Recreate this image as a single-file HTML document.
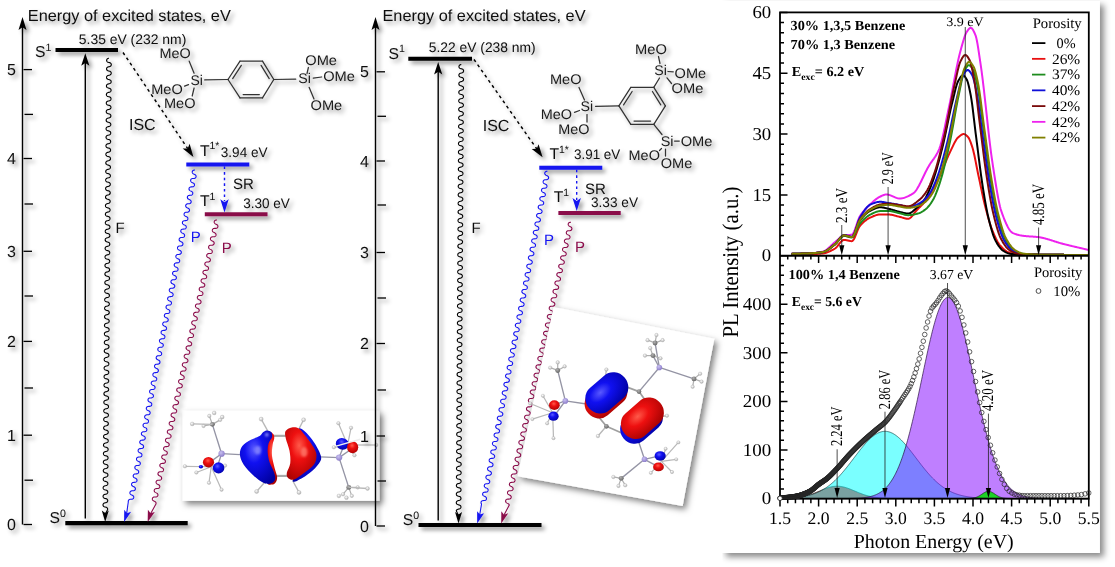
<!DOCTYPE html>
<html lang="en"><head><meta charset="utf-8"><title>Energy diagram and PL spectra</title>
<style>html,body{margin:0;padding:0;background:#fff}svg{display:block;text-rendering:geometricPrecision}</style></head><body>
<svg width="1115" height="567" viewBox="0 0 1115 567">
<defs>
<filter id="sh" x="-5%" y="-5%" width="115%" height="115%"><feDropShadow dx="3" dy="3" stdDeviation="2.2" flood-color="#000" flood-opacity="0.42"/></filter>
<filter id="shBox" x="-10%" y="-10%" width="125%" height="125%"><feDropShadow dx="3" dy="3.5" stdDeviation="3" flood-color="#000" flood-opacity="0.5"/></filter>
<filter id="shPanel" x="-5%" y="-5%" width="112%" height="112%"><feDropShadow dx="4" dy="4" stdDeviation="3.1" flood-color="#000" flood-opacity="0.46"/></filter>
<radialGradient id="gB" cx="40%" cy="35%" r="75%"><stop offset="0" stop-color="#5a5aff"/><stop offset="0.35" stop-color="#1010f0"/><stop offset="1" stop-color="#0000a0"/></radialGradient>
<radialGradient id="gR" cx="45%" cy="35%" r="75%"><stop offset="0" stop-color="#ff5a4a"/><stop offset="0.35" stop-color="#ee1010"/><stop offset="1" stop-color="#a00000"/></radialGradient>
<radialGradient id="gSi" cx="40%" cy="35%" r="70%"><stop offset="0" stop-color="#c8c0f0"/><stop offset="1" stop-color="#8878c8"/></radialGradient>
<radialGradient id="gH" cx="40%" cy="35%" r="70%"><stop offset="0" stop-color="#ffffff"/><stop offset="1" stop-color="#a8a8a8"/></radialGradient>
<radialGradient id="gC" cx="40%" cy="35%" r="70%"><stop offset="0" stop-color="#b0b0b0"/><stop offset="1" stop-color="#606060"/></radialGradient>
<filter id="blur1" x="-50%" y="-50%" width="200%" height="200%"><feGaussianBlur stdDeviation="1.3"/></filter>
</defs>
<rect width="1115" height="567" fill="#fff"/>
<g filter="url(#shPanel)"><rect x="722" y="1" width="377.9" height="552" fill="#fff"/></g>
<rect x="708" y="0" width="14.4" height="567" fill="#fff"/>
<clipPath id="cl1"><rect x="780" y="12.4" width="308.8" height="243.3"/></clipPath>
<clipPath id="cl3"><rect x="777" y="255.7" width="314.8" height="243.5"/></clipPath>
<clipPath id="cl2"><rect x="780" y="255.7" width="308.8" height="245.9"/></clipPath>
<g clip-path="url(#cl2)">
<path d="M780 498.6 L780 498.53 L780.62 498.52 L781.24 498.51 L781.86 498.5 L782.48 498.49 L783.09 498.48 L783.71 498.47 L784.33 498.45 L784.95 498.43 L785.57 498.42 L786.19 498.4 L786.81 498.38 L787.43 498.35 L788.04 498.33 L788.66 498.3 L789.28 498.27 L789.9 498.24 L790.52 498.2 L791.14 498.17 L791.76 498.13 L792.38 498.08 L793 498.04 L793.61 497.98 L794.23 497.93 L794.85 497.87 L795.47 497.81 L796.09 497.74 L796.71 497.67 L797.33 497.6 L797.95 497.51 L798.57 497.43 L799.18 497.34 L799.8 497.24 L800.42 497.14 L801.04 497.03 L801.66 496.92 L802.28 496.79 L802.9 496.67 L803.52 496.54 L804.13 496.4 L804.75 496.25 L805.37 496.1 L805.99 495.94 L806.61 495.77 L807.23 495.6 L807.85 495.42 L808.47 495.23 L809.09 495.04 L809.7 494.84 L810.32 494.64 L810.94 494.42 L811.56 494.21 L812.18 493.98 L812.8 493.75 L813.42 493.52 L814.04 493.28 L814.65 493.04 L815.27 492.79 L815.89 492.54 L816.51 492.29 L817.13 492.03 L817.75 491.77 L818.37 491.51 L818.99 491.25 L819.61 490.99 L820.22 490.73 L820.84 490.47 L821.46 490.21 L822.08 489.95 L822.7 489.7 L823.32 489.45 L823.94 489.2 L824.56 488.96 L825.18 488.72 L825.79 488.5 L826.41 488.27 L827.03 488.06 L827.65 487.86 L828.27 487.66 L828.89 487.48 L829.51 487.3 L830.13 487.14 L830.74 486.99 L831.36 486.85 L831.98 486.72 L832.6 486.61 L833.22 486.51 L833.84 486.42 L834.46 486.35 L835.08 486.29 L835.7 486.25 L836.31 486.23 L836.93 486.21 L837.55 486.22 L838.17 486.23 L838.79 486.27 L839.41 486.31 L840.03 486.38 L840.65 486.45 L841.26 486.54 L841.88 486.65 L842.5 486.77 L843.12 486.9 L843.74 487.04 L844.36 487.2 L844.98 487.37 L845.6 487.54 L846.22 487.73 L846.83 487.93 L847.45 488.14 L848.07 488.36 L848.69 488.58 L849.31 488.81 L849.93 489.05 L850.55 489.29 L851.17 489.54 L851.79 489.79 L852.4 490.04 L853.02 490.3 L853.64 490.56 L854.26 490.82 L854.88 491.08 L855.5 491.35 L856.12 491.61 L856.74 491.87 L857.35 492.13 L857.97 492.38 L858.59 492.63 L859.21 492.88 L859.83 493.13 L860.45 493.37 L861.07 493.61 L861.69 493.84 L862.31 494.07 L862.92 494.29 L863.54 494.5 L864.16 494.71 L864.78 494.92 L865.4 495.11 L866.02 495.3 L866.64 495.49 L867.26 495.66 L867.87 495.83 L868.49 496 L869.11 496.15 L869.73 496.3 L870.35 496.45 L870.97 496.59 L871.59 496.72 L872.21 496.84 L872.83 496.96 L873.44 497.07 L874.06 497.18 L874.68 497.28 L875.3 497.37 L875.92 497.46 L876.54 497.55 L877.16 497.62 L877.78 497.7 L878.4 497.77 L879.01 497.83 L879.63 497.89 L880.25 497.95 L880.87 498 L881.49 498.05 L882.11 498.1 L882.73 498.14 L883.35 498.18 L883.96 498.22 L884.58 498.25 L885.2 498.28 L885.82 498.31 L886.44 498.34 L887.06 498.36 L887.68 498.38 L888.3 498.41 L888.92 498.42 L889.53 498.44 L890.15 498.46 L890.77 498.47 L891.39 498.48 L892.01 498.5 L892.63 498.51 L893.25 498.52 L893.87 498.52 L894.48 498.53 L895.1 498.54 L895.72 498.55 L896.34 498.55 L896.96 498.56 L897.58 498.56 L898.2 498.57 L898.82 498.57 L899.44 498.57 L900.05 498.58 L900.67 498.58 L901.29 498.58 L901.91 498.58 L902.53 498.59 L903.15 498.59 L903.77 498.59 L904.39 498.59 L905.01 498.59 L905.62 498.59 L906.24 498.59 L906.86 498.59 L907.48 498.6 L908.1 498.6 L908.72 498.6 L909.34 498.6 L909.96 498.6 L910.57 498.6 L911.19 498.6 L911.81 498.6 L912.43 498.6 L913.05 498.6 L913.67 498.6 L914.29 498.6 L914.91 498.6 L915.53 498.6 L916.14 498.6 L916.76 498.6 L917.38 498.6 L918 498.6 L918.62 498.6 L919.24 498.6 L919.86 498.6 L920.48 498.6 L921.09 498.6 L921.71 498.6 L922.33 498.6 L922.95 498.6 L923.57 498.6 L924.19 498.6 L924.81 498.6 L925.43 498.6 L926.05 498.6 L926.66 498.6 L927.28 498.6 L927.9 498.6 L928.52 498.6 L929.14 498.6 L929.76 498.6 L930.38 498.6 L931 498.6 L931.62 498.6 L932.23 498.6 L932.85 498.6 L933.47 498.6 L934.09 498.6 L934.71 498.6 L935.33 498.6 L935.95 498.6 L936.57 498.6 L937.18 498.6 L937.8 498.6 L938.42 498.6 L939.04 498.6 L939.66 498.6 L940.28 498.6 L940.9 498.6 L941.52 498.6 L942.14 498.6 L942.75 498.6 L943.37 498.6 L943.99 498.6 L944.61 498.6 L945.23 498.6 L945.85 498.6 L946.47 498.6 L947.09 498.6 L947.71 498.6 L948.32 498.6 L948.94 498.6 L949.56 498.6 L950.18 498.6 L950.8 498.6 L951.42 498.6 L952.04 498.6 L952.66 498.6 L953.27 498.6 L953.89 498.6 L954.51 498.6 L955.13 498.6 L955.75 498.6 L956.37 498.6 L956.99 498.6 L957.61 498.6 L958.23 498.6 L958.84 498.6 L959.46 498.6 L960.08 498.6 L960.7 498.6 L961.32 498.6 L961.94 498.6 L962.56 498.6 L963.18 498.6 L963.79 498.6 L964.41 498.6 L965.03 498.6 L965.65 498.6 L966.27 498.6 L966.89 498.6 L967.51 498.6 L968.13 498.6 L968.75 498.6 L969.36 498.6 L969.98 498.6 L970.6 498.6 L971.22 498.6 L971.84 498.6 L972.46 498.6 L973.08 498.6 L973.7 498.6 L974.32 498.6 L974.93 498.6 L975.55 498.6 L976.17 498.6 L976.79 498.6 L977.41 498.6 L978.03 498.6 L978.65 498.6 L979.27 498.6 L979.88 498.6 L980.5 498.6 L981.12 498.6 L981.74 498.6 L982.36 498.6 L982.98 498.6 L983.6 498.6 L984.22 498.6 L984.84 498.6 L985.45 498.6 L986.07 498.6 L986.69 498.6 L987.31 498.6 L987.93 498.6 L988.55 498.6 L989.17 498.6 L989.79 498.6 L990.4 498.6 L991.02 498.6 L991.64 498.6 L992.26 498.6 L992.88 498.6 L993.5 498.6 L994.12 498.6 L994.74 498.6 L995.36 498.6 L995.97 498.6 L996.59 498.6 L997.21 498.6 L997.83 498.6 L998.45 498.6 L999.07 498.6 L999.69 498.6 L1000.31 498.6 L1000.93 498.6 L1001.54 498.6 L1002.16 498.6 L1002.78 498.6 L1003.4 498.6 L1004.02 498.6 L1004.64 498.6 L1005.26 498.6 L1005.88 498.6 L1006.49 498.6 L1007.11 498.6 L1007.73 498.6 L1008.35 498.6 L1008.97 498.6 L1009.59 498.6 L1010.21 498.6 L1010.83 498.6 L1011.45 498.6 L1012.06 498.6 L1012.68 498.6 L1013.3 498.6 L1013.92 498.6 L1014.54 498.6 L1015.16 498.6 L1015.78 498.6 L1016.4 498.6 L1017.01 498.6 L1017.63 498.6 L1018.25 498.6 L1018.87 498.6 L1019.49 498.6 L1020.11 498.6 L1020.73 498.6 L1021.35 498.6 L1021.97 498.6 L1022.58 498.6 L1023.2 498.6 L1023.82 498.6 L1024.44 498.6 L1025.06 498.6 L1025.68 498.6 L1026.3 498.6 L1026.92 498.6 L1027.54 498.6 L1028.15 498.6 L1028.77 498.6 L1029.39 498.6 L1030.01 498.6 L1030.63 498.6 L1031.25 498.6 L1031.87 498.6 L1032.49 498.6 L1033.1 498.6 L1033.72 498.6 L1034.34 498.6 L1034.96 498.6 L1035.58 498.6 L1036.2 498.6 L1036.82 498.6 L1037.44 498.6 L1038.06 498.6 L1038.67 498.6 L1039.29 498.6 L1039.91 498.6 L1040.53 498.6 L1041.15 498.6 L1041.77 498.6 L1042.39 498.6 L1043.01 498.6 L1043.62 498.6 L1044.24 498.6 L1044.86 498.6 L1045.48 498.6 L1046.1 498.6 L1046.72 498.6 L1047.34 498.6 L1047.96 498.6 L1048.58 498.6 L1049.19 498.6 L1049.81 498.6 L1050.43 498.6 L1051.05 498.6 L1051.67 498.6 L1052.29 498.6 L1052.91 498.6 L1053.53 498.6 L1054.15 498.6 L1054.76 498.6 L1055.38 498.6 L1056 498.6 L1056.62 498.6 L1057.24 498.6 L1057.86 498.6 L1058.48 498.6 L1059.1 498.6 L1059.71 498.6 L1060.33 498.6 L1060.95 498.6 L1061.57 498.6 L1062.19 498.6 L1062.81 498.6 L1063.43 498.6 L1064.05 498.6 L1064.67 498.6 L1065.28 498.6 L1065.9 498.6 L1066.52 498.6 L1067.14 498.6 L1067.76 498.6 L1068.38 498.6 L1069 498.6 L1069.62 498.6 L1070.23 498.6 L1070.85 498.6 L1071.47 498.6 L1072.09 498.6 L1072.71 498.6 L1073.33 498.6 L1073.95 498.6 L1074.57 498.6 L1075.19 498.6 L1075.8 498.6 L1076.42 498.6 L1077.04 498.6 L1077.66 498.6 L1078.28 498.6 L1078.9 498.6 L1079.52 498.6 L1080.14 498.6 L1080.76 498.6 L1081.37 498.6 L1081.99 498.6 L1082.61 498.6 L1083.23 498.6 L1083.85 498.6 L1084.47 498.6 L1085.09 498.6 L1085.71 498.6 L1086.32 498.6 L1086.94 498.6 L1087.56 498.6 L1088.18 498.6 L1088.8 498.6 L1088.8 498.6 Z" stroke="#222" fill="#ff3c3c" stroke-width="0.7" />
<path d="M780 498.6 L780 498.39 L780.62 498.38 L781.24 498.36 L781.86 498.35 L782.48 498.33 L783.09 498.31 L783.71 498.29 L784.33 498.27 L784.95 498.25 L785.57 498.22 L786.19 498.2 L786.81 498.17 L787.43 498.14 L788.04 498.11 L788.66 498.08 L789.28 498.05 L789.9 498.01 L790.52 497.98 L791.14 497.94 L791.76 497.89 L792.38 497.85 L793 497.8 L793.61 497.76 L794.23 497.7 L794.85 497.65 L795.47 497.59 L796.09 497.53 L796.71 497.47 L797.33 497.4 L797.95 497.33 L798.57 497.26 L799.18 497.18 L799.8 497.1 L800.42 497.02 L801.04 496.93 L801.66 496.84 L802.28 496.74 L802.9 496.64 L803.52 496.53 L804.13 496.42 L804.75 496.3 L805.37 496.18 L805.99 496.05 L806.61 495.92 L807.23 495.78 L807.85 495.63 L808.47 495.48 L809.09 495.32 L809.7 495.16 L810.32 494.98 L810.94 494.8 L811.56 494.62 L812.18 494.43 L812.8 494.22 L813.42 494.02 L814.04 493.8 L814.65 493.57 L815.27 493.34 L815.89 493.1 L816.51 492.85 L817.13 492.59 L817.75 492.32 L818.37 492.04 L818.99 491.75 L819.61 491.45 L820.22 491.14 L820.84 490.82 L821.46 490.49 L822.08 490.15 L822.7 489.8 L823.32 489.44 L823.94 489.07 L824.56 488.69 L825.18 488.29 L825.79 487.89 L826.41 487.47 L827.03 487.04 L827.65 486.6 L828.27 486.15 L828.89 485.68 L829.51 485.21 L830.13 484.72 L830.74 484.22 L831.36 483.71 L831.98 483.18 L832.6 482.65 L833.22 482.1 L833.84 481.54 L834.46 480.96 L835.08 480.38 L835.7 479.78 L836.31 479.18 L836.93 478.56 L837.55 477.93 L838.17 477.28 L838.79 476.63 L839.41 475.97 L840.03 475.29 L840.65 474.61 L841.26 473.91 L841.88 473.21 L842.5 472.49 L843.12 471.77 L843.74 471.03 L844.36 470.29 L844.98 469.54 L845.6 468.78 L846.22 468.02 L846.83 467.24 L847.45 466.46 L848.07 465.68 L848.69 464.88 L849.31 464.09 L849.93 463.29 L850.55 462.48 L851.17 461.67 L851.79 460.86 L852.4 460.05 L853.02 459.23 L853.64 458.41 L854.26 457.59 L854.88 456.78 L855.5 455.96 L856.12 455.14 L856.74 454.33 L857.35 453.52 L857.97 452.71 L858.59 451.91 L859.21 451.12 L859.83 450.32 L860.45 449.54 L861.07 448.76 L861.69 447.99 L862.31 447.23 L862.92 446.48 L863.54 445.74 L864.16 445.01 L864.78 444.29 L865.4 443.58 L866.02 442.89 L866.64 442.21 L867.26 441.55 L867.87 440.9 L868.49 440.27 L869.11 439.65 L869.73 439.05 L870.35 438.47 L870.97 437.91 L871.59 437.37 L872.21 436.84 L872.83 436.34 L873.44 435.86 L874.06 435.4 L874.68 434.96 L875.3 434.55 L875.92 434.16 L876.54 433.79 L877.16 433.45 L877.78 433.13 L878.4 432.83 L879.01 432.57 L879.63 432.32 L880.25 432.1 L880.87 431.91 L881.49 431.75 L882.11 431.61 L882.73 431.5 L883.35 431.41 L883.96 431.35 L884.58 431.32 L885.2 431.32 L885.82 431.34 L886.44 431.39 L887.06 431.47 L887.68 431.57 L888.3 431.7 L888.92 431.86 L889.53 432.04 L890.15 432.25 L890.77 432.49 L891.39 432.75 L892.01 433.03 L892.63 433.34 L893.25 433.68 L893.87 434.04 L894.48 434.42 L895.1 434.83 L895.72 435.26 L896.34 435.71 L896.96 436.19 L897.58 436.68 L898.2 437.2 L898.82 437.73 L899.44 438.29 L900.05 438.86 L900.67 439.46 L901.29 440.07 L901.91 440.69 L902.53 441.34 L903.15 442 L903.77 442.67 L904.39 443.36 L905.01 444.06 L905.62 444.78 L906.24 445.5 L906.86 446.24 L907.48 446.99 L908.1 447.75 L908.72 448.51 L909.34 449.29 L909.96 450.07 L910.57 450.86 L911.19 451.66 L911.81 452.46 L912.43 453.26 L913.05 454.07 L913.67 454.88 L914.29 455.7 L914.91 456.52 L915.53 457.33 L916.14 458.15 L916.76 458.97 L917.38 459.78 L918 460.6 L918.62 461.41 L919.24 462.22 L919.86 463.03 L920.48 463.83 L921.09 464.63 L921.71 465.42 L922.33 466.21 L922.95 466.99 L923.57 467.77 L924.19 468.54 L924.81 469.3 L925.43 470.05 L926.05 470.8 L926.66 471.53 L927.28 472.26 L927.9 472.98 L928.52 473.69 L929.14 474.39 L929.76 475.07 L930.38 475.75 L931 476.42 L931.62 477.08 L932.23 477.72 L932.85 478.36 L933.47 478.98 L934.09 479.59 L934.71 480.19 L935.33 480.78 L935.95 481.36 L936.57 481.92 L937.18 482.47 L937.8 483.01 L938.42 483.54 L939.04 484.06 L939.66 484.56 L940.28 485.05 L940.9 485.53 L941.52 486 L942.14 486.46 L942.75 486.9 L943.37 487.33 L943.99 487.76 L944.61 488.16 L945.23 488.56 L945.85 488.95 L946.47 489.33 L947.09 489.69 L947.71 490.04 L948.32 490.39 L948.94 490.72 L949.56 491.04 L950.18 491.35 L950.8 491.65 L951.42 491.95 L952.04 492.23 L952.66 492.5 L953.27 492.76 L953.89 493.02 L954.51 493.26 L955.13 493.5 L955.75 493.73 L956.37 493.95 L956.99 494.16 L957.61 494.36 L958.23 494.56 L958.84 494.75 L959.46 494.93 L960.08 495.1 L960.7 495.27 L961.32 495.43 L961.94 495.58 L962.56 495.73 L963.18 495.87 L963.79 496.01 L964.41 496.14 L965.03 496.26 L965.65 496.38 L966.27 496.49 L966.89 496.6 L967.51 496.71 L968.13 496.81 L968.75 496.9 L969.36 496.99 L969.98 497.08 L970.6 497.16 L971.22 497.24 L971.84 497.31 L972.46 497.38 L973.08 497.45 L973.7 497.51 L974.32 497.57 L974.93 497.63 L975.55 497.69 L976.17 497.74 L976.79 497.79 L977.41 497.84 L978.03 497.88 L978.65 497.92 L979.27 497.96 L979.88 498 L980.5 498.04 L981.12 498.07 L981.74 498.1 L982.36 498.13 L982.98 498.16 L983.6 498.19 L984.22 498.21 L984.84 498.24 L985.45 498.26 L986.07 498.28 L986.69 498.3 L987.31 498.32 L987.93 498.34 L988.55 498.36 L989.17 498.37 L989.79 498.39 L990.4 498.4 L991.02 498.41 L991.64 498.43 L992.26 498.44 L992.88 498.45 L993.5 498.46 L994.12 498.47 L994.74 498.48 L995.36 498.49 L995.97 498.49 L996.59 498.5 L997.21 498.51 L997.83 498.52 L998.45 498.52 L999.07 498.53 L999.69 498.53 L1000.31 498.54 L1000.93 498.54 L1001.54 498.55 L1002.16 498.55 L1002.78 498.55 L1003.4 498.56 L1004.02 498.56 L1004.64 498.56 L1005.26 498.57 L1005.88 498.57 L1006.49 498.57 L1007.11 498.57 L1007.73 498.58 L1008.35 498.58 L1008.97 498.58 L1009.59 498.58 L1010.21 498.58 L1010.83 498.58 L1011.45 498.58 L1012.06 498.59 L1012.68 498.59 L1013.3 498.59 L1013.92 498.59 L1014.54 498.59 L1015.16 498.59 L1015.78 498.59 L1016.4 498.59 L1017.01 498.59 L1017.63 498.59 L1018.25 498.59 L1018.87 498.59 L1019.49 498.59 L1020.11 498.6 L1020.73 498.6 L1021.35 498.6 L1021.97 498.6 L1022.58 498.6 L1023.2 498.6 L1023.82 498.6 L1024.44 498.6 L1025.06 498.6 L1025.68 498.6 L1026.3 498.6 L1026.92 498.6 L1027.54 498.6 L1028.15 498.6 L1028.77 498.6 L1029.39 498.6 L1030.01 498.6 L1030.63 498.6 L1031.25 498.6 L1031.87 498.6 L1032.49 498.6 L1033.1 498.6 L1033.72 498.6 L1034.34 498.6 L1034.96 498.6 L1035.58 498.6 L1036.2 498.6 L1036.82 498.6 L1037.44 498.6 L1038.06 498.6 L1038.67 498.6 L1039.29 498.6 L1039.91 498.6 L1040.53 498.6 L1041.15 498.6 L1041.77 498.6 L1042.39 498.6 L1043.01 498.6 L1043.62 498.6 L1044.24 498.6 L1044.86 498.6 L1045.48 498.6 L1046.1 498.6 L1046.72 498.6 L1047.34 498.6 L1047.96 498.6 L1048.58 498.6 L1049.19 498.6 L1049.81 498.6 L1050.43 498.6 L1051.05 498.6 L1051.67 498.6 L1052.29 498.6 L1052.91 498.6 L1053.53 498.6 L1054.15 498.6 L1054.76 498.6 L1055.38 498.6 L1056 498.6 L1056.62 498.6 L1057.24 498.6 L1057.86 498.6 L1058.48 498.6 L1059.1 498.6 L1059.71 498.6 L1060.33 498.6 L1060.95 498.6 L1061.57 498.6 L1062.19 498.6 L1062.81 498.6 L1063.43 498.6 L1064.05 498.6 L1064.67 498.6 L1065.28 498.6 L1065.9 498.6 L1066.52 498.6 L1067.14 498.6 L1067.76 498.6 L1068.38 498.6 L1069 498.6 L1069.62 498.6 L1070.23 498.6 L1070.85 498.6 L1071.47 498.6 L1072.09 498.6 L1072.71 498.6 L1073.33 498.6 L1073.95 498.6 L1074.57 498.6 L1075.19 498.6 L1075.8 498.6 L1076.42 498.6 L1077.04 498.6 L1077.66 498.6 L1078.28 498.6 L1078.9 498.6 L1079.52 498.6 L1080.14 498.6 L1080.76 498.6 L1081.37 498.6 L1081.99 498.6 L1082.61 498.6 L1083.23 498.6 L1083.85 498.6 L1084.47 498.6 L1085.09 498.6 L1085.71 498.6 L1086.32 498.6 L1086.94 498.6 L1087.56 498.6 L1088.18 498.6 L1088.8 498.6 L1088.8 498.6 Z" stroke="#1a4a4a" fill="#00ffff" stroke-width="0.7" fill-opacity="0.52"/>
<path d="M780 498.6 L780 498.6 L780.62 498.6 L781.24 498.6 L781.86 498.6 L782.48 498.6 L783.09 498.6 L783.71 498.6 L784.33 498.6 L784.95 498.6 L785.57 498.6 L786.19 498.6 L786.81 498.6 L787.43 498.6 L788.04 498.6 L788.66 498.6 L789.28 498.6 L789.9 498.6 L790.52 498.6 L791.14 498.6 L791.76 498.6 L792.38 498.6 L793 498.6 L793.61 498.6 L794.23 498.6 L794.85 498.6 L795.47 498.6 L796.09 498.6 L796.71 498.6 L797.33 498.6 L797.95 498.6 L798.57 498.6 L799.18 498.6 L799.8 498.6 L800.42 498.6 L801.04 498.6 L801.66 498.6 L802.28 498.6 L802.9 498.6 L803.52 498.6 L804.13 498.6 L804.75 498.6 L805.37 498.6 L805.99 498.6 L806.61 498.6 L807.23 498.6 L807.85 498.6 L808.47 498.6 L809.09 498.6 L809.7 498.6 L810.32 498.6 L810.94 498.6 L811.56 498.6 L812.18 498.6 L812.8 498.6 L813.42 498.6 L814.04 498.6 L814.65 498.6 L815.27 498.6 L815.89 498.6 L816.51 498.6 L817.13 498.6 L817.75 498.6 L818.37 498.6 L818.99 498.6 L819.61 498.6 L820.22 498.6 L820.84 498.6 L821.46 498.6 L822.08 498.6 L822.7 498.6 L823.32 498.6 L823.94 498.6 L824.56 498.6 L825.18 498.6 L825.79 498.6 L826.41 498.6 L827.03 498.6 L827.65 498.6 L828.27 498.6 L828.89 498.6 L829.51 498.6 L830.13 498.59 L830.74 498.59 L831.36 498.59 L831.98 498.59 L832.6 498.59 L833.22 498.59 L833.84 498.59 L834.46 498.59 L835.08 498.59 L835.7 498.59 L836.31 498.58 L836.93 498.58 L837.55 498.58 L838.17 498.58 L838.79 498.58 L839.41 498.57 L840.03 498.57 L840.65 498.57 L841.26 498.57 L841.88 498.56 L842.5 498.56 L843.12 498.55 L843.74 498.55 L844.36 498.54 L844.98 498.54 L845.6 498.53 L846.22 498.52 L846.83 498.52 L847.45 498.51 L848.07 498.5 L848.69 498.49 L849.31 498.48 L849.93 498.47 L850.55 498.45 L851.17 498.44 L851.79 498.42 L852.4 498.41 L853.02 498.39 L853.64 498.37 L854.26 498.35 L854.88 498.32 L855.5 498.3 L856.12 498.27 L856.74 498.24 L857.35 498.21 L857.97 498.17 L858.59 498.14 L859.21 498.1 L859.83 498.05 L860.45 498 L861.07 497.95 L861.69 497.9 L862.31 497.84 L862.92 497.78 L863.54 497.71 L864.16 497.63 L864.78 497.55 L865.4 497.47 L866.02 497.38 L866.64 497.28 L867.26 497.18 L867.87 497.07 L868.49 496.95 L869.11 496.82 L869.73 496.68 L870.35 496.53 L870.97 496.38 L871.59 496.21 L872.21 496.04 L872.83 495.85 L873.44 495.65 L874.06 495.43 L874.68 495.2 L875.3 494.96 L875.92 494.71 L876.54 494.43 L877.16 494.15 L877.78 493.84 L878.4 493.52 L879.01 493.17 L879.63 492.81 L880.25 492.43 L880.87 492.03 L881.49 491.6 L882.11 491.15 L882.73 490.68 L883.35 490.18 L883.96 489.65 L884.58 489.1 L885.2 488.52 L885.82 487.91 L886.44 487.26 L887.06 486.59 L887.68 485.89 L888.3 485.15 L888.92 484.38 L889.53 483.57 L890.15 482.72 L890.77 481.84 L891.39 480.92 L892.01 479.96 L892.63 478.95 L893.25 477.91 L893.87 476.82 L894.48 475.69 L895.1 474.52 L895.72 473.3 L896.34 472.03 L896.96 470.71 L897.58 469.35 L898.2 467.94 L898.82 466.48 L899.44 464.97 L900.05 463.41 L900.67 461.8 L901.29 460.13 L901.91 458.42 L902.53 456.65 L903.15 454.83 L903.77 452.96 L904.39 451.04 L905.01 449.06 L905.62 447.03 L906.24 444.95 L906.86 442.82 L907.48 440.64 L908.1 438.4 L908.72 436.12 L909.34 433.79 L909.96 431.41 L910.57 428.99 L911.19 426.52 L911.81 424 L912.43 421.44 L913.05 418.84 L913.67 416.21 L914.29 413.53 L914.91 410.82 L915.53 408.07 L916.14 405.29 L916.76 402.49 L917.38 399.66 L918 396.8 L918.62 393.92 L919.24 391.02 L919.86 388.11 L920.48 385.18 L921.09 382.25 L921.71 379.31 L922.33 376.36 L922.95 373.42 L923.57 370.48 L924.19 367.54 L924.81 364.62 L925.43 361.71 L926.05 358.82 L926.66 355.96 L927.28 353.11 L927.9 350.3 L928.52 347.53 L929.14 344.79 L929.76 342.09 L930.38 339.43 L931 336.83 L931.62 334.28 L932.23 331.79 L932.85 329.36 L933.47 326.99 L934.09 324.69 L934.71 322.46 L935.33 320.31 L935.95 318.24 L936.57 316.24 L937.18 314.34 L937.8 312.52 L938.42 310.8 L939.04 309.17 L939.66 307.63 L940.28 306.2 L940.9 304.87 L941.52 303.64 L942.14 302.52 L942.75 301.51 L943.37 300.61 L943.99 299.82 L944.61 299.14 L945.23 298.58 L945.85 298.13 L946.47 297.8 L947.09 297.58 L947.71 297.49 L948.32 297.51 L948.94 297.64 L949.56 297.9 L950.18 298.27 L950.8 298.75 L951.42 299.35 L952.04 300.07 L952.66 300.9 L953.27 301.84 L953.89 302.89 L954.51 304.04 L955.13 305.3 L955.75 306.67 L956.37 308.14 L956.99 309.71 L957.61 311.37 L958.23 313.13 L958.84 314.97 L959.46 316.91 L960.08 318.93 L960.7 321.03 L961.32 323.2 L961.94 325.46 L962.56 327.78 L963.18 330.17 L963.79 332.62 L964.41 335.14 L965.03 337.7 L965.65 340.32 L966.27 342.99 L966.89 345.71 L967.51 348.46 L968.13 351.25 L968.75 354.07 L969.36 356.92 L969.98 359.8 L970.6 362.69 L971.22 365.6 L971.84 368.53 L972.46 371.47 L973.08 374.41 L973.7 377.36 L974.32 380.3 L974.93 383.24 L975.55 386.17 L976.17 389.09 L976.79 392 L977.41 394.89 L978.03 397.76 L978.65 400.61 L979.27 403.44 L979.88 406.23 L980.5 409 L981.12 411.74 L981.74 414.44 L982.36 417.1 L982.98 419.73 L983.6 422.31 L984.22 424.85 L984.84 427.36 L985.45 429.81 L986.07 432.22 L986.69 434.58 L987.31 436.9 L987.93 439.16 L988.55 441.38 L989.17 443.54 L989.79 445.66 L990.4 447.72 L991.02 449.73 L991.64 451.69 L992.26 453.6 L992.88 455.45 L993.5 457.25 L994.12 459 L994.74 460.7 L995.36 462.35 L995.97 463.94 L996.59 465.48 L997.21 466.98 L997.83 468.42 L998.45 469.82 L999.07 471.16 L999.69 472.46 L1000.31 473.71 L1000.93 474.92 L1001.54 476.08 L1002.16 477.19 L1002.78 478.27 L1003.4 479.3 L1004.02 480.29 L1004.64 481.23 L1005.26 482.14 L1005.88 483.01 L1006.49 483.84 L1007.11 484.64 L1007.73 485.4 L1008.35 486.13 L1008.97 486.82 L1009.59 487.48 L1010.21 488.11 L1010.83 488.72 L1011.45 489.29 L1012.06 489.83 L1012.68 490.35 L1013.3 490.84 L1013.92 491.3 L1014.54 491.75 L1015.16 492.16 L1015.78 492.56 L1016.4 492.94 L1017.01 493.29 L1017.63 493.63 L1018.25 493.95 L1018.87 494.25 L1019.49 494.53 L1020.11 494.79 L1020.73 495.05 L1021.35 495.28 L1021.97 495.51 L1022.58 495.71 L1023.2 495.91 L1023.82 496.1 L1024.44 496.27 L1025.06 496.43 L1025.68 496.58 L1026.3 496.73 L1026.92 496.86 L1027.54 496.99 L1028.15 497.1 L1028.77 497.21 L1029.39 497.32 L1030.01 497.41 L1030.63 497.5 L1031.25 497.58 L1031.87 497.66 L1032.49 497.73 L1033.1 497.8 L1033.72 497.86 L1034.34 497.92 L1034.96 497.97 L1035.58 498.02 L1036.2 498.07 L1036.82 498.11 L1037.44 498.15 L1038.06 498.19 L1038.67 498.22 L1039.29 498.25 L1039.91 498.28 L1040.53 498.31 L1041.15 498.33 L1041.77 498.35 L1042.39 498.37 L1043.01 498.39 L1043.62 498.41 L1044.24 498.43 L1044.86 498.44 L1045.48 498.46 L1046.1 498.47 L1046.72 498.48 L1047.34 498.49 L1047.96 498.5 L1048.58 498.51 L1049.19 498.52 L1049.81 498.53 L1050.43 498.53 L1051.05 498.54 L1051.67 498.54 L1052.29 498.55 L1052.91 498.55 L1053.53 498.56 L1054.15 498.56 L1054.76 498.57 L1055.38 498.57 L1056 498.57 L1056.62 498.58 L1057.24 498.58 L1057.86 498.58 L1058.48 498.58 L1059.1 498.58 L1059.71 498.59 L1060.33 498.59 L1060.95 498.59 L1061.57 498.59 L1062.19 498.59 L1062.81 498.59 L1063.43 498.59 L1064.05 498.59 L1064.67 498.59 L1065.28 498.59 L1065.9 498.59 L1066.52 498.6 L1067.14 498.6 L1067.76 498.6 L1068.38 498.6 L1069 498.6 L1069.62 498.6 L1070.23 498.6 L1070.85 498.6 L1071.47 498.6 L1072.09 498.6 L1072.71 498.6 L1073.33 498.6 L1073.95 498.6 L1074.57 498.6 L1075.19 498.6 L1075.8 498.6 L1076.42 498.6 L1077.04 498.6 L1077.66 498.6 L1078.28 498.6 L1078.9 498.6 L1079.52 498.6 L1080.14 498.6 L1080.76 498.6 L1081.37 498.6 L1081.99 498.6 L1082.61 498.6 L1083.23 498.6 L1083.85 498.6 L1084.47 498.6 L1085.09 498.6 L1085.71 498.6 L1086.32 498.6 L1086.94 498.6 L1087.56 498.6 L1088.18 498.6 L1088.8 498.6 L1088.8 498.6 Z" stroke="#2a1040" fill="#8000ff" stroke-width="0.7" fill-opacity="0.5"/>
<path d="M780 498.6 L780 498.6 L780.62 498.6 L781.24 498.6 L781.86 498.6 L782.48 498.6 L783.09 498.6 L783.71 498.6 L784.33 498.6 L784.95 498.6 L785.57 498.6 L786.19 498.6 L786.81 498.6 L787.43 498.6 L788.04 498.6 L788.66 498.6 L789.28 498.6 L789.9 498.6 L790.52 498.6 L791.14 498.6 L791.76 498.6 L792.38 498.6 L793 498.6 L793.61 498.6 L794.23 498.6 L794.85 498.6 L795.47 498.6 L796.09 498.6 L796.71 498.6 L797.33 498.6 L797.95 498.6 L798.57 498.6 L799.18 498.6 L799.8 498.6 L800.42 498.6 L801.04 498.6 L801.66 498.6 L802.28 498.6 L802.9 498.6 L803.52 498.6 L804.13 498.6 L804.75 498.6 L805.37 498.6 L805.99 498.6 L806.61 498.6 L807.23 498.6 L807.85 498.6 L808.47 498.6 L809.09 498.6 L809.7 498.6 L810.32 498.6 L810.94 498.6 L811.56 498.6 L812.18 498.6 L812.8 498.6 L813.42 498.6 L814.04 498.6 L814.65 498.6 L815.27 498.6 L815.89 498.6 L816.51 498.6 L817.13 498.6 L817.75 498.6 L818.37 498.6 L818.99 498.6 L819.61 498.6 L820.22 498.6 L820.84 498.6 L821.46 498.6 L822.08 498.6 L822.7 498.6 L823.32 498.6 L823.94 498.6 L824.56 498.6 L825.18 498.6 L825.79 498.6 L826.41 498.6 L827.03 498.6 L827.65 498.6 L828.27 498.6 L828.89 498.6 L829.51 498.6 L830.13 498.6 L830.74 498.6 L831.36 498.6 L831.98 498.6 L832.6 498.6 L833.22 498.6 L833.84 498.6 L834.46 498.6 L835.08 498.6 L835.7 498.6 L836.31 498.6 L836.93 498.6 L837.55 498.6 L838.17 498.6 L838.79 498.6 L839.41 498.6 L840.03 498.6 L840.65 498.6 L841.26 498.6 L841.88 498.6 L842.5 498.6 L843.12 498.6 L843.74 498.6 L844.36 498.6 L844.98 498.6 L845.6 498.6 L846.22 498.6 L846.83 498.6 L847.45 498.6 L848.07 498.6 L848.69 498.6 L849.31 498.6 L849.93 498.6 L850.55 498.6 L851.17 498.6 L851.79 498.6 L852.4 498.6 L853.02 498.6 L853.64 498.6 L854.26 498.6 L854.88 498.6 L855.5 498.6 L856.12 498.6 L856.74 498.6 L857.35 498.6 L857.97 498.6 L858.59 498.6 L859.21 498.6 L859.83 498.6 L860.45 498.6 L861.07 498.6 L861.69 498.6 L862.31 498.6 L862.92 498.6 L863.54 498.6 L864.16 498.6 L864.78 498.6 L865.4 498.6 L866.02 498.6 L866.64 498.6 L867.26 498.6 L867.87 498.6 L868.49 498.6 L869.11 498.6 L869.73 498.6 L870.35 498.6 L870.97 498.6 L871.59 498.6 L872.21 498.6 L872.83 498.6 L873.44 498.6 L874.06 498.6 L874.68 498.6 L875.3 498.6 L875.92 498.6 L876.54 498.6 L877.16 498.6 L877.78 498.6 L878.4 498.6 L879.01 498.6 L879.63 498.6 L880.25 498.6 L880.87 498.6 L881.49 498.6 L882.11 498.6 L882.73 498.6 L883.35 498.6 L883.96 498.6 L884.58 498.6 L885.2 498.6 L885.82 498.6 L886.44 498.6 L887.06 498.6 L887.68 498.6 L888.3 498.6 L888.92 498.6 L889.53 498.6 L890.15 498.6 L890.77 498.6 L891.39 498.6 L892.01 498.6 L892.63 498.6 L893.25 498.6 L893.87 498.6 L894.48 498.6 L895.1 498.6 L895.72 498.6 L896.34 498.6 L896.96 498.6 L897.58 498.6 L898.2 498.6 L898.82 498.6 L899.44 498.6 L900.05 498.6 L900.67 498.6 L901.29 498.6 L901.91 498.6 L902.53 498.6 L903.15 498.6 L903.77 498.6 L904.39 498.6 L905.01 498.6 L905.62 498.6 L906.24 498.6 L906.86 498.6 L907.48 498.6 L908.1 498.6 L908.72 498.6 L909.34 498.6 L909.96 498.6 L910.57 498.6 L911.19 498.6 L911.81 498.6 L912.43 498.6 L913.05 498.6 L913.67 498.6 L914.29 498.6 L914.91 498.6 L915.53 498.6 L916.14 498.6 L916.76 498.6 L917.38 498.6 L918 498.6 L918.62 498.6 L919.24 498.6 L919.86 498.6 L920.48 498.6 L921.09 498.6 L921.71 498.6 L922.33 498.6 L922.95 498.6 L923.57 498.6 L924.19 498.6 L924.81 498.6 L925.43 498.6 L926.05 498.6 L926.66 498.6 L927.28 498.6 L927.9 498.6 L928.52 498.6 L929.14 498.6 L929.76 498.6 L930.38 498.6 L931 498.6 L931.62 498.6 L932.23 498.6 L932.85 498.6 L933.47 498.6 L934.09 498.6 L934.71 498.6 L935.33 498.6 L935.95 498.6 L936.57 498.6 L937.18 498.6 L937.8 498.6 L938.42 498.6 L939.04 498.6 L939.66 498.6 L940.28 498.6 L940.9 498.6 L941.52 498.6 L942.14 498.6 L942.75 498.6 L943.37 498.6 L943.99 498.6 L944.61 498.6 L945.23 498.6 L945.85 498.6 L946.47 498.6 L947.09 498.6 L947.71 498.6 L948.32 498.6 L948.94 498.6 L949.56 498.6 L950.18 498.6 L950.8 498.6 L951.42 498.6 L952.04 498.6 L952.66 498.6 L953.27 498.6 L953.89 498.6 L954.51 498.6 L955.13 498.6 L955.75 498.6 L956.37 498.6 L956.99 498.6 L957.61 498.6 L958.23 498.6 L958.84 498.6 L959.46 498.6 L960.08 498.6 L960.7 498.6 L961.32 498.6 L961.94 498.6 L962.56 498.6 L963.18 498.6 L963.79 498.59 L964.41 498.59 L965.03 498.59 L965.65 498.58 L966.27 498.58 L966.89 498.57 L967.51 498.56 L968.13 498.54 L968.75 498.52 L969.36 498.49 L969.98 498.46 L970.6 498.42 L971.22 498.37 L971.84 498.3 L972.46 498.22 L973.08 498.13 L973.7 498.02 L974.32 497.88 L974.93 497.72 L975.55 497.54 L976.17 497.33 L976.79 497.09 L977.41 496.83 L978.03 496.53 L978.65 496.21 L979.27 495.86 L979.88 495.49 L980.5 495.09 L981.12 494.69 L981.74 494.27 L982.36 493.86 L982.98 493.45 L983.6 493.05 L984.22 492.68 L984.84 492.33 L985.45 492.03 L986.07 491.77 L986.69 491.57 L987.31 491.42 L987.93 491.34 L988.55 491.31 L989.17 491.36 L989.79 491.46 L990.4 491.63 L991.02 491.86 L991.64 492.13 L992.26 492.45 L992.88 492.8 L993.5 493.19 L994.12 493.59 L994.74 494 L995.36 494.42 L995.97 494.83 L996.59 495.23 L997.21 495.62 L997.83 495.98 L998.45 496.32 L999.07 496.64 L999.69 496.92 L1000.31 497.18 L1000.93 497.41 L1001.54 497.61 L1002.16 497.78 L1002.78 497.93 L1003.4 498.06 L1004.02 498.16 L1004.64 498.25 L1005.26 498.33 L1005.88 498.39 L1006.49 498.43 L1007.11 498.47 L1007.73 498.5 L1008.35 498.53 L1008.97 498.55 L1009.59 498.56 L1010.21 498.57 L1010.83 498.58 L1011.45 498.58 L1012.06 498.59 L1012.68 498.59 L1013.3 498.59 L1013.92 498.6 L1014.54 498.6 L1015.16 498.6 L1015.78 498.6 L1016.4 498.6 L1017.01 498.6 L1017.63 498.6 L1018.25 498.6 L1018.87 498.6 L1019.49 498.6 L1020.11 498.6 L1020.73 498.6 L1021.35 498.6 L1021.97 498.6 L1022.58 498.6 L1023.2 498.6 L1023.82 498.6 L1024.44 498.6 L1025.06 498.6 L1025.68 498.6 L1026.3 498.6 L1026.92 498.6 L1027.54 498.6 L1028.15 498.6 L1028.77 498.6 L1029.39 498.6 L1030.01 498.6 L1030.63 498.6 L1031.25 498.6 L1031.87 498.6 L1032.49 498.6 L1033.1 498.6 L1033.72 498.6 L1034.34 498.6 L1034.96 498.6 L1035.58 498.6 L1036.2 498.6 L1036.82 498.6 L1037.44 498.6 L1038.06 498.6 L1038.67 498.6 L1039.29 498.6 L1039.91 498.6 L1040.53 498.6 L1041.15 498.6 L1041.77 498.6 L1042.39 498.6 L1043.01 498.6 L1043.62 498.6 L1044.24 498.6 L1044.86 498.6 L1045.48 498.6 L1046.1 498.6 L1046.72 498.6 L1047.34 498.6 L1047.96 498.6 L1048.58 498.6 L1049.19 498.6 L1049.81 498.6 L1050.43 498.6 L1051.05 498.6 L1051.67 498.6 L1052.29 498.6 L1052.91 498.6 L1053.53 498.6 L1054.15 498.6 L1054.76 498.6 L1055.38 498.6 L1056 498.6 L1056.62 498.6 L1057.24 498.6 L1057.86 498.6 L1058.48 498.6 L1059.1 498.6 L1059.71 498.6 L1060.33 498.6 L1060.95 498.6 L1061.57 498.6 L1062.19 498.6 L1062.81 498.6 L1063.43 498.6 L1064.05 498.6 L1064.67 498.6 L1065.28 498.6 L1065.9 498.6 L1066.52 498.6 L1067.14 498.6 L1067.76 498.6 L1068.38 498.6 L1069 498.6 L1069.62 498.6 L1070.23 498.6 L1070.85 498.6 L1071.47 498.6 L1072.09 498.6 L1072.71 498.6 L1073.33 498.6 L1073.95 498.6 L1074.57 498.6 L1075.19 498.6 L1075.8 498.6 L1076.42 498.6 L1077.04 498.6 L1077.66 498.6 L1078.28 498.6 L1078.9 498.6 L1079.52 498.6 L1080.14 498.6 L1080.76 498.6 L1081.37 498.6 L1081.99 498.6 L1082.61 498.6 L1083.23 498.6 L1083.85 498.6 L1084.47 498.6 L1085.09 498.6 L1085.71 498.6 L1086.32 498.6 L1086.94 498.6 L1087.56 498.6 L1088.18 498.6 L1088.8 498.6 L1088.8 498.6 Z" stroke="#222" fill="#00e000" stroke-width="0.7" fill-opacity="0.85"/>
</g>
<g clip-path="url(#cl1)" fill="none" stroke-width="2.0" stroke-linejoin="round">
<path d="M791.58 253.88 L792.18 253.86 L792.77 253.84 L793.37 253.82 L793.96 253.81 L794.56 253.79 L795.15 253.77 L795.75 253.76 L796.35 253.74 L796.94 253.73 L797.54 253.72 L798.13 253.7 L798.73 253.69 L799.32 253.67 L799.92 253.66 L800.51 253.64 L801.11 253.63 L801.71 253.61 L802.3 253.6 L802.9 253.58 L803.49 253.56 L804.09 253.54 L804.68 253.53 L805.28 253.51 L805.88 253.49 L806.47 253.46 L807.07 253.44 L807.66 253.42 L808.26 253.39 L808.85 253.37 L809.45 253.34 L810.04 253.31 L810.64 253.28 L811.24 253.25 L811.83 253.21 L812.43 253.17 L813.02 253.12 L813.62 253.08 L814.21 253.02 L814.81 252.96 L815.41 252.9 L816 252.83 L816.6 252.76 L817.19 252.68 L817.79 252.59 L818.38 252.5 L818.98 252.41 L819.57 252.31 L820.17 252.2 L820.77 252.09 L821.36 251.97 L821.96 251.84 L822.55 251.71 L823.15 251.57 L823.74 251.37 L824.34 251.11 L824.94 250.79 L825.53 250.43 L826.13 250.02 L826.72 249.58 L827.32 249.1 L827.91 248.6 L828.51 248.07 L829.1 247.52 L829.7 246.96 L830.3 246.39 L830.89 245.81 L831.49 245.24 L832.08 244.68 L832.68 244.13 L833.27 243.59 L833.87 243.08 L834.47 242.59 L835.06 242.13 L835.66 241.64 L836.25 241.12 L836.85 240.59 L837.44 240.04 L838.04 239.48 L838.63 238.93 L839.23 238.39 L839.83 237.87 L840.42 237.37 L841.02 236.92 L841.61 236.5 L842.21 236.14 L842.8 235.83 L843.4 235.6 L844 235.44 L844.59 235.34 L845.19 235.26 L845.78 235.2 L846.38 235.14 L846.97 235.1 L847.57 235.06 L848.16 235.02 L848.76 234.98 L849.36 234.94 L849.95 234.88 L850.55 234.81 L851.14 234.73 L851.74 234.63 L852.33 234.34 L852.93 233.69 L853.53 232.73 L854.12 231.5 L854.72 230.05 L855.31 228.44 L855.91 226.72 L856.5 224.95 L857.1 223.16 L857.7 221.42 L858.29 219.77 L858.89 218.28 L859.48 216.98 L860.08 215.93 L860.67 215.03 L861.27 214.17 L861.86 213.35 L862.46 212.56 L863.06 211.8 L863.65 211.06 L864.25 210.36 L864.84 209.67 L865.44 209.01 L866.03 208.38 L866.63 207.76 L867.23 207.15 L867.82 206.56 L868.42 205.99 L869.01 205.42 L869.61 204.86 L870.2 204.31 L870.8 203.76 L871.39 203.22 L871.99 202.67 L872.59 202.13 L873.18 201.6 L873.78 201.08 L874.37 200.56 L874.97 200.06 L875.56 199.58 L876.16 199.11 L876.76 198.66 L877.35 198.24 L877.95 197.84 L878.54 197.46 L879.14 197.11 L879.73 196.8 L880.33 196.51 L880.92 196.24 L881.52 195.97 L882.12 195.7 L882.71 195.44 L883.31 195.19 L883.9 194.97 L884.5 194.79 L885.09 194.63 L885.69 194.53 L886.29 194.47 L886.88 194.48 L887.48 194.53 L888.07 194.62 L888.67 194.76 L889.26 194.92 L889.86 195.12 L890.45 195.34 L891.05 195.58 L891.65 195.84 L892.24 196.1 L892.84 196.38 L893.43 196.65 L894.03 196.93 L894.62 197.19 L895.22 197.45 L895.82 197.68 L896.41 197.9 L897.01 198.09 L897.6 198.26 L898.2 198.38 L898.79 198.47 L899.39 198.52 L899.98 198.52 L900.58 198.49 L901.18 198.44 L901.77 198.36 L902.37 198.25 L902.96 198.13 L903.56 197.98 L904.15 197.81 L904.75 197.62 L905.35 197.41 L905.94 197.18 L906.54 196.94 L907.13 196.68 L907.73 196.41 L908.32 196.12 L908.92 195.82 L909.51 195.51 L910.11 195.19 L910.71 194.86 L911.3 194.53 L911.9 194.18 L912.49 193.83 L913.09 193.46 L913.68 193.01 L914.28 192.46 L914.88 191.83 L915.47 191.11 L916.07 190.32 L916.66 189.46 L917.26 188.53 L917.85 187.55 L918.45 186.51 L919.05 185.43 L919.64 184.3 L920.24 183.14 L920.83 181.95 L921.43 180.74 L922.02 179.5 L922.62 178.26 L923.21 177.01 L923.81 175.76 L924.41 174.51 L925 173.27 L925.6 172.05 L926.19 170.85 L926.79 169.68 L927.38 168.54 L927.98 167.45 L928.58 166.39 L929.17 165.39 L929.77 164.44 L930.36 163.54 L930.96 162.67 L931.55 161.83 L932.15 161.01 L932.74 160.19 L933.34 159.37 L933.94 158.54 L934.53 157.68 L935.13 156.79 L935.72 155.86 L936.32 154.88 L936.91 153.83 L937.51 152.71 L938.11 151.51 L938.7 150.22 L939.3 148.81 L939.89 147.18 L940.49 145.33 L941.08 143.27 L941.68 141.03 L942.27 138.63 L942.87 136.09 L943.47 133.43 L944.06 130.67 L944.66 127.85 L945.25 124.97 L945.85 122.05 L946.44 119.13 L947.04 116.23 L947.64 113.35 L948.23 110.53 L948.83 107.79 L949.42 105.01 L950.02 102.13 L950.61 99.17 L951.21 96.13 L951.8 93.03 L952.4 89.89 L953 86.72 L953.59 83.54 L954.19 80.37 L954.78 77.21 L955.38 74.09 L955.97 71.02 L956.57 68.01 L957.17 65.08 L957.76 62.25 L958.36 59.52 L958.95 56.93 L959.55 54.47 L960.14 52.17 L960.74 49.98 L961.33 47.78 L961.93 45.61 L962.53 43.48 L963.12 41.42 L963.72 39.46 L964.31 37.62 L964.91 35.94 L965.5 34.44 L966.1 33.13 L966.7 32.06 L967.29 31.16 L967.89 30.28 L968.48 29.45 L969.08 28.75 L969.67 28.2 L970.27 27.88 L970.87 27.82 L971.46 28.07 L972.06 28.6 L972.65 29.37 L973.25 30.34 L973.84 31.47 L974.44 32.72 L975.03 34.05 L975.63 35.53 L976.23 37.62 L976.82 40.3 L977.42 43.46 L978.01 47.01 L978.61 50.83 L979.2 54.83 L979.8 58.91 L980.4 62.96 L980.99 66.93 L981.59 71.13 L982.18 75.62 L982.78 80.35 L983.37 85.29 L983.97 90.4 L984.56 95.66 L985.16 101.03 L985.76 106.48 L986.35 111.97 L986.95 117.46 L987.54 122.93 L988.14 128.34 L988.73 133.65 L989.33 138.84 L989.93 143.87 L990.52 148.7 L991.12 153.3 L991.71 157.63 L992.31 161.67 L992.9 165.57 L993.5 169.48 L994.09 173.37 L994.69 177.23 L995.29 181.03 L995.88 184.75 L996.48 188.36 L997.07 191.86 L997.67 195.2 L998.26 198.38 L998.86 201.37 L999.46 204.14 L1000.05 206.67 L1000.65 208.95 L1001.24 210.95 L1001.84 212.68 L1002.43 214.33 L1003.03 215.94 L1003.62 217.51 L1004.22 219.03 L1004.82 220.5 L1005.41 221.91 L1006.01 223.26 L1006.6 224.55 L1007.2 225.76 L1007.79 226.91 L1008.39 227.97 L1008.99 228.95 L1009.58 229.84 L1010.18 230.65 L1010.77 231.35 L1011.37 231.96 L1011.96 232.46 L1012.56 232.85 L1013.15 233.14 L1013.75 233.41 L1014.35 233.65 L1014.94 233.88 L1015.54 234.1 L1016.13 234.3 L1016.73 234.49 L1017.32 234.67 L1017.92 234.83 L1018.52 234.98 L1019.11 235.12 L1019.71 235.25 L1020.3 235.37 L1020.9 235.48 L1021.49 235.58 L1022.09 235.68 L1022.68 235.76 L1023.28 235.84 L1023.88 235.92 L1024.47 235.99 L1025.07 236.05 L1025.66 236.11 L1026.26 236.16 L1026.85 236.21 L1027.45 236.25 L1028.05 236.3 L1028.64 236.34 L1029.24 236.38 L1029.83 236.42 L1030.43 236.45 L1031.02 236.49 L1031.62 236.53 L1032.22 236.56 L1032.81 236.6 L1033.41 236.64 L1034 236.68 L1034.6 236.73 L1035.19 236.78 L1035.79 236.83 L1036.38 236.89 L1036.98 236.95 L1037.58 237.01 L1038.17 237.09 L1038.77 237.17 L1039.36 237.26 L1039.96 237.36 L1040.55 237.46 L1041.15 237.57 L1041.75 237.69 L1042.34 237.82 L1042.94 237.95 L1043.53 238.09 L1044.13 238.23 L1044.72 238.38 L1045.32 238.54 L1045.91 238.7 L1046.51 238.86 L1047.11 239.03 L1047.7 239.2 L1048.3 239.37 L1048.89 239.55 L1049.49 239.73 L1050.08 239.92 L1050.68 240.1 L1051.28 240.29 L1051.87 240.48 L1052.47 240.67 L1053.06 240.86 L1053.66 241.05 L1054.25 241.24 L1054.85 241.43 L1055.44 241.62 L1056.04 241.81 L1056.64 242 L1057.23 242.19 L1057.83 242.37 L1058.42 242.55 L1059.02 242.74 L1059.61 242.91 L1060.21 243.09 L1060.81 243.26 L1061.4 243.43 L1062 243.59 L1062.59 243.75 L1063.19 243.91 L1063.78 244.06 L1064.38 244.21 L1064.97 244.36 L1065.57 244.5 L1066.17 244.65 L1066.76 244.8 L1067.36 244.95 L1067.95 245.09 L1068.55 245.24 L1069.14 245.38 L1069.74 245.53 L1070.34 245.67 L1070.93 245.81 L1071.53 245.96 L1072.12 246.1 L1072.72 246.24 L1073.31 246.38 L1073.91 246.52 L1074.5 246.66 L1075.1 246.8 L1075.7 246.94 L1076.29 247.08 L1076.89 247.22 L1077.48 247.36 L1078.08 247.5 L1078.67 247.64 L1079.27 247.78 L1079.87 247.92 L1080.46 248.06 L1081.06 248.2 L1081.65 248.34 L1082.25 248.48 L1082.84 248.62 L1083.44 248.76 L1084.03 248.9 L1084.63 249.04 L1085.23 249.18 L1085.82 249.32 L1086.42 249.46 L1087.01 249.6 L1087.61 249.74 L1088.2 249.88 L1088.8 250.02" stroke="#ee22ee"/>
<path d="M791.58 254.57 L792.18 254.56 L792.77 254.55 L793.37 254.54 L793.96 254.53 L794.56 254.51 L795.15 254.51 L795.75 254.5 L796.35 254.49 L796.94 254.48 L797.54 254.47 L798.13 254.46 L798.73 254.45 L799.32 254.44 L799.92 254.43 L800.51 254.42 L801.11 254.41 L801.71 254.4 L802.3 254.39 L802.9 254.38 L803.49 254.37 L804.09 254.36 L804.68 254.35 L805.28 254.33 L805.88 254.32 L806.47 254.31 L807.07 254.29 L807.66 254.28 L808.26 254.27 L808.85 254.25 L809.45 254.23 L810.04 254.22 L810.64 254.2 L811.24 254.18 L811.83 254.16 L812.43 254.14 L813.02 254.12 L813.62 254.09 L814.21 254.07 L814.81 254.04 L815.41 254.01 L816 253.98 L816.6 253.95 L817.19 253.91 L817.79 253.87 L818.38 253.83 L818.98 253.79 L819.57 253.74 L820.17 253.69 L820.77 253.64 L821.36 253.59 L821.96 253.53 L822.55 253.47 L823.15 253.4 L823.74 253.31 L824.34 253.2 L824.94 253.07 L825.53 252.91 L826.13 252.74 L826.72 252.55 L827.32 252.34 L827.91 252.12 L828.51 251.88 L829.1 251.62 L829.7 251.35 L830.3 251.07 L830.89 250.78 L831.49 250.48 L832.08 250.17 L832.68 249.85 L833.27 249.53 L833.87 249.19 L834.47 248.86 L835.06 248.51 L835.66 248.06 L836.25 247.5 L836.85 246.87 L837.44 246.17 L838.04 245.42 L838.63 244.66 L839.23 243.89 L839.83 243.13 L840.42 242.41 L841.02 241.74 L841.61 241.14 L842.21 240.64 L842.8 240.25 L843.4 239.99 L844 239.89 L844.59 239.9 L845.19 239.96 L845.78 240.04 L846.38 240.16 L846.97 240.29 L847.57 240.43 L848.16 240.57 L848.76 240.72 L849.36 240.85 L849.95 240.97 L850.55 241.06 L851.14 241.13 L851.74 241.15 L852.33 241 L852.93 240.51 L853.53 239.73 L854.12 238.71 L854.72 237.49 L855.31 236.13 L855.91 234.67 L856.5 233.15 L857.1 231.64 L857.7 230.17 L858.29 228.8 L858.89 227.57 L859.48 226.53 L860.08 225.73 L860.67 225.06 L861.27 224.42 L861.86 223.81 L862.46 223.21 L863.06 222.64 L863.65 222.09 L864.25 221.56 L864.84 221.06 L865.44 220.58 L866.03 220.13 L866.63 219.69 L867.23 219.29 L867.82 218.9 L868.42 218.55 L869.01 218.21 L869.61 217.9 L870.2 217.62 L870.8 217.35 L871.39 217.08 L871.99 216.81 L872.59 216.55 L873.18 216.29 L873.78 216.04 L874.37 215.8 L874.97 215.57 L875.56 215.36 L876.16 215.16 L876.76 214.98 L877.35 214.83 L877.95 214.69 L878.54 214.58 L879.14 214.5 L879.73 214.45 L880.33 214.43 L880.92 214.43 L881.52 214.43 L882.12 214.43 L882.71 214.43 L883.31 214.44 L883.9 214.44 L884.5 214.44 L885.09 214.44 L885.69 214.44 L886.29 214.45 L886.88 214.45 L887.48 214.45 L888.07 214.45 L888.67 214.47 L889.26 214.51 L889.86 214.56 L890.45 214.64 L891.05 214.73 L891.65 214.84 L892.24 214.96 L892.84 215.09 L893.43 215.23 L894.03 215.38 L894.62 215.54 L895.22 215.7 L895.82 215.86 L896.41 216.03 L897.01 216.19 L897.6 216.35 L898.2 216.5 L898.79 216.65 L899.39 216.79 L899.98 216.92 L900.58 217.07 L901.18 217.24 L901.77 217.41 L902.37 217.59 L902.96 217.77 L903.56 217.95 L904.15 218.13 L904.75 218.29 L905.35 218.44 L905.94 218.56 L906.54 218.67 L907.13 218.75 L907.73 218.79 L908.32 218.79 L908.92 218.67 L909.51 218.4 L910.11 218.02 L910.71 217.52 L911.3 216.93 L911.9 216.26 L912.49 215.54 L913.09 214.78 L913.68 214 L914.28 213.21 L914.88 212.42 L915.47 211.67 L916.07 210.96 L916.66 210.31 L917.26 209.69 L917.85 209.09 L918.45 208.49 L919.05 207.9 L919.64 207.3 L920.24 206.71 L920.83 206.1 L921.43 205.49 L922.02 204.87 L922.62 204.24 L923.21 203.58 L923.81 202.91 L924.41 202.22 L925 201.5 L925.6 200.76 L926.19 199.98 L926.79 199.17 L927.38 198.33 L927.98 197.46 L928.58 196.56 L929.17 195.63 L929.77 194.68 L930.36 193.7 L930.96 192.69 L931.55 191.67 L932.15 190.62 L932.74 189.56 L933.34 188.48 L933.94 187.38 L934.53 186.26 L935.13 185.14 L935.72 184 L936.32 182.85 L936.91 181.7 L937.51 180.53 L938.11 179.36 L938.7 178.18 L939.3 176.95 L939.89 175.67 L940.49 174.36 L941.08 173.01 L941.68 171.63 L942.27 170.22 L942.87 168.8 L943.47 167.36 L944.06 165.91 L944.66 164.46 L945.25 163.02 L945.85 161.57 L946.44 160.14 L947.04 158.73 L947.64 157.33 L948.23 155.97 L948.83 154.63 L949.42 153.34 L950.02 152.08 L950.61 150.87 L951.21 149.66 L951.8 148.41 L952.4 147.15 L953 145.89 L953.59 144.64 L954.19 143.43 L954.78 142.26 L955.38 141.17 L955.97 140.15 L956.57 139.23 L957.17 138.42 L957.76 137.75 L958.36 137.2 L958.95 136.68 L959.55 136.17 L960.14 135.69 L960.74 135.24 L961.33 134.85 L961.93 134.52 L962.53 134.27 L963.12 134.11 L963.72 134.05 L964.31 134.13 L964.91 134.35 L965.5 134.7 L966.1 135.15 L966.7 135.68 L967.29 136.27 L967.89 136.9 L968.48 137.63 L969.08 138.62 L969.67 139.86 L970.27 141.3 L970.87 142.9 L971.46 144.62 L972.06 146.42 L972.65 148.3 L973.25 150.46 L973.84 152.91 L974.44 155.58 L975.03 158.43 L975.63 161.4 L976.23 164.44 L976.82 167.49 L977.42 170.51 L978.01 173.43 L978.61 176.21 L979.2 179 L979.8 181.83 L980.4 184.68 L980.99 187.55 L981.59 190.4 L982.18 193.23 L982.78 196.01 L983.37 198.72 L983.97 201.35 L984.56 203.88 L985.16 206.29 L985.76 208.59 L986.35 210.87 L986.95 213.1 L987.54 215.3 L988.14 217.45 L988.73 219.53 L989.33 221.54 L989.93 223.48 L990.52 225.33 L991.12 227.08 L991.71 228.72 L992.31 230.25 L992.9 231.71 L993.5 233.15 L994.09 234.55 L994.69 235.91 L995.29 237.22 L995.88 238.48 L996.48 239.69 L997.07 240.83 L997.67 241.9 L998.26 242.89 L998.86 243.8 L999.46 244.63 L1000.05 245.36 L1000.65 246.03 L1001.24 246.68 L1001.84 247.3 L1002.43 247.9 L1003.03 248.47 L1003.62 249.01 L1004.22 249.52 L1004.82 250 L1005.41 250.45 L1006.01 250.87 L1006.6 251.25 L1007.2 251.59 L1007.79 251.9 L1008.39 252.17 L1008.99 252.4 L1009.58 252.63 L1010.18 252.85 L1010.77 253.07 L1011.37 253.27 L1011.96 253.47 L1012.56 253.65 L1013.15 253.82 L1013.75 253.98 L1014.35 254.11 L1014.94 254.23 L1015.54 254.33 L1016.13 254.41 L1016.73 254.46 L1017.32 254.48 L1017.92 254.49 L1018.52 254.5 L1019.11 254.51 L1019.71 254.52 L1020.3 254.53 L1020.9 254.54 L1021.49 254.55 L1022.09 254.55 L1022.68 254.56 L1023.28 254.57 L1023.88 254.57 L1024.47 254.58 L1025.07 254.58 L1025.66 254.59 L1026.26 254.59 L1026.85 254.6 L1027.45 254.6 L1028.05 254.61 L1028.64 254.61 L1029.24 254.61 L1029.83 254.62 L1030.43 254.62 L1031.02 254.62 L1031.62 254.63 L1032.22 254.63 L1032.81 254.63 L1033.41 254.63 L1034 254.64 L1034.6 254.64 L1035.19 254.64 L1035.79 254.64 L1036.38 254.65 L1036.98 254.65 L1037.58 254.65 L1038.17 254.66 L1038.77 254.66 L1039.36 254.66 L1039.96 254.67 L1040.55 254.67 L1041.15 254.68 L1041.75 254.68 L1042.34 254.69 L1042.94 254.69 L1043.53 254.7 L1044.13 254.7 L1044.72 254.71 L1045.32 254.71 L1045.91 254.72 L1046.51 254.72 L1047.11 254.73 L1047.7 254.73 L1048.3 254.74 L1048.89 254.74 L1049.49 254.75 L1050.08 254.75 L1050.68 254.76 L1051.28 254.76 L1051.87 254.77 L1052.47 254.77 L1053.06 254.78 L1053.66 254.78 L1054.25 254.79 L1054.85 254.79 L1055.44 254.8 L1056.04 254.8 L1056.64 254.81 L1057.23 254.81 L1057.83 254.82 L1058.42 254.83 L1059.02 254.83 L1059.61 254.84 L1060.21 254.84 L1060.81 254.85 L1061.4 254.85 L1062 254.86 L1062.59 254.86 L1063.19 254.87 L1063.78 254.87 L1064.38 254.88 L1064.97 254.88 L1065.57 254.89 L1066.17 254.89 L1066.76 254.9 L1067.36 254.9 L1067.95 254.91 L1068.55 254.91 L1069.14 254.92 L1069.74 254.92 L1070.34 254.93 L1070.93 254.94 L1071.53 254.94 L1072.12 254.95 L1072.72 254.95 L1073.31 254.96 L1073.91 254.96 L1074.5 254.97 L1075.1 254.97 L1075.7 254.98 L1076.29 254.98 L1076.89 254.99 L1077.48 254.99 L1078.08 255 L1078.67 255 L1079.27 255.01 L1079.87 255.01 L1080.46 255.02 L1081.06 255.02 L1081.65 255.03 L1082.25 255.03 L1082.84 255.04 L1083.44 255.04 L1084.03 255.05 L1084.63 255.06 L1085.23 255.06 L1085.82 255.07 L1086.42 255.07 L1087.01 255.08 L1087.61 255.08 L1088.2 255.09 L1088.8 255.09" stroke="#e81010"/>
<path d="M791.58 253.88 L792.18 253.86 L792.77 253.84 L793.37 253.83 L793.96 253.81 L794.56 253.79 L795.15 253.78 L795.75 253.76 L796.35 253.75 L796.94 253.73 L797.54 253.72 L798.13 253.7 L798.73 253.69 L799.32 253.67 L799.92 253.65 L800.51 253.64 L801.11 253.62 L801.71 253.61 L802.3 253.59 L802.9 253.57 L803.49 253.56 L804.09 253.54 L804.68 253.52 L805.28 253.5 L805.88 253.48 L806.47 253.46 L807.07 253.44 L807.66 253.41 L808.26 253.39 L808.85 253.37 L809.45 253.34 L810.04 253.31 L810.64 253.28 L811.24 253.25 L811.83 253.22 L812.43 253.19 L813.02 253.15 L813.62 253.11 L814.21 253.07 L814.81 253.03 L815.41 252.98 L816 252.93 L816.6 252.88 L817.19 252.82 L817.79 252.76 L818.38 252.69 L818.98 252.62 L819.57 252.55 L820.17 252.47 L820.77 252.39 L821.36 252.3 L821.96 252.21 L822.55 252.11 L823.15 252 L823.74 251.85 L824.34 251.65 L824.94 251.42 L825.53 251.15 L826.13 250.85 L826.72 250.51 L827.32 250.14 L827.91 249.75 L828.51 249.34 L829.1 248.91 L829.7 248.46 L830.3 248 L830.89 247.53 L831.49 247.05 L832.08 246.57 L832.68 246.08 L833.27 245.59 L833.87 245.11 L834.47 244.64 L835.06 244.17 L835.66 243.62 L836.25 242.99 L836.85 242.31 L837.44 241.57 L838.04 240.82 L838.63 240.05 L839.23 239.29 L839.83 238.55 L840.42 237.85 L841.02 237.21 L841.61 236.65 L842.21 236.17 L842.8 235.81 L843.4 235.57 L844 235.47 L844.59 235.49 L845.19 235.56 L845.78 235.67 L846.38 235.81 L846.97 235.98 L847.57 236.16 L848.16 236.35 L848.76 236.53 L849.36 236.7 L849.95 236.85 L850.55 236.97 L851.14 237.05 L851.74 237.08 L852.33 236.92 L852.93 236.4 L853.53 235.56 L854.12 234.45 L854.72 233.14 L855.31 231.66 L855.91 230.08 L856.5 228.44 L857.1 226.79 L857.7 225.19 L858.29 223.68 L858.89 222.33 L859.48 221.17 L860.08 220.27 L860.67 219.51 L861.27 218.77 L861.86 218.05 L862.46 217.36 L863.06 216.69 L863.65 216.05 L864.25 215.43 L864.84 214.83 L865.44 214.27 L866.03 213.73 L866.63 213.22 L867.23 212.73 L867.82 212.28 L868.42 211.86 L869.01 211.47 L869.61 211.12 L870.2 210.8 L870.8 210.5 L871.39 210.2 L871.99 209.9 L872.59 209.6 L873.18 209.32 L873.78 209.04 L874.37 208.78 L874.97 208.52 L875.56 208.29 L876.16 208.07 L876.76 207.88 L877.35 207.7 L877.95 207.56 L878.54 207.44 L879.14 207.35 L879.73 207.3 L880.33 207.28 L880.92 207.29 L881.52 207.33 L882.12 207.39 L882.71 207.48 L883.31 207.58 L883.9 207.69 L884.5 207.82 L885.09 207.96 L885.69 208.1 L886.29 208.24 L886.88 208.39 L887.48 208.53 L888.07 208.66 L888.67 208.79 L889.26 208.94 L889.86 209.09 L890.45 209.25 L891.05 209.42 L891.65 209.59 L892.24 209.77 L892.84 209.95 L893.43 210.14 L894.03 210.32 L894.62 210.5 L895.22 210.69 L895.82 210.87 L896.41 211.05 L897.01 211.22 L897.6 211.39 L898.2 211.55 L898.79 211.7 L899.39 211.84 L899.98 211.98 L900.58 212.12 L901.18 212.27 L901.77 212.43 L902.37 212.58 L902.96 212.73 L903.56 212.87 L904.15 213.01 L904.75 213.14 L905.35 213.25 L905.94 213.35 L906.54 213.43 L907.13 213.49 L907.73 213.52 L908.32 213.52 L908.92 213.45 L909.51 213.3 L910.11 213.06 L910.71 212.77 L911.3 212.41 L911.9 212 L912.49 211.55 L913.09 211.07 L913.68 210.57 L914.28 210.05 L914.88 209.52 L915.47 208.99 L916.07 208.48 L916.66 207.98 L917.26 207.49 L917.85 206.98 L918.45 206.45 L919.05 205.9 L919.64 205.32 L920.24 204.72 L920.83 204.1 L921.43 203.44 L922.02 202.75 L922.62 202.03 L923.21 201.27 L923.81 200.48 L924.41 199.64 L925 198.74 L925.6 197.75 L926.19 196.69 L926.79 195.55 L927.38 194.35 L927.98 193.09 L928.58 191.76 L929.17 190.39 L929.77 188.97 L930.36 187.51 L930.96 186.02 L931.55 184.49 L932.15 182.94 L932.74 181.33 L933.34 179.64 L933.94 177.88 L934.53 176.04 L935.13 174.15 L935.72 172.19 L936.32 170.18 L936.91 168.11 L937.51 166 L938.11 163.85 L938.7 161.65 L939.3 159.43 L939.89 157.17 L940.49 154.89 L941.08 152.58 L941.68 150.26 L942.27 147.93 L942.87 145.5 L943.47 142.96 L944.06 140.33 L944.66 137.61 L945.25 134.84 L945.85 132.01 L946.44 129.14 L947.04 126.26 L947.64 123.38 L948.23 120.5 L948.83 117.65 L949.42 114.84 L950.02 112.09 L950.61 109.41 L951.21 106.82 L951.8 104.32 L952.4 101.93 L953 99.47 L953.59 96.97 L954.19 94.45 L954.78 91.98 L955.38 89.6 L955.97 87.36 L956.57 85.31 L957.17 83.49 L957.76 81.95 L958.36 80.74 L958.95 79.7 L959.55 78.68 L960.14 77.73 L960.74 76.88 L961.33 76.17 L961.93 75.64 L962.53 75.33 L963.12 75.26 L963.72 75.49 L964.31 75.97 L964.91 76.66 L965.5 77.51 L966.1 78.48 L966.7 79.53 L967.29 80.78 L967.89 82.53 L968.48 84.71 L969.08 87.23 L969.67 90.02 L970.27 92.98 L970.87 96.06 L971.46 99.63 L972.06 103.72 L972.65 108.22 L973.25 113.02 L973.84 118.01 L974.44 123.09 L975.03 128.12 L975.63 133.01 L976.23 137.66 L976.82 142.29 L977.42 147 L978.01 151.75 L978.61 156.51 L979.2 161.23 L979.8 165.88 L980.4 170.41 L980.99 174.81 L981.59 179.01 L982.18 182.99 L982.78 186.8 L983.37 190.56 L983.97 194.25 L984.56 197.84 L985.16 201.34 L985.76 204.7 L986.35 207.93 L986.95 210.98 L987.54 213.86 L988.14 216.53 L988.73 219.01 L989.33 221.42 L989.93 223.76 L990.52 226.04 L991.12 228.23 L991.71 230.32 L992.31 232.31 L992.9 234.17 L993.5 235.9 L994.09 237.48 L994.69 238.91 L995.29 240.16 L995.88 241.29 L996.48 242.36 L997.07 243.39 L997.67 244.38 L998.26 245.31 L998.86 246.18 L999.46 247 L1000.05 247.76 L1000.65 248.46 L1001.24 249.1 L1001.84 249.67 L1002.43 250.17 L1003.03 250.6 L1003.62 250.98 L1004.22 251.34 L1004.82 251.7 L1005.41 252.04 L1006.01 252.36 L1006.6 252.66 L1007.2 252.94 L1007.79 253.18 L1008.39 253.4 L1008.99 253.58 L1009.58 253.73 L1010.18 253.83 L1010.77 253.89 L1011.37 253.93 L1011.96 253.96 L1012.56 253.99 L1013.15 254.02 L1013.75 254.05 L1014.35 254.08 L1014.94 254.11 L1015.54 254.13 L1016.13 254.16 L1016.73 254.18 L1017.32 254.2 L1017.92 254.23 L1018.52 254.25 L1019.11 254.27 L1019.71 254.29 L1020.3 254.31 L1020.9 254.33 L1021.49 254.34 L1022.09 254.36 L1022.68 254.38 L1023.28 254.39 L1023.88 254.41 L1024.47 254.42 L1025.07 254.43 L1025.66 254.45 L1026.26 254.46 L1026.85 254.47 L1027.45 254.48 L1028.05 254.49 L1028.64 254.51 L1029.24 254.52 L1029.83 254.53 L1030.43 254.53 L1031.02 254.54 L1031.62 254.55 L1032.22 254.56 L1032.81 254.57 L1033.41 254.58 L1034 254.58 L1034.6 254.59 L1035.19 254.6 L1035.79 254.61 L1036.38 254.61 L1036.98 254.62 L1037.58 254.63 L1038.17 254.63 L1038.77 254.64 L1039.36 254.65 L1039.96 254.66 L1040.55 254.66 L1041.15 254.67 L1041.75 254.68 L1042.34 254.68 L1042.94 254.69 L1043.53 254.7 L1044.13 254.71 L1044.72 254.71 L1045.32 254.72 L1045.91 254.73 L1046.51 254.73 L1047.11 254.74 L1047.7 254.74 L1048.3 254.75 L1048.89 254.76 L1049.49 254.76 L1050.08 254.77 L1050.68 254.77 L1051.28 254.78 L1051.87 254.78 L1052.47 254.79 L1053.06 254.79 L1053.66 254.8 L1054.25 254.8 L1054.85 254.8 L1055.44 254.81 L1056.04 254.81 L1056.64 254.82 L1057.23 254.82 L1057.83 254.83 L1058.42 254.83 L1059.02 254.84 L1059.61 254.84 L1060.21 254.85 L1060.81 254.85 L1061.4 254.85 L1062 254.86 L1062.59 254.86 L1063.19 254.87 L1063.78 254.87 L1064.38 254.88 L1064.97 254.88 L1065.57 254.89 L1066.17 254.89 L1066.76 254.9 L1067.36 254.9 L1067.95 254.91 L1068.55 254.91 L1069.14 254.92 L1069.74 254.92 L1070.34 254.93 L1070.93 254.94 L1071.53 254.94 L1072.12 254.95 L1072.72 254.95 L1073.31 254.96 L1073.91 254.96 L1074.5 254.97 L1075.1 254.97 L1075.7 254.98 L1076.29 254.98 L1076.89 254.99 L1077.48 254.99 L1078.08 255 L1078.67 255 L1079.27 255.01 L1079.87 255.01 L1080.46 255.02 L1081.06 255.02 L1081.65 255.03 L1082.25 255.03 L1082.84 255.04 L1083.44 255.04 L1084.03 255.05 L1084.63 255.06 L1085.23 255.06 L1085.82 255.07 L1086.42 255.07 L1087.01 255.08 L1087.61 255.08 L1088.2 255.09 L1088.8 255.09" stroke="#000"/>
<path d="M791.58 253.92 L792.18 253.9 L792.77 253.88 L793.37 253.87 L793.96 253.85 L794.56 253.83 L795.15 253.82 L795.75 253.8 L796.35 253.79 L796.94 253.77 L797.54 253.76 L798.13 253.74 L798.73 253.73 L799.32 253.72 L799.92 253.7 L800.51 253.69 L801.11 253.67 L801.71 253.65 L802.3 253.64 L802.9 253.62 L803.49 253.6 L804.09 253.59 L804.68 253.57 L805.28 253.55 L805.88 253.53 L806.47 253.51 L807.07 253.49 L807.66 253.47 L808.26 253.44 L808.85 253.42 L809.45 253.39 L810.04 253.37 L810.64 253.34 L811.24 253.31 L811.83 253.28 L812.43 253.24 L813.02 253.21 L813.62 253.17 L814.21 253.13 L814.81 253.09 L815.41 253.04 L816 252.99 L816.6 252.94 L817.19 252.88 L817.79 252.82 L818.38 252.76 L818.98 252.69 L819.57 252.62 L820.17 252.54 L820.77 252.46 L821.36 252.38 L821.96 252.28 L822.55 252.19 L823.15 252.08 L823.74 251.93 L824.34 251.74 L824.94 251.52 L825.53 251.25 L826.13 250.95 L826.72 250.62 L827.32 250.27 L827.91 249.89 L828.51 249.48 L829.1 249.06 L829.7 248.62 L830.3 248.17 L830.89 247.71 L831.49 247.24 L832.08 246.77 L832.68 246.29 L833.27 245.82 L833.87 245.35 L834.47 244.89 L835.06 244.42 L835.66 243.89 L836.25 243.27 L836.85 242.6 L837.44 241.89 L838.04 241.15 L838.63 240.4 L839.23 239.65 L839.83 238.93 L840.42 238.25 L841.02 237.62 L841.61 237.07 L842.21 236.61 L842.8 236.25 L843.4 236.01 L844 235.92 L844.59 235.94 L845.19 236 L845.78 236.11 L846.38 236.25 L846.97 236.42 L847.57 236.59 L848.16 236.78 L848.76 236.96 L849.36 237.12 L849.95 237.27 L850.55 237.39 L851.14 237.47 L851.74 237.5 L852.33 237.36 L852.93 236.93 L853.53 236.24 L854.12 235.33 L854.72 234.24 L855.31 233.02 L855.91 231.71 L856.5 230.34 L857.1 228.97 L857.7 227.63 L858.29 226.36 L858.89 225.21 L859.48 224.21 L860.08 223.41 L860.67 222.73 L861.27 222.06 L861.86 221.41 L862.46 220.78 L863.06 220.17 L863.65 219.58 L864.25 219 L864.84 218.45 L865.44 217.93 L866.03 217.42 L866.63 216.94 L867.23 216.49 L867.82 216.06 L868.42 215.65 L869.01 215.28 L869.61 214.93 L870.2 214.61 L870.8 214.32 L871.39 214.02 L871.99 213.73 L872.59 213.44 L873.18 213.15 L873.78 212.88 L874.37 212.61 L874.97 212.36 L875.56 212.13 L876.16 211.91 L876.76 211.71 L877.35 211.53 L877.95 211.38 L878.54 211.25 L879.14 211.15 L879.73 211.08 L880.33 211.05 L880.92 211.03 L881.52 211.02 L882.12 211 L882.71 210.99 L883.31 210.98 L883.9 210.97 L884.5 210.96 L885.09 210.95 L885.69 210.94 L886.29 210.94 L886.88 210.93 L887.48 210.93 L888.07 210.93 L888.67 210.94 L889.26 210.97 L889.86 211.03 L890.45 211.1 L891.05 211.19 L891.65 211.3 L892.24 211.41 L892.84 211.54 L893.43 211.68 L894.03 211.83 L894.62 211.98 L895.22 212.14 L895.82 212.3 L896.41 212.46 L897.01 212.62 L897.6 212.77 L898.2 212.92 L898.79 213.07 L899.39 213.2 L899.98 213.33 L900.58 213.48 L901.18 213.64 L901.77 213.81 L902.37 213.98 L902.96 214.16 L903.56 214.33 L904.15 214.5 L904.75 214.66 L905.35 214.8 L905.94 214.92 L906.54 215.02 L907.13 215.1 L907.73 215.14 L908.32 215.15 L908.92 215.14 L909.51 215.11 L910.11 215.06 L910.71 215.01 L911.3 214.94 L911.9 214.85 L912.49 214.76 L913.09 214.65 L913.68 214.54 L914.28 214.41 L914.88 214.28 L915.47 214.14 L916.07 214 L916.66 213.84 L917.26 213.69 L917.85 213.53 L918.45 213.36 L919.05 213.18 L919.64 212.96 L920.24 212.71 L920.83 212.42 L921.43 212.1 L922.02 211.75 L922.62 211.38 L923.21 210.99 L923.81 210.57 L924.41 210.13 L925 209.68 L925.6 209.21 L926.19 208.72 L926.79 208.18 L927.38 207.59 L927.98 206.95 L928.58 206.28 L929.17 205.55 L929.77 204.78 L930.36 203.98 L930.96 203.12 L931.55 202.23 L932.15 201.3 L932.74 200.33 L933.34 199.3 L933.94 198.17 L934.53 196.93 L935.13 195.61 L935.72 194.2 L936.32 192.72 L936.91 191.16 L937.51 189.54 L938.11 187.87 L938.7 186.14 L939.3 184.38 L939.89 182.58 L940.49 180.73 L941.08 178.78 L941.68 176.74 L942.27 174.61 L942.87 172.4 L943.47 170.12 L944.06 167.76 L944.66 165.34 L945.25 162.86 L945.85 160.33 L946.44 157.76 L947.04 155.14 L947.64 152.49 L948.23 149.81 L948.83 147.11 L949.42 144.39 L950.02 141.57 L950.61 138.62 L951.21 135.54 L951.8 132.37 L952.4 129.12 L953 125.81 L953.59 122.46 L954.19 119.09 L954.78 115.73 L955.38 112.39 L955.97 109.09 L956.57 105.86 L957.17 102.71 L957.76 99.67 L958.36 96.75 L958.95 93.95 L959.55 91.08 L960.14 88.15 L960.74 85.23 L961.33 82.37 L961.93 79.65 L962.53 77.13 L963.12 74.87 L963.72 72.94 L964.31 71.4 L964.91 70.17 L965.5 68.98 L966.1 67.86 L966.7 66.87 L967.29 66.05 L967.89 65.46 L968.48 65.15 L969.08 65.15 L969.67 65.4 L970.27 65.86 L970.87 66.49 L971.46 67.27 L972.06 68.15 L972.65 69.1 L973.25 70.11 L973.84 71.45 L974.44 73.19 L975.03 75.27 L975.63 77.63 L976.23 80.21 L976.82 82.95 L977.42 85.79 L978.01 88.87 L978.61 92.42 L979.2 96.38 L979.8 100.66 L980.4 105.17 L980.99 109.83 L981.59 114.57 L982.18 119.29 L982.78 123.93 L983.37 128.39 L983.97 132.68 L984.56 137.03 L985.16 141.45 L985.76 145.89 L986.35 150.33 L986.95 154.75 L987.54 159.12 L988.14 163.41 L988.73 167.59 L989.33 171.64 L989.93 175.52 L990.52 179.21 L991.12 182.77 L991.71 186.29 L992.31 189.75 L992.9 193.14 L993.5 196.45 L994.09 199.67 L994.69 202.77 L995.29 205.75 L995.88 208.6 L996.48 211.29 L997.07 213.81 L997.67 216.16 L998.26 218.43 L998.86 220.65 L999.46 222.82 L1000.05 224.92 L1000.65 226.95 L1001.24 228.91 L1001.84 230.77 L1002.43 232.53 L1003.03 234.18 L1003.62 235.72 L1004.22 237.13 L1004.82 238.4 L1005.41 239.53 L1006.01 240.57 L1006.6 241.58 L1007.2 242.55 L1007.79 243.47 L1008.39 244.36 L1008.99 245.2 L1009.58 246 L1010.18 246.75 L1010.77 247.44 L1011.37 248.09 L1011.96 248.69 L1012.56 249.23 L1013.15 249.71 L1013.75 250.13 L1014.35 250.5 L1014.94 250.85 L1015.54 251.18 L1016.13 251.51 L1016.73 251.82 L1017.32 252.11 L1017.92 252.39 L1018.52 252.65 L1019.11 252.88 L1019.71 253.1 L1020.3 253.29 L1020.9 253.45 L1021.49 253.59 L1022.09 253.7 L1022.68 253.78 L1023.28 253.83 L1023.88 253.88 L1024.47 253.93 L1025.07 253.98 L1025.66 254.03 L1026.26 254.07 L1026.85 254.11 L1027.45 254.15 L1028.05 254.19 L1028.64 254.22 L1029.24 254.26 L1029.83 254.29 L1030.43 254.32 L1031.02 254.35 L1031.62 254.38 L1032.22 254.41 L1032.81 254.43 L1033.41 254.46 L1034 254.48 L1034.6 254.5 L1035.19 254.52 L1035.79 254.54 L1036.38 254.56 L1036.98 254.57 L1037.58 254.59 L1038.17 254.6 L1038.77 254.62 L1039.36 254.63 L1039.96 254.64 L1040.55 254.65 L1041.15 254.66 L1041.75 254.67 L1042.34 254.68 L1042.94 254.69 L1043.53 254.7 L1044.13 254.71 L1044.72 254.72 L1045.32 254.72 L1045.91 254.73 L1046.51 254.74 L1047.11 254.75 L1047.7 254.75 L1048.3 254.76 L1048.89 254.76 L1049.49 254.77 L1050.08 254.77 L1050.68 254.78 L1051.28 254.78 L1051.87 254.79 L1052.47 254.79 L1053.06 254.8 L1053.66 254.8 L1054.25 254.81 L1054.85 254.81 L1055.44 254.82 L1056.04 254.82 L1056.64 254.82 L1057.23 254.83 L1057.83 254.83 L1058.42 254.84 L1059.02 254.84 L1059.61 254.84 L1060.21 254.85 L1060.81 254.85 L1061.4 254.86 L1062 254.86 L1062.59 254.86 L1063.19 254.87 L1063.78 254.87 L1064.38 254.88 L1064.97 254.88 L1065.57 254.89 L1066.17 254.89 L1066.76 254.9 L1067.36 254.9 L1067.95 254.91 L1068.55 254.91 L1069.14 254.92 L1069.74 254.92 L1070.34 254.93 L1070.93 254.94 L1071.53 254.94 L1072.12 254.95 L1072.72 254.95 L1073.31 254.96 L1073.91 254.96 L1074.5 254.97 L1075.1 254.97 L1075.7 254.98 L1076.29 254.98 L1076.89 254.99 L1077.48 254.99 L1078.08 255 L1078.67 255 L1079.27 255.01 L1079.87 255.01 L1080.46 255.02 L1081.06 255.02 L1081.65 255.03 L1082.25 255.03 L1082.84 255.04 L1083.44 255.04 L1084.03 255.05 L1084.63 255.06 L1085.23 255.06 L1085.82 255.07 L1086.42 255.07 L1087.01 255.08 L1087.61 255.08 L1088.2 255.09 L1088.8 255.09" stroke="#1e8c1e"/>
<path d="M791.58 253.84 L792.18 253.82 L792.77 253.81 L793.37 253.79 L793.96 253.77 L794.56 253.75 L795.15 253.74 L795.75 253.72 L796.35 253.71 L796.94 253.69 L797.54 253.68 L798.13 253.66 L798.73 253.64 L799.32 253.63 L799.92 253.61 L800.51 253.6 L801.11 253.58 L801.71 253.57 L802.3 253.55 L802.9 253.53 L803.49 253.51 L804.09 253.49 L804.68 253.48 L805.28 253.46 L805.88 253.44 L806.47 253.41 L807.07 253.39 L807.66 253.37 L808.26 253.34 L808.85 253.32 L809.45 253.29 L810.04 253.26 L810.64 253.23 L811.24 253.2 L811.83 253.17 L812.43 253.14 L813.02 253.1 L813.62 253.06 L814.21 253.02 L814.81 252.97 L815.41 252.93 L816 252.88 L816.6 252.82 L817.19 252.76 L817.79 252.7 L818.38 252.63 L818.98 252.56 L819.57 252.49 L820.17 252.41 L820.77 252.32 L821.36 252.23 L821.96 252.14 L822.55 252.04 L823.15 251.92 L823.74 251.77 L824.34 251.57 L824.94 251.33 L825.53 251.06 L826.13 250.75 L826.72 250.4 L827.32 250.03 L827.91 249.63 L828.51 249.21 L829.1 248.77 L829.7 248.32 L830.3 247.85 L830.89 247.36 L831.49 246.87 L832.08 246.38 L832.68 245.88 L833.27 245.39 L833.87 244.9 L834.47 244.42 L835.06 243.93 L835.66 243.37 L836.25 242.74 L836.85 242.03 L837.44 241.29 L838.04 240.52 L838.63 239.73 L839.23 238.95 L839.83 238.2 L840.42 237.49 L841.02 236.84 L841.61 236.26 L842.21 235.78 L842.8 235.4 L843.4 235.16 L844 235.06 L844.59 235.08 L845.19 235.15 L845.78 235.26 L846.38 235.41 L846.97 235.58 L847.57 235.77 L848.16 235.96 L848.76 236.14 L849.36 236.32 L849.95 236.47 L850.55 236.59 L851.14 236.68 L851.74 236.71 L852.33 236.53 L852.93 235.94 L853.53 234.99 L854.12 233.75 L854.72 232.26 L855.31 230.6 L855.91 228.8 L856.5 226.93 L857.1 225.04 L857.7 223.2 L858.29 221.45 L858.89 219.85 L859.48 218.47 L860.08 217.35 L860.67 216.37 L861.27 215.4 L861.86 214.44 L862.46 213.49 L863.06 212.57 L863.65 211.66 L864.25 210.79 L864.84 209.95 L865.44 209.15 L866.03 208.39 L866.63 207.68 L867.23 207.02 L867.82 206.41 L868.42 205.87 L869.01 205.4 L869.61 204.99 L870.2 204.66 L870.8 204.39 L871.39 204.12 L871.99 203.87 L872.59 203.62 L873.18 203.38 L873.78 203.15 L874.37 202.93 L874.97 202.73 L875.56 202.54 L876.16 202.37 L876.76 202.22 L877.35 202.09 L877.95 201.98 L878.54 201.89 L879.14 201.82 L879.73 201.78 L880.33 201.77 L880.92 201.78 L881.52 201.82 L882.12 201.88 L882.71 201.96 L883.31 202.05 L883.9 202.16 L884.5 202.28 L885.09 202.4 L885.69 202.52 L886.29 202.65 L886.88 202.77 L887.48 202.88 L888.07 202.98 L888.67 203.08 L889.26 203.17 L889.86 203.27 L890.45 203.36 L891.05 203.45 L891.65 203.55 L892.24 203.64 L892.84 203.73 L893.43 203.83 L894.03 203.92 L894.62 204.02 L895.22 204.12 L895.82 204.22 L896.41 204.32 L897.01 204.43 L897.6 204.53 L898.2 204.64 L898.79 204.76 L899.39 204.87 L899.98 205 L900.58 205.15 L901.18 205.31 L901.77 205.5 L902.37 205.69 L902.96 205.89 L903.56 206.09 L904.15 206.28 L904.75 206.46 L905.35 206.63 L905.94 206.77 L906.54 206.89 L907.13 206.98 L907.73 207.03 L908.32 207.04 L908.92 207 L909.51 206.93 L910.11 206.82 L910.71 206.68 L911.3 206.52 L911.9 206.33 L912.49 206.14 L913.09 205.93 L913.68 205.72 L914.28 205.52 L914.88 205.31 L915.47 205.1 L916.07 204.87 L916.66 204.63 L917.26 204.37 L917.85 204.09 L918.45 203.8 L919.05 203.49 L919.64 203.16 L920.24 202.82 L920.83 202.46 L921.43 202.08 L922.02 201.68 L922.62 201.26 L923.21 200.8 L923.81 200.3 L924.41 199.76 L925 199.19 L925.6 198.58 L926.19 197.93 L926.79 197.25 L927.38 196.53 L927.98 195.78 L928.58 195 L929.17 194.18 L929.77 193.34 L930.36 192.43 L930.96 191.44 L931.55 190.36 L932.15 189.21 L932.74 188 L933.34 186.71 L933.94 185.37 L934.53 183.98 L935.13 182.54 L935.72 181.06 L936.32 179.54 L936.91 177.99 L937.51 176.42 L938.11 174.77 L938.7 173.05 L939.3 171.25 L939.89 169.38 L940.49 167.44 L941.08 165.44 L941.68 163.39 L942.27 161.29 L942.87 159.13 L943.47 156.94 L944.06 154.71 L944.66 152.44 L945.25 150.14 L945.85 147.83 L946.44 145.49 L947.04 143.13 L947.64 140.73 L948.23 138.21 L948.83 135.59 L949.42 132.88 L950.02 130.09 L950.61 127.25 L951.21 124.36 L951.8 121.45 L952.4 118.53 L953 115.62 L953.59 112.73 L954.19 109.87 L954.78 107.08 L955.38 104.35 L955.97 101.71 L956.57 99.17 L957.17 96.74 L957.76 94.27 L958.36 91.74 L958.95 89.19 L959.55 86.69 L960.14 84.28 L960.74 82.01 L961.33 79.93 L961.93 78.09 L962.53 76.55 L963.12 75.35 L963.72 74.3 L964.31 73.27 L964.91 72.32 L965.5 71.48 L966.1 70.79 L966.7 70.29 L967.29 70.02 L967.89 70.01 L968.48 70.25 L969.08 70.69 L969.67 71.31 L970.27 72.06 L970.87 72.93 L971.46 73.87 L972.06 74.86 L972.65 76.18 L973.25 77.9 L973.84 79.96 L974.44 82.29 L975.03 84.84 L975.63 87.54 L976.23 90.33 L976.82 93.4 L977.42 96.93 L978.01 100.85 L978.61 105.08 L979.2 109.54 L979.8 114.14 L980.4 118.8 L980.99 123.44 L981.59 127.98 L982.18 132.33 L982.78 136.55 L983.37 140.84 L983.97 145.18 L984.56 149.55 L985.16 153.92 L985.76 158.26 L986.35 162.54 L986.95 166.73 L987.54 170.81 L988.14 174.75 L988.73 178.53 L989.33 182.1 L989.93 185.59 L990.52 189.04 L991.12 192.42 L991.71 195.74 L992.31 198.96 L992.9 202.09 L993.5 205.1 L994.09 207.99 L994.69 210.74 L995.29 213.33 L995.88 215.75 L996.48 218.01 L997.07 220.22 L997.67 222.39 L998.26 224.49 L998.86 226.53 L999.46 228.5 L1000.05 230.38 L1000.65 232.17 L1001.24 233.86 L1001.84 235.43 L1002.43 236.89 L1003.03 238.21 L1003.62 239.4 L1004.22 240.45 L1004.82 241.46 L1005.41 242.43 L1006.01 243.36 L1006.6 244.25 L1007.2 245.09 L1007.79 245.9 L1008.39 246.66 L1008.99 247.36 L1009.58 248.02 L1010.18 248.63 L1010.77 249.18 L1011.37 249.68 L1011.96 250.12 L1012.56 250.5 L1013.15 250.85 L1013.75 251.18 L1014.35 251.51 L1014.94 251.82 L1015.54 252.11 L1016.13 252.39 L1016.73 252.66 L1017.32 252.9 L1017.92 253.11 L1018.52 253.31 L1019.11 253.48 L1019.71 253.62 L1020.3 253.73 L1020.9 253.81 L1021.49 253.87 L1022.09 253.91 L1022.68 253.96 L1023.28 254 L1023.88 254.04 L1024.47 254.08 L1025.07 254.12 L1025.66 254.15 L1026.26 254.19 L1026.85 254.22 L1027.45 254.25 L1028.05 254.28 L1028.64 254.31 L1029.24 254.34 L1029.83 254.36 L1030.43 254.39 L1031.02 254.41 L1031.62 254.43 L1032.22 254.46 L1032.81 254.48 L1033.41 254.49 L1034 254.51 L1034.6 254.53 L1035.19 254.54 L1035.79 254.56 L1036.38 254.57 L1036.98 254.59 L1037.58 254.6 L1038.17 254.61 L1038.77 254.62 L1039.36 254.64 L1039.96 254.65 L1040.55 254.66 L1041.15 254.67 L1041.75 254.68 L1042.34 254.68 L1042.94 254.69 L1043.53 254.7 L1044.13 254.71 L1044.72 254.72 L1045.32 254.72 L1045.91 254.73 L1046.51 254.74 L1047.11 254.74 L1047.7 254.75 L1048.3 254.76 L1048.89 254.76 L1049.49 254.77 L1050.08 254.77 L1050.68 254.78 L1051.28 254.78 L1051.87 254.79 L1052.47 254.79 L1053.06 254.8 L1053.66 254.8 L1054.25 254.81 L1054.85 254.81 L1055.44 254.81 L1056.04 254.82 L1056.64 254.82 L1057.23 254.83 L1057.83 254.83 L1058.42 254.83 L1059.02 254.84 L1059.61 254.84 L1060.21 254.85 L1060.81 254.85 L1061.4 254.86 L1062 254.86 L1062.59 254.86 L1063.19 254.87 L1063.78 254.87 L1064.38 254.88 L1064.97 254.88 L1065.57 254.89 L1066.17 254.89 L1066.76 254.9 L1067.36 254.9 L1067.95 254.91 L1068.55 254.91 L1069.14 254.92 L1069.74 254.92 L1070.34 254.93 L1070.93 254.94 L1071.53 254.94 L1072.12 254.95 L1072.72 254.95 L1073.31 254.96 L1073.91 254.96 L1074.5 254.97 L1075.1 254.97 L1075.7 254.98 L1076.29 254.98 L1076.89 254.99 L1077.48 254.99 L1078.08 255 L1078.67 255 L1079.27 255.01 L1079.87 255.01 L1080.46 255.02 L1081.06 255.02 L1081.65 255.03 L1082.25 255.03 L1082.84 255.04 L1083.44 255.04 L1084.03 255.05 L1084.63 255.06 L1085.23 255.06 L1085.82 255.07 L1086.42 255.07 L1087.01 255.08 L1087.61 255.08 L1088.2 255.09 L1088.8 255.09" stroke="#1010d8"/>
<path d="M791.58 253.87 L792.18 253.85 L792.77 253.83 L793.37 253.81 L793.96 253.8 L794.56 253.78 L795.15 253.76 L795.75 253.75 L796.35 253.73 L796.94 253.72 L797.54 253.7 L798.13 253.69 L798.73 253.67 L799.32 253.66 L799.92 253.64 L800.51 253.63 L801.11 253.61 L801.71 253.59 L802.3 253.58 L802.9 253.56 L803.49 253.54 L804.09 253.53 L804.68 253.51 L805.28 253.49 L805.88 253.47 L806.47 253.45 L807.07 253.42 L807.66 253.4 L808.26 253.38 L808.85 253.35 L809.45 253.33 L810.04 253.3 L810.64 253.27 L811.24 253.24 L811.83 253.21 L812.43 253.17 L813.02 253.14 L813.62 253.1 L814.21 253.06 L814.81 253.01 L815.41 252.96 L816 252.91 L816.6 252.86 L817.19 252.8 L817.79 252.74 L818.38 252.68 L818.98 252.61 L819.57 252.53 L820.17 252.45 L820.77 252.37 L821.36 252.28 L821.96 252.19 L822.55 252.09 L823.15 251.98 L823.74 251.82 L824.34 251.63 L824.94 251.39 L825.53 251.12 L826.13 250.82 L826.72 250.48 L827.32 250.11 L827.91 249.72 L828.51 249.3 L829.1 248.87 L829.7 248.42 L830.3 247.95 L830.89 247.48 L831.49 247 L832.08 246.51 L832.68 246.02 L833.27 245.53 L833.87 245.05 L834.47 244.57 L835.06 244.1 L835.66 243.55 L836.25 242.92 L836.85 242.22 L837.44 241.49 L838.04 240.73 L838.63 239.95 L839.23 239.19 L839.83 238.44 L840.42 237.74 L841.02 237.1 L841.61 236.53 L842.21 236.05 L842.8 235.69 L843.4 235.44 L844 235.34 L844.59 235.36 L845.19 235.43 L845.78 235.55 L846.38 235.69 L846.97 235.86 L847.57 236.04 L848.16 236.23 L848.76 236.41 L849.36 236.59 L849.95 236.74 L850.55 236.86 L851.14 236.94 L851.74 236.97 L852.33 236.8 L852.93 236.25 L853.53 235.37 L854.12 234.22 L854.72 232.85 L855.31 231.3 L855.91 229.65 L856.5 227.93 L857.1 226.2 L857.7 224.52 L858.29 222.94 L858.89 221.51 L859.48 220.29 L860.08 219.33 L860.67 218.52 L861.27 217.74 L861.86 216.98 L862.46 216.25 L863.06 215.54 L863.65 214.87 L864.25 214.21 L864.84 213.59 L865.44 212.99 L866.03 212.41 L866.63 211.86 L867.23 211.34 L867.82 210.85 L868.42 210.38 L869.01 209.93 L869.61 209.51 L870.2 209.12 L870.8 208.75 L871.39 208.38 L871.99 208.02 L872.59 207.67 L873.18 207.32 L873.78 206.99 L874.37 206.67 L874.97 206.36 L875.56 206.07 L876.16 205.79 L876.76 205.53 L877.35 205.3 L877.95 205.08 L878.54 204.89 L879.14 204.72 L879.73 204.58 L880.33 204.47 L880.92 204.37 L881.52 204.28 L882.12 204.18 L882.71 204.1 L883.31 204.02 L883.9 203.94 L884.5 203.87 L885.09 203.81 L885.69 203.76 L886.29 203.72 L886.88 203.69 L887.48 203.67 L888.07 203.66 L888.67 203.67 L889.26 203.69 L889.86 203.72 L890.45 203.77 L891.05 203.83 L891.65 203.89 L892.24 203.96 L892.84 204.05 L893.43 204.13 L894.03 204.22 L894.62 204.32 L895.22 204.42 L895.82 204.51 L896.41 204.61 L897.01 204.71 L897.6 204.81 L898.2 204.9 L898.79 204.99 L899.39 205.07 L899.98 205.15 L900.58 205.24 L901.18 205.33 L901.77 205.43 L902.37 205.54 L902.96 205.64 L903.56 205.75 L904.15 205.85 L904.75 205.94 L905.35 206.02 L905.94 206.1 L906.54 206.15 L907.13 206.2 L907.73 206.22 L908.32 206.23 L908.92 206.18 L909.51 206.08 L910.11 205.93 L910.71 205.73 L911.3 205.49 L911.9 205.21 L912.49 204.89 L913.09 204.54 L913.68 204.17 L914.28 203.76 L914.88 203.34 L915.47 202.9 L916.07 202.45 L916.66 201.98 L917.26 201.52 L917.85 201.05 L918.45 200.58 L919.05 200.11 L919.64 199.63 L920.24 199.1 L920.83 198.54 L921.43 197.95 L922.02 197.31 L922.62 196.64 L923.21 195.93 L923.81 195.19 L924.41 194.41 L925 193.59 L925.6 192.74 L926.19 191.86 L926.79 190.93 L927.38 189.93 L927.98 188.85 L928.58 187.67 L929.17 186.42 L929.77 185.1 L930.36 183.71 L930.96 182.26 L931.55 180.75 L932.15 179.19 L932.74 177.59 L933.34 175.95 L933.94 174.28 L934.53 172.57 L935.13 170.8 L935.72 168.95 L936.32 167.01 L936.91 165 L937.51 162.92 L938.11 160.77 L938.7 158.56 L939.3 156.3 L939.89 153.98 L940.49 151.62 L941.08 149.22 L941.68 146.78 L942.27 144.3 L942.87 141.81 L943.47 139.28 L944.06 136.74 L944.66 134.18 L945.25 131.51 L945.85 128.72 L946.44 125.83 L947.04 122.86 L947.64 119.81 L948.23 116.71 L948.83 113.58 L949.42 110.42 L950.02 107.26 L950.61 104.12 L951.21 101.01 L951.8 97.94 L952.4 94.94 L953 92.02 L953.59 89.19 L954.19 86.48 L954.78 83.86 L955.38 81.17 L955.97 78.42 L956.57 75.68 L957.17 72.98 L957.76 70.39 L958.36 67.96 L958.95 65.74 L959.55 63.78 L960.14 62.14 L960.74 60.85 L961.33 59.71 L961.93 58.61 L962.53 57.58 L963.12 56.67 L963.72 55.91 L964.31 55.35 L964.91 55.04 L965.5 55 L966.1 55.23 L966.7 55.7 L967.29 56.37 L967.89 57.2 L968.48 58.15 L969.08 59.19 L969.67 60.28 L970.27 61.75 L970.87 63.66 L971.46 65.94 L972.06 68.53 L972.65 71.36 L973.25 74.35 L973.84 77.43 L974.44 80.89 L975.03 84.86 L975.63 89.25 L976.23 93.97 L976.82 98.92 L977.42 104 L978.01 109.13 L978.61 114.22 L979.2 119.16 L979.8 123.87 L980.4 128.53 L980.99 133.28 L981.59 138.08 L982.18 142.89 L982.78 147.68 L983.37 152.43 L983.97 157.11 L984.56 161.67 L985.16 166.09 L985.76 170.33 L986.35 174.37 L986.95 178.24 L987.54 182.05 L988.14 185.8 L988.73 189.48 L989.33 193.07 L989.93 196.56 L990.52 199.92 L991.12 203.14 L991.71 206.22 L992.31 209.12 L992.9 211.83 L993.5 214.36 L994.09 216.81 L994.69 219.2 L995.29 221.53 L995.88 223.79 L996.48 225.97 L997.07 228.06 L997.67 230.04 L998.26 231.91 L998.86 233.65 L999.46 235.26 L1000.05 236.73 L1000.65 238.04 L1001.24 239.2 L1001.84 240.31 L1002.43 241.38 L1003.03 242.4 L1003.62 243.38 L1004.22 244.31 L1004.82 245.19 L1005.41 246.01 L1006.01 246.79 L1006.6 247.51 L1007.2 248.16 L1007.79 248.76 L1008.39 249.3 L1008.99 249.77 L1009.58 250.17 L1010.18 250.55 L1010.77 250.92 L1011.37 251.27 L1011.96 251.61 L1012.56 251.93 L1013.15 252.23 L1013.75 252.51 L1014.35 252.77 L1014.94 253 L1015.54 253.2 L1016.13 253.37 L1016.73 253.52 L1017.32 253.62 L1017.92 253.69 L1018.52 253.74 L1019.11 253.79 L1019.71 253.84 L1020.3 253.88 L1020.9 253.92 L1021.49 253.97 L1022.09 254.01 L1022.68 254.04 L1023.28 254.08 L1023.88 254.12 L1024.47 254.15 L1025.07 254.18 L1025.66 254.21 L1026.26 254.24 L1026.85 254.27 L1027.45 254.3 L1028.05 254.32 L1028.64 254.35 L1029.24 254.37 L1029.83 254.39 L1030.43 254.42 L1031.02 254.44 L1031.62 254.46 L1032.22 254.47 L1032.81 254.49 L1033.41 254.51 L1034 254.52 L1034.6 254.54 L1035.19 254.55 L1035.79 254.57 L1036.38 254.58 L1036.98 254.59 L1037.58 254.61 L1038.17 254.62 L1038.77 254.63 L1039.36 254.64 L1039.96 254.65 L1040.55 254.66 L1041.15 254.67 L1041.75 254.68 L1042.34 254.68 L1042.94 254.69 L1043.53 254.7 L1044.13 254.71 L1044.72 254.72 L1045.32 254.72 L1045.91 254.73 L1046.51 254.74 L1047.11 254.74 L1047.7 254.75 L1048.3 254.76 L1048.89 254.76 L1049.49 254.77 L1050.08 254.77 L1050.68 254.78 L1051.28 254.78 L1051.87 254.79 L1052.47 254.79 L1053.06 254.8 L1053.66 254.8 L1054.25 254.81 L1054.85 254.81 L1055.44 254.81 L1056.04 254.82 L1056.64 254.82 L1057.23 254.83 L1057.83 254.83 L1058.42 254.83 L1059.02 254.84 L1059.61 254.84 L1060.21 254.85 L1060.81 254.85 L1061.4 254.86 L1062 254.86 L1062.59 254.86 L1063.19 254.87 L1063.78 254.87 L1064.38 254.88 L1064.97 254.88 L1065.57 254.89 L1066.17 254.89 L1066.76 254.9 L1067.36 254.9 L1067.95 254.91 L1068.55 254.91 L1069.14 254.92 L1069.74 254.92 L1070.34 254.93 L1070.93 254.94 L1071.53 254.94 L1072.12 254.95 L1072.72 254.95 L1073.31 254.96 L1073.91 254.96 L1074.5 254.97 L1075.1 254.97 L1075.7 254.98 L1076.29 254.98 L1076.89 254.99 L1077.48 254.99 L1078.08 255 L1078.67 255 L1079.27 255.01 L1079.87 255.01 L1080.46 255.02 L1081.06 255.02 L1081.65 255.03 L1082.25 255.03 L1082.84 255.04 L1083.44 255.04 L1084.03 255.05 L1084.63 255.06 L1085.23 255.06 L1085.82 255.07 L1086.42 255.07 L1087.01 255.08 L1087.61 255.08 L1088.2 255.09 L1088.8 255.09" stroke="#7a0a0a"/>
<path d="M791.58 253.88 L792.18 253.86 L792.77 253.84 L793.37 253.82 L793.96 253.8 L794.56 253.79 L795.15 253.77 L795.75 253.76 L796.35 253.74 L796.94 253.73 L797.54 253.71 L798.13 253.7 L798.73 253.68 L799.32 253.67 L799.92 253.65 L800.51 253.64 L801.11 253.62 L801.71 253.6 L802.3 253.59 L802.9 253.57 L803.49 253.55 L804.09 253.53 L804.68 253.52 L805.28 253.5 L805.88 253.48 L806.47 253.45 L807.07 253.43 L807.66 253.41 L808.26 253.39 L808.85 253.36 L809.45 253.33 L810.04 253.31 L810.64 253.28 L811.24 253.25 L811.83 253.22 L812.43 253.18 L813.02 253.15 L813.62 253.11 L814.21 253.07 L814.81 253.02 L815.41 252.98 L816 252.93 L816.6 252.87 L817.19 252.81 L817.79 252.75 L818.38 252.69 L818.98 252.62 L819.57 252.54 L820.17 252.47 L820.77 252.38 L821.36 252.29 L821.96 252.2 L822.55 252.1 L823.15 251.99 L823.74 251.84 L824.34 251.65 L824.94 251.41 L825.53 251.14 L826.13 250.84 L826.72 250.5 L827.32 250.13 L827.91 249.74 L828.51 249.33 L829.1 248.9 L829.7 248.45 L830.3 247.99 L830.89 247.51 L831.49 247.03 L832.08 246.55 L832.68 246.06 L833.27 245.57 L833.87 245.09 L834.47 244.62 L835.06 244.14 L835.66 243.59 L836.25 242.97 L836.85 242.28 L837.44 241.55 L838.04 240.79 L838.63 240.02 L839.23 239.25 L839.83 238.51 L840.42 237.81 L841.02 237.17 L841.61 236.61 L842.21 236.13 L842.8 235.77 L843.4 235.53 L844 235.43 L844.59 235.45 L845.19 235.52 L845.78 235.63 L846.38 235.77 L846.97 235.94 L847.57 236.12 L848.16 236.31 L848.76 236.49 L849.36 236.66 L849.95 236.81 L850.55 236.93 L851.14 237.01 L851.74 237.05 L852.33 236.88 L852.93 236.35 L853.53 235.5 L854.12 234.38 L854.72 233.05 L855.31 231.55 L855.91 229.94 L856.5 228.27 L857.1 226.6 L857.7 224.97 L858.29 223.43 L858.89 222.04 L859.48 220.85 L860.08 219.92 L860.67 219.13 L861.27 218.36 L861.86 217.62 L862.46 216.91 L863.06 216.21 L863.65 215.55 L864.25 214.91 L864.84 214.29 L865.44 213.71 L866.03 213.14 L866.63 212.61 L867.23 212.1 L867.82 211.61 L868.42 211.15 L869.01 210.72 L869.61 210.32 L870.2 209.94 L870.8 209.58 L871.39 209.23 L871.99 208.88 L872.59 208.54 L873.18 208.2 L873.78 207.88 L874.37 207.57 L874.97 207.27 L875.56 206.99 L876.16 206.73 L876.76 206.48 L877.35 206.26 L877.95 206.05 L878.54 205.87 L879.14 205.72 L879.73 205.59 L880.33 205.5 L880.92 205.42 L881.52 205.34 L882.12 205.27 L882.71 205.2 L883.31 205.13 L883.9 205.07 L884.5 205.02 L885.09 204.97 L885.69 204.93 L886.29 204.9 L886.88 204.87 L887.48 204.86 L888.07 204.85 L888.67 204.86 L889.26 204.88 L889.86 204.92 L890.45 204.98 L891.05 205.04 L891.65 205.12 L892.24 205.2 L892.84 205.29 L893.43 205.39 L894.03 205.5 L894.62 205.61 L895.22 205.72 L895.82 205.84 L896.41 205.95 L897.01 206.07 L897.6 206.18 L898.2 206.29 L898.79 206.39 L899.39 206.49 L899.98 206.58 L900.58 206.68 L901.18 206.79 L901.77 206.91 L902.37 207.04 L902.96 207.16 L903.56 207.28 L904.15 207.4 L904.75 207.51 L905.35 207.61 L905.94 207.69 L906.54 207.76 L907.13 207.81 L907.73 207.84 L908.32 207.85 L908.92 207.84 L909.51 207.8 L910.11 207.75 L910.71 207.69 L911.3 207.61 L911.9 207.51 L912.49 207.41 L913.09 207.29 L913.68 207.16 L914.28 207.03 L914.88 206.88 L915.47 206.73 L916.07 206.58 L916.66 206.42 L917.26 206.25 L917.85 206.08 L918.45 205.9 L919.05 205.68 L919.64 205.43 L920.24 205.15 L920.83 204.85 L921.43 204.52 L922.02 204.17 L922.62 203.79 L923.21 203.4 L923.81 202.99 L924.41 202.56 L925 202.11 L925.6 201.65 L926.19 201.14 L926.79 200.58 L927.38 199.99 L927.98 199.35 L928.58 198.67 L929.17 197.95 L929.77 197.18 L930.36 196.38 L930.96 195.55 L931.55 194.67 L932.15 193.76 L932.74 192.8 L933.34 191.76 L933.94 190.62 L934.53 189.4 L935.13 188.09 L935.72 186.71 L936.32 185.26 L936.91 183.74 L937.51 182.18 L938.11 180.56 L938.7 178.9 L939.3 177.2 L939.89 175.48 L940.49 173.68 L941.08 171.79 L941.68 169.82 L942.27 167.77 L942.87 165.64 L943.47 163.45 L944.06 161.19 L944.66 158.87 L945.25 156.5 L945.85 154.08 L946.44 151.62 L947.04 149.12 L947.64 146.59 L948.23 144.04 L948.83 141.46 L949.42 138.87 L950.02 136.19 L950.61 133.37 L951.21 130.44 L951.8 127.42 L952.4 124.32 L953 121.17 L953.59 117.98 L954.19 114.78 L954.78 111.57 L955.38 108.39 L955.97 105.24 L956.57 102.15 L957.17 99.13 L957.76 96.21 L958.36 93.4 L958.95 90.71 L959.55 88.01 L960.14 85.23 L960.74 82.44 L961.33 79.69 L961.93 77.04 L962.53 74.55 L963.12 72.28 L963.72 70.3 L964.31 68.65 L964.91 67.38 L965.5 66.23 L966.1 65.12 L966.7 64.1 L967.29 63.22 L967.89 62.53 L968.48 62.06 L969.08 61.87 L969.67 61.97 L970.27 62.29 L970.87 62.81 L971.46 63.48 L972.06 64.29 L972.65 65.19 L973.25 66.16 L973.84 67.21 L974.44 68.63 L975.03 70.44 L975.63 72.57 L976.23 74.97 L976.82 77.57 L977.42 80.33 L978.01 83.17 L978.61 86.28 L979.2 89.87 L979.8 93.84 L980.4 98.12 L980.99 102.63 L981.59 107.29 L982.18 112.03 L982.78 116.75 L983.37 121.39 L983.97 125.87 L984.56 130.16 L985.16 134.5 L985.76 138.9 L986.35 143.34 L986.95 147.78 L987.54 152.21 L988.14 156.58 L988.73 160.89 L989.33 165.09 L989.93 169.17 L990.52 173.1 L991.12 176.84 L991.71 180.42 L992.31 183.95 L992.9 187.43 L993.5 190.85 L994.09 194.19 L994.69 197.44 L995.29 200.59 L995.88 203.62 L996.48 206.52 L997.07 209.28 L997.67 211.89 L998.26 214.32 L998.86 216.61 L999.46 218.86 L1000.05 221.05 L1000.65 223.19 L1001.24 225.26 L1001.84 227.26 L1002.43 229.18 L1003.03 231 L1003.62 232.73 L1004.22 234.34 L1004.82 235.84 L1005.41 237.21 L1006.01 238.44 L1006.6 239.53 L1007.2 240.57 L1007.79 241.56 L1008.39 242.52 L1008.99 243.44 L1009.58 244.32 L1010.18 245.15 L1010.77 245.94 L1011.37 246.68 L1011.96 247.37 L1012.56 248.02 L1013.15 248.61 L1013.75 249.14 L1014.35 249.62 L1014.94 250.04 L1015.54 250.41 L1016.13 250.76 L1016.73 251.09 L1017.32 251.42 L1017.92 251.73 L1018.52 252.02 L1019.11 252.3 L1019.71 252.56 L1020.3 252.79 L1020.9 253.01 L1021.49 253.21 L1022.09 253.38 L1022.68 253.52 L1023.28 253.64 L1023.88 253.73 L1024.47 253.79 L1025.07 253.85 L1025.66 253.9 L1026.26 253.95 L1026.85 254 L1027.45 254.05 L1028.05 254.09 L1028.64 254.14 L1029.24 254.18 L1029.83 254.22 L1030.43 254.26 L1031.02 254.29 L1031.62 254.33 L1032.22 254.36 L1032.81 254.39 L1033.41 254.42 L1034 254.44 L1034.6 254.47 L1035.19 254.49 L1035.79 254.52 L1036.38 254.54 L1036.98 254.56 L1037.58 254.58 L1038.17 254.59 L1038.77 254.61 L1039.36 254.63 L1039.96 254.64 L1040.55 254.65 L1041.15 254.66 L1041.75 254.67 L1042.34 254.68 L1042.94 254.69 L1043.53 254.7 L1044.13 254.71 L1044.72 254.72 L1045.32 254.73 L1045.91 254.73 L1046.51 254.74 L1047.11 254.75 L1047.7 254.75 L1048.3 254.76 L1048.89 254.76 L1049.49 254.77 L1050.08 254.78 L1050.68 254.78 L1051.28 254.79 L1051.87 254.79 L1052.47 254.79 L1053.06 254.8 L1053.66 254.8 L1054.25 254.81 L1054.85 254.81 L1055.44 254.82 L1056.04 254.82 L1056.64 254.82 L1057.23 254.83 L1057.83 254.83 L1058.42 254.84 L1059.02 254.84 L1059.61 254.84 L1060.21 254.85 L1060.81 254.85 L1061.4 254.86 L1062 254.86 L1062.59 254.86 L1063.19 254.87 L1063.78 254.87 L1064.38 254.88 L1064.97 254.88 L1065.57 254.89 L1066.17 254.89 L1066.76 254.9 L1067.36 254.9 L1067.95 254.91 L1068.55 254.91 L1069.14 254.92 L1069.74 254.92 L1070.34 254.93 L1070.93 254.94 L1071.53 254.94 L1072.12 254.95 L1072.72 254.95 L1073.31 254.96 L1073.91 254.96 L1074.5 254.97 L1075.1 254.97 L1075.7 254.98 L1076.29 254.98 L1076.89 254.99 L1077.48 254.99 L1078.08 255 L1078.67 255 L1079.27 255.01 L1079.87 255.01 L1080.46 255.02 L1081.06 255.02 L1081.65 255.03 L1082.25 255.03 L1082.84 255.04 L1083.44 255.04 L1084.03 255.05 L1084.63 255.06 L1085.23 255.06 L1085.82 255.07 L1086.42 255.07 L1087.01 255.08 L1087.61 255.08 L1088.2 255.09 L1088.8 255.09" stroke="#808000"/>
</g>
<g stroke="#000" fill="none">
<rect x="780" y="12.4" width="308.8" height="486.2" stroke-width="1.8"/>
<line x1="780" y1="255.7" x2="1088.8" y2="255.7" stroke-width="2"/>
<path d="M780 255.7 h7.5 M780 245.56 h4 M780 235.42 h4 M780 225.29 h4 M780 215.15 h4 M780 205.01 h4 M780 194.88 h7.5 M780 184.74 h4 M780 174.6 h4 M780 164.46 h4 M780 154.32 h4 M780 144.19 h4 M780 134.05 h7.5 M780 123.91 h4 M780 113.77 h4 M780 103.64 h4 M780 93.5 h4 M780 83.36 h4 M780 73.22 h7.5 M780 63.09 h4 M780 52.95 h4 M780 42.81 h4 M780 32.68 h4 M780 22.54 h4 M780 12.4 h7.5 M780 498.6 h7.5 M780 488.88 h4 M780 479.17 h4 M780 469.45 h4 M780 459.74 h4 M780 450.02 h7.5 M780 440.3 h4 M780 430.59 h4 M780 420.87 h4 M780 411.16 h4 M780 401.44 h7.5 M780 391.72 h4 M780 382.01 h4 M780 372.29 h4 M780 362.58 h4 M780 352.86 h7.5 M780 343.14 h4 M780 333.43 h4 M780 323.71 h4 M780 314 h4 M780 304.28 h7.5 M780 294.56 h4 M780 284.85 h4 M780 275.13 h4 M780 265.42 h4 M780 498.6 v8 M787.72 255.7 v3.8 M787.72 498.6 v4.6 M795.44 255.7 v3.8 M795.44 498.6 v4.6 M803.16 255.7 v3.8 M803.16 498.6 v4.6 M810.88 255.7 v3.8 M810.88 498.6 v4.6 M818.6 255.7 v7.2 M818.6 498.6 v8 M826.32 255.7 v3.8 M826.32 498.6 v4.6 M834.04 255.7 v3.8 M834.04 498.6 v4.6 M841.76 255.7 v3.8 M841.76 498.6 v4.6 M849.48 255.7 v3.8 M849.48 498.6 v4.6 M857.2 255.7 v7.2 M857.2 498.6 v8 M864.92 255.7 v3.8 M864.92 498.6 v4.6 M872.64 255.7 v3.8 M872.64 498.6 v4.6 M880.36 255.7 v3.8 M880.36 498.6 v4.6 M888.08 255.7 v3.8 M888.08 498.6 v4.6 M895.8 255.7 v7.2 M895.8 498.6 v8 M903.52 255.7 v3.8 M903.52 498.6 v4.6 M911.24 255.7 v3.8 M911.24 498.6 v4.6 M918.96 255.7 v3.8 M918.96 498.6 v4.6 M926.68 255.7 v3.8 M926.68 498.6 v4.6 M934.4 255.7 v7.2 M934.4 498.6 v8 M942.12 255.7 v3.8 M942.12 498.6 v4.6 M949.84 255.7 v3.8 M949.84 498.6 v4.6 M957.56 255.7 v3.8 M957.56 498.6 v4.6 M965.28 255.7 v3.8 M965.28 498.6 v4.6 M973 255.7 v7.2 M973 498.6 v8 M980.72 255.7 v3.8 M980.72 498.6 v4.6 M988.44 255.7 v3.8 M988.44 498.6 v4.6 M996.16 255.7 v3.8 M996.16 498.6 v4.6 M1003.88 255.7 v3.8 M1003.88 498.6 v4.6 M1011.6 255.7 v7.2 M1011.6 498.6 v8 M1019.32 255.7 v3.8 M1019.32 498.6 v4.6 M1027.04 255.7 v3.8 M1027.04 498.6 v4.6 M1034.76 255.7 v3.8 M1034.76 498.6 v4.6 M1042.48 255.7 v3.8 M1042.48 498.6 v4.6 M1050.2 255.7 v7.2 M1050.2 498.6 v8 M1057.92 255.7 v3.8 M1057.92 498.6 v4.6 M1065.64 255.7 v3.8 M1065.64 498.6 v4.6 M1073.36 255.7 v3.8 M1073.36 498.6 v4.6 M1081.08 255.7 v3.8 M1081.08 498.6 v4.6 M1088.8 498.6 v8" stroke-width="1.5"/>
</g>
<text x="771.2" y="18.1" font-family='"Liberation Serif", "Times New Roman", serif' font-size="18.2" fill="#000" text-anchor="end" textLength="18.8" lengthAdjust="spacingAndGlyphs" >60</text>
<text x="771.2" y="78.92" font-family='"Liberation Serif", "Times New Roman", serif' font-size="18.2" fill="#000" text-anchor="end" textLength="18.8" lengthAdjust="spacingAndGlyphs" >45</text>
<text x="771.2" y="139.75" font-family='"Liberation Serif", "Times New Roman", serif' font-size="18.2" fill="#000" text-anchor="end" textLength="18.8" lengthAdjust="spacingAndGlyphs" >30</text>
<text x="771.2" y="200.57" font-family='"Liberation Serif", "Times New Roman", serif' font-size="18.2" fill="#000" text-anchor="end" textLength="18.8" lengthAdjust="spacingAndGlyphs" >15</text>
<text x="771.2" y="261.4" font-family='"Liberation Serif", "Times New Roman", serif' font-size="18.2" fill="#000" text-anchor="end" textLength="9.4" lengthAdjust="spacingAndGlyphs" >0</text>
<text x="771.2" y="309.98" font-family='"Liberation Serif", "Times New Roman", serif' font-size="18.2" fill="#000" text-anchor="end" textLength="28.5" lengthAdjust="spacingAndGlyphs" >400</text>
<text x="771.2" y="358.56" font-family='"Liberation Serif", "Times New Roman", serif' font-size="18.2" fill="#000" text-anchor="end" textLength="28.5" lengthAdjust="spacingAndGlyphs" >300</text>
<text x="771.2" y="407.14" font-family='"Liberation Serif", "Times New Roman", serif' font-size="18.2" fill="#000" text-anchor="end" textLength="28.5" lengthAdjust="spacingAndGlyphs" >200</text>
<text x="771.2" y="455.72" font-family='"Liberation Serif", "Times New Roman", serif' font-size="18.2" fill="#000" text-anchor="end" textLength="28.5" lengthAdjust="spacingAndGlyphs" >100</text>
<text x="771.2" y="504.3" font-family='"Liberation Serif", "Times New Roman", serif' font-size="18.2" fill="#000" text-anchor="end" textLength="9.5" lengthAdjust="spacingAndGlyphs" >0</text>
<text x="780" y="524.4" font-family='"Liberation Serif", "Times New Roman", serif' font-size="17.6" fill="#000" text-anchor="middle" >1.5</text>
<text x="818.6" y="524.4" font-family='"Liberation Serif", "Times New Roman", serif' font-size="17.6" fill="#000" text-anchor="middle" >2.0</text>
<text x="857.2" y="524.4" font-family='"Liberation Serif", "Times New Roman", serif' font-size="17.6" fill="#000" text-anchor="middle" >2.5</text>
<text x="895.8" y="524.4" font-family='"Liberation Serif", "Times New Roman", serif' font-size="17.6" fill="#000" text-anchor="middle" >3.0</text>
<text x="934.4" y="524.4" font-family='"Liberation Serif", "Times New Roman", serif' font-size="17.6" fill="#000" text-anchor="middle" >3.5</text>
<text x="973" y="524.4" font-family='"Liberation Serif", "Times New Roman", serif' font-size="17.6" fill="#000" text-anchor="middle" >4.0</text>
<text x="1011.6" y="524.4" font-family='"Liberation Serif", "Times New Roman", serif' font-size="17.6" fill="#000" text-anchor="middle" >4.5</text>
<text x="1050.2" y="524.4" font-family='"Liberation Serif", "Times New Roman", serif' font-size="17.6" fill="#000" text-anchor="middle" >5.0</text>
<text x="1088.8" y="524.4" font-family='"Liberation Serif", "Times New Roman", serif' font-size="17.6" fill="#000" text-anchor="middle" >5.5</text>
<text x="933.7" y="547.5" font-family='"Liberation Serif", "Times New Roman", serif' font-size="20" fill="#000" text-anchor="middle" textLength="160" lengthAdjust="spacingAndGlyphs" >Photon Energy (eV)</text>
<text transform="translate(738.2 262) scale(1.08 1) rotate(-90)" text-anchor="middle" font-family='"Liberation Serif", "Times New Roman", serif' font-size="21" fill="#000" textLength="151" lengthAdjust="spacingAndGlyphs">PL Intensity (a.u.)</text>
<text x="790.6" y="29.5" font-family='"Liberation Serif", "Times New Roman", serif' font-size="13.8" fill="#000" font-weight="bold" textLength="114.7" lengthAdjust="spacingAndGlyphs" >30% 1,3,5 Benzene</text>
<text x="790.6" y="48.8" font-family='"Liberation Serif", "Times New Roman", serif' font-size="13.8" fill="#000" font-weight="bold" textLength="104.5" lengthAdjust="spacingAndGlyphs" >70% 1,3 Benzene</text>
<text x="791.8" y="76.3" font-family='"Liberation Serif", "Times New Roman", serif' font-size="13.8" fill="#000" font-weight="bold" textLength="72.5" lengthAdjust="spacingAndGlyphs" >E<tspan font-size="9.5" dy="3.6">exc</tspan><tspan dy="-3.6">= 6.2 eV</tspan></text>
<text x="946.2" y="25.7" font-family='"Liberation Serif", "Times New Roman", serif' font-size="13" fill="#000" textLength="37.6" lengthAdjust="spacingAndGlyphs" >3.9 eV</text>
<text x="1032.7" y="28.3" font-family='"Liberation Serif", "Times New Roman", serif' font-size="14.5" fill="#000" textLength="49" lengthAdjust="spacingAndGlyphs" >Porosity</text>
<line x1="1032" y1="43.1" x2="1045.4" y2="43.1" stroke="#000" stroke-width="1.8" />
<text x="1066.1" y="47.8" font-family='"Liberation Serif", "Times New Roman", serif' font-size="14.5" fill="#000" text-anchor="middle" textLength="19" lengthAdjust="spacingAndGlyphs" >0%</text>
<line x1="1032" y1="58.85" x2="1045.4" y2="58.85" stroke="#e81010" stroke-width="1.8" />
<text x="1066.1" y="63.55" font-family='"Liberation Serif", "Times New Roman", serif' font-size="14.5" fill="#000" text-anchor="middle" textLength="28.3" lengthAdjust="spacingAndGlyphs" >26%</text>
<line x1="1032" y1="74.6" x2="1045.4" y2="74.6" stroke="#1e8c1e" stroke-width="1.8" />
<text x="1066.1" y="79.3" font-family='"Liberation Serif", "Times New Roman", serif' font-size="14.5" fill="#000" text-anchor="middle" textLength="28.3" lengthAdjust="spacingAndGlyphs" >37%</text>
<line x1="1032" y1="90.35" x2="1045.4" y2="90.35" stroke="#1010d8" stroke-width="1.8" />
<text x="1066.1" y="95.05" font-family='"Liberation Serif", "Times New Roman", serif' font-size="14.5" fill="#000" text-anchor="middle" textLength="28.3" lengthAdjust="spacingAndGlyphs" >40%</text>
<line x1="1032" y1="106.1" x2="1045.4" y2="106.1" stroke="#7a0a0a" stroke-width="1.8" />
<text x="1066.1" y="110.8" font-family='"Liberation Serif", "Times New Roman", serif' font-size="14.5" fill="#000" text-anchor="middle" textLength="28.3" lengthAdjust="spacingAndGlyphs" >42%</text>
<line x1="1032" y1="121.85" x2="1045.4" y2="121.85" stroke="#ee22ee" stroke-width="1.8" />
<text x="1066.1" y="126.55" font-family='"Liberation Serif", "Times New Roman", serif' font-size="14.5" fill="#000" text-anchor="middle" textLength="28.3" lengthAdjust="spacingAndGlyphs" >42%</text>
<line x1="1032" y1="137.6" x2="1045.4" y2="137.6" stroke="#808000" stroke-width="1.8" />
<text x="1066.1" y="142.3" font-family='"Liberation Serif", "Times New Roman", serif' font-size="14.5" fill="#000" text-anchor="middle" textLength="28.3" lengthAdjust="spacingAndGlyphs" >42%</text>
<line x1="841.76" y1="225" x2="841.76" y2="248.2" stroke="#222" stroke-width="0.8" />
<path d="M841.76 255.2 L839.16 245.2 L841.76 245.2 L844.36 245.2 Z" stroke="none" fill="#000" stroke-width="1.2" />
<text transform="translate(846.66 223) scale(1.28 1) rotate(-90)" font-family='"Liberation Serif", "Times New Roman", serif' font-size="13" fill="#000" textLength="35" lengthAdjust="spacingAndGlyphs">2.3 eV</text>
<line x1="888.08" y1="187" x2="888.08" y2="248.2" stroke="#222" stroke-width="0.8" />
<path d="M888.08 255.2 L885.48 245.2 L888.08 245.2 L890.68 245.2 Z" stroke="none" fill="#000" stroke-width="1.2" />
<text transform="translate(892.98 184.2) scale(1.28 1) rotate(-90)" font-family='"Liberation Serif", "Times New Roman", serif' font-size="13" fill="#000" textLength="32" lengthAdjust="spacingAndGlyphs">2.9 eV</text>
<line x1="965.28" y1="27" x2="965.28" y2="248.2" stroke="#222" stroke-width="0.8" />
<path d="M965.28 255.2 L962.68 245.2 L965.28 245.2 L967.88 245.2 Z" stroke="none" fill="#000" stroke-width="1.2" />
<line x1="1038.62" y1="227.5" x2="1038.62" y2="248.2" stroke="#222" stroke-width="0.8" />
<path d="M1038.62 255.2 L1036.02 245.2 L1038.62 245.2 L1041.22 245.2 Z" stroke="none" fill="#000" stroke-width="1.2" />
<text transform="translate(1043.52 225) scale(1.28 1) rotate(-90)" font-family='"Liberation Serif", "Times New Roman", serif' font-size="13.5" fill="#000" textLength="41" lengthAdjust="spacingAndGlyphs">4.85 eV</text>
<text x="788.6" y="279.3" font-family='"Liberation Serif", "Times New Roman", serif' font-size="13.8" fill="#000" font-weight="bold" textLength="111.2" lengthAdjust="spacingAndGlyphs" >100% 1,4 Benzene</text>
<text x="791.8" y="306.3" font-family='"Liberation Serif", "Times New Roman", serif' font-size="13.8" fill="#000" font-weight="bold" textLength="70" lengthAdjust="spacingAndGlyphs" >E<tspan font-size="9.5" dy="3.6">exc</tspan><tspan dy="-3.6">= 5.6 eV</tspan></text>
<text x="929.8" y="279.2" font-family='"Liberation Serif", "Times New Roman", serif' font-size="13.6" fill="#000" textLength="43.4" lengthAdjust="spacingAndGlyphs" >3.67 eV</text>
<text x="1034" y="277.2" font-family='"Liberation Serif", "Times New Roman", serif' font-size="14.5" fill="#000" textLength="48.3" lengthAdjust="spacingAndGlyphs" >Porosity</text>
<circle cx="1038.5" cy="291" r="2.4" fill="#fff" stroke="#222" stroke-width="0.8"/>
<text x="1080.3" y="295.6" font-family='"Liberation Serif", "Times New Roman", serif' font-size="14.5" fill="#000" text-anchor="end" textLength="27" lengthAdjust="spacingAndGlyphs" >10%</text>
<line x1="837.13" y1="449.3" x2="837.13" y2="491.1" stroke="#222" stroke-width="0.8" />
<path d="M837.13 498.1 L834.53 488.1 L837.13 488.1 L839.73 488.1 Z" stroke="none" fill="#000" stroke-width="1.2" />
<text transform="translate(842.03 446) scale(1.28 1) rotate(-90)" font-family='"Liberation Serif", "Times New Roman", serif' font-size="13" fill="#000" textLength="39.5" lengthAdjust="spacingAndGlyphs">2.24 eV</text>
<line x1="884.99" y1="411.7" x2="884.99" y2="491.1" stroke="#222" stroke-width="0.8" />
<path d="M884.99 498.1 L882.39 488.1 L884.99 488.1 L887.59 488.1 Z" stroke="none" fill="#000" stroke-width="1.2" />
<text transform="translate(889.89 409.2) scale(1.28 1) rotate(-90)" font-family='"Liberation Serif", "Times New Roman", serif' font-size="13" fill="#000" textLength="39.5" lengthAdjust="spacingAndGlyphs">2.86 eV</text>
<line x1="947.52" y1="283" x2="947.52" y2="491.1" stroke="#222" stroke-width="0.8" />
<path d="M947.52 498.1 L944.92 488.1 L947.52 488.1 L950.12 488.1 Z" stroke="none" fill="#000" stroke-width="1.2" />
<line x1="988.44" y1="413.6" x2="988.44" y2="491.1" stroke="#222" stroke-width="0.8" />
<path d="M988.44 498.1 L985.84 488.1 L988.44 488.1 L991.04 488.1 Z" stroke="none" fill="#000" stroke-width="1.2" />
<text transform="translate(993.34 411) scale(1.28 1) rotate(-90)" font-family='"Liberation Serif", "Times New Roman", serif' font-size="13" fill="#000" textLength="41" lengthAdjust="spacingAndGlyphs">4.20 eV</text>
<g clip-path="url(#cl3)" fill="none" stroke="#262626" stroke-width="0.72">
<circle cx="780.03" cy="498.4" r="2.3"/>
<circle cx="780.21" cy="498.37" r="2.3"/>
<circle cx="780.39" cy="498.35" r="2.3"/>
<circle cx="780.58" cy="498.33" r="2.3"/>
<circle cx="780.76" cy="498.31" r="2.3"/>
<circle cx="780.95" cy="498.28" r="2.3"/>
<circle cx="781.13" cy="498.26" r="2.3"/>
<circle cx="781.32" cy="498.24" r="2.3"/>
<circle cx="781.51" cy="498.22" r="2.3"/>
<circle cx="781.69" cy="498.19" r="2.3"/>
<circle cx="781.88" cy="498.17" r="2.3"/>
<circle cx="782.07" cy="498.15" r="2.3"/>
<circle cx="782.26" cy="498.13" r="2.3"/>
<circle cx="782.45" cy="498.11" r="2.3"/>
<circle cx="782.64" cy="498.09" r="2.3"/>
<circle cx="782.83" cy="498.07" r="2.3"/>
<circle cx="783.02" cy="498.05" r="2.3"/>
<circle cx="783.21" cy="498.02" r="2.3"/>
<circle cx="783.4" cy="498" r="2.3"/>
<circle cx="783.6" cy="497.98" r="2.3"/>
<circle cx="783.79" cy="497.96" r="2.3"/>
<circle cx="783.99" cy="497.94" r="2.3"/>
<circle cx="784.18" cy="497.92" r="2.3"/>
<circle cx="784.38" cy="497.9" r="2.3"/>
<circle cx="784.57" cy="497.88" r="2.3"/>
<circle cx="784.77" cy="497.86" r="2.3"/>
<circle cx="784.97" cy="497.84" r="2.3"/>
<circle cx="785.17" cy="497.81" r="2.3"/>
<circle cx="785.37" cy="497.79" r="2.3"/>
<circle cx="785.57" cy="497.77" r="2.3"/>
<circle cx="785.77" cy="497.75" r="2.3"/>
<circle cx="785.97" cy="497.73" r="2.3"/>
<circle cx="786.17" cy="497.71" r="2.3"/>
<circle cx="786.37" cy="497.69" r="2.3"/>
<circle cx="786.57" cy="497.67" r="2.3"/>
<circle cx="786.78" cy="497.64" r="2.3"/>
<circle cx="786.98" cy="497.62" r="2.3"/>
<circle cx="787.19" cy="497.6" r="2.3"/>
<circle cx="787.39" cy="497.58" r="2.3"/>
<circle cx="787.6" cy="497.56" r="2.3"/>
<circle cx="787.81" cy="497.53" r="2.3"/>
<circle cx="788.01" cy="497.51" r="2.3"/>
<circle cx="788.22" cy="497.49" r="2.3"/>
<circle cx="788.43" cy="497.46" r="2.3"/>
<circle cx="788.64" cy="497.44" r="2.3"/>
<circle cx="788.85" cy="497.42" r="2.3"/>
<circle cx="789.06" cy="497.39" r="2.3"/>
<circle cx="789.28" cy="497.37" r="2.3"/>
<circle cx="789.49" cy="497.34" r="2.3"/>
<circle cx="789.7" cy="497.32" r="2.3"/>
<circle cx="789.92" cy="497.29" r="2.3"/>
<circle cx="790.13" cy="497.27" r="2.3"/>
<circle cx="790.35" cy="497.24" r="2.3"/>
<circle cx="790.56" cy="497.21" r="2.3"/>
<circle cx="790.78" cy="497.19" r="2.3"/>
<circle cx="791" cy="497.16" r="2.3"/>
<circle cx="791.22" cy="497.13" r="2.3"/>
<circle cx="791.44" cy="497.1" r="2.3"/>
<circle cx="791.66" cy="497.08" r="2.3"/>
<circle cx="791.88" cy="497.05" r="2.3"/>
<circle cx="792.1" cy="497.02" r="2.3"/>
<circle cx="792.32" cy="496.99" r="2.3"/>
<circle cx="792.55" cy="496.95" r="2.3"/>
<circle cx="792.77" cy="496.92" r="2.3"/>
<circle cx="793" cy="496.89" r="2.3"/>
<circle cx="793.22" cy="496.86" r="2.3"/>
<circle cx="793.45" cy="496.82" r="2.3"/>
<circle cx="793.67" cy="496.79" r="2.3"/>
<circle cx="793.9" cy="496.75" r="2.3"/>
<circle cx="794.13" cy="496.72" r="2.3"/>
<circle cx="794.36" cy="496.68" r="2.3"/>
<circle cx="794.59" cy="496.64" r="2.3"/>
<circle cx="794.82" cy="496.6" r="2.3"/>
<circle cx="795.06" cy="496.56" r="2.3"/>
<circle cx="795.29" cy="496.52" r="2.3"/>
<circle cx="795.52" cy="496.48" r="2.3"/>
<circle cx="795.76" cy="496.44" r="2.3"/>
<circle cx="795.99" cy="496.4" r="2.3"/>
<circle cx="796.23" cy="496.35" r="2.3"/>
<circle cx="796.47" cy="496.31" r="2.3"/>
<circle cx="796.7" cy="496.26" r="2.3"/>
<circle cx="796.94" cy="496.21" r="2.3"/>
<circle cx="797.18" cy="496.16" r="2.3"/>
<circle cx="797.42" cy="496.11" r="2.3"/>
<circle cx="797.66" cy="496.05" r="2.3"/>
<circle cx="797.91" cy="495.99" r="2.3"/>
<circle cx="798.15" cy="495.94" r="2.3"/>
<circle cx="798.39" cy="495.87" r="2.3"/>
<circle cx="798.64" cy="495.81" r="2.3"/>
<circle cx="798.88" cy="495.75" r="2.3"/>
<circle cx="799.13" cy="495.68" r="2.3"/>
<circle cx="799.38" cy="495.61" r="2.3"/>
<circle cx="799.63" cy="495.54" r="2.3"/>
<circle cx="799.88" cy="495.47" r="2.3"/>
<circle cx="800.13" cy="495.39" r="2.3"/>
<circle cx="800.38" cy="495.32" r="2.3"/>
<circle cx="800.63" cy="495.24" r="2.3"/>
<circle cx="800.88" cy="495.16" r="2.3"/>
<circle cx="801.14" cy="495.07" r="2.3"/>
<circle cx="801.39" cy="494.99" r="2.3"/>
<circle cx="801.65" cy="494.9" r="2.3"/>
<circle cx="801.91" cy="494.81" r="2.3"/>
<circle cx="802.16" cy="494.72" r="2.3"/>
<circle cx="802.42" cy="494.63" r="2.3"/>
<circle cx="802.68" cy="494.54" r="2.3"/>
<circle cx="802.94" cy="494.44" r="2.3"/>
<circle cx="803.21" cy="494.34" r="2.3"/>
<circle cx="803.47" cy="494.24" r="2.3"/>
<circle cx="803.73" cy="494.14" r="2.3"/>
<circle cx="804" cy="494.03" r="2.3"/>
<circle cx="804.26" cy="493.93" r="2.3"/>
<circle cx="804.53" cy="493.82" r="2.3"/>
<circle cx="804.8" cy="493.71" r="2.3"/>
<circle cx="805.07" cy="493.6" r="2.3"/>
<circle cx="805.34" cy="493.48" r="2.3"/>
<circle cx="805.61" cy="493.36" r="2.3"/>
<circle cx="805.88" cy="493.24" r="2.3"/>
<circle cx="806.15" cy="493.12" r="2.3"/>
<circle cx="806.43" cy="493" r="2.3"/>
<circle cx="806.7" cy="492.87" r="2.3"/>
<circle cx="806.98" cy="492.75" r="2.3"/>
<circle cx="807.26" cy="492.62" r="2.3"/>
<circle cx="807.54" cy="492.48" r="2.3"/>
<circle cx="807.82" cy="492.35" r="2.3"/>
<circle cx="808.1" cy="492.21" r="2.3"/>
<circle cx="808.38" cy="492.08" r="2.3"/>
<circle cx="808.66" cy="491.93" r="2.3"/>
<circle cx="808.94" cy="491.79" r="2.3"/>
<circle cx="809.23" cy="491.64" r="2.3"/>
<circle cx="809.52" cy="491.5" r="2.3"/>
<circle cx="809.8" cy="491.34" r="2.3"/>
<circle cx="810.09" cy="491.19" r="2.3"/>
<circle cx="810.38" cy="491.02" r="2.3"/>
<circle cx="810.67" cy="490.84" r="2.3"/>
<circle cx="810.96" cy="490.66" r="2.3"/>
<circle cx="811.26" cy="490.46" r="2.3"/>
<circle cx="811.55" cy="490.26" r="2.3"/>
<circle cx="811.85" cy="490.05" r="2.3"/>
<circle cx="812.14" cy="489.83" r="2.3"/>
<circle cx="812.44" cy="489.6" r="2.3"/>
<circle cx="812.74" cy="489.37" r="2.3"/>
<circle cx="813.04" cy="489.13" r="2.3"/>
<circle cx="813.34" cy="488.88" r="2.3"/>
<circle cx="813.64" cy="488.63" r="2.3"/>
<circle cx="813.95" cy="488.38" r="2.3"/>
<circle cx="814.25" cy="488.11" r="2.3"/>
<circle cx="814.56" cy="487.85" r="2.3"/>
<circle cx="814.87" cy="487.58" r="2.3"/>
<circle cx="815.18" cy="487.31" r="2.3"/>
<circle cx="815.49" cy="487.04" r="2.3"/>
<circle cx="815.8" cy="486.76" r="2.3"/>
<circle cx="816.11" cy="486.49" r="2.3"/>
<circle cx="816.43" cy="486.21" r="2.3"/>
<circle cx="816.74" cy="485.94" r="2.3"/>
<circle cx="817.06" cy="485.67" r="2.3"/>
<circle cx="817.38" cy="485.4" r="2.3"/>
<circle cx="817.69" cy="485.14" r="2.3"/>
<circle cx="818.02" cy="484.88" r="2.3"/>
<circle cx="818.34" cy="484.63" r="2.3"/>
<circle cx="818.66" cy="484.38" r="2.3"/>
<circle cx="818.99" cy="484.14" r="2.3"/>
<circle cx="819.31" cy="483.9" r="2.3"/>
<circle cx="819.64" cy="483.67" r="2.3"/>
<circle cx="819.97" cy="483.44" r="2.3"/>
<circle cx="820.3" cy="483.21" r="2.3"/>
<circle cx="820.63" cy="482.98" r="2.3"/>
<circle cx="820.96" cy="482.76" r="2.3"/>
<circle cx="821.3" cy="482.53" r="2.3"/>
<circle cx="821.63" cy="482.31" r="2.3"/>
<circle cx="821.97" cy="482.09" r="2.3"/>
<circle cx="822.31" cy="481.86" r="2.3"/>
<circle cx="822.65" cy="481.64" r="2.3"/>
<circle cx="822.99" cy="481.41" r="2.3"/>
<circle cx="823.33" cy="481.18" r="2.3"/>
<circle cx="823.68" cy="480.95" r="2.3"/>
<circle cx="824.02" cy="480.72" r="2.3"/>
<circle cx="824.37" cy="480.48" r="2.3"/>
<circle cx="824.72" cy="480.24" r="2.3"/>
<circle cx="825.07" cy="479.99" r="2.3"/>
<circle cx="825.42" cy="479.74" r="2.3"/>
<circle cx="825.78" cy="479.47" r="2.3"/>
<circle cx="826.13" cy="479.21" r="2.3"/>
<circle cx="826.49" cy="478.93" r="2.3"/>
<circle cx="826.85" cy="478.64" r="2.3"/>
<circle cx="827.21" cy="478.34" r="2.3"/>
<circle cx="827.57" cy="478.04" r="2.3"/>
<circle cx="827.93" cy="477.73" r="2.3"/>
<circle cx="828.3" cy="477.41" r="2.3"/>
<circle cx="828.66" cy="477.08" r="2.3"/>
<circle cx="829.03" cy="476.75" r="2.3"/>
<circle cx="829.4" cy="476.4" r="2.3"/>
<circle cx="829.77" cy="476.06" r="2.3"/>
<circle cx="830.15" cy="475.7" r="2.3"/>
<circle cx="830.52" cy="475.34" r="2.3"/>
<circle cx="830.9" cy="474.97" r="2.3"/>
<circle cx="831.28" cy="474.6" r="2.3"/>
<circle cx="831.66" cy="474.22" r="2.3"/>
<circle cx="832.04" cy="473.83" r="2.3"/>
<circle cx="832.42" cy="473.44" r="2.3"/>
<circle cx="832.81" cy="473.04" r="2.3"/>
<circle cx="833.19" cy="472.64" r="2.3"/>
<circle cx="833.58" cy="472.24" r="2.3"/>
<circle cx="833.97" cy="471.83" r="2.3"/>
<circle cx="834.37" cy="471.42" r="2.3"/>
<circle cx="834.76" cy="471.01" r="2.3"/>
<circle cx="835.16" cy="470.59" r="2.3"/>
<circle cx="835.55" cy="470.17" r="2.3"/>
<circle cx="835.95" cy="469.75" r="2.3"/>
<circle cx="836.35" cy="469.33" r="2.3"/>
<circle cx="836.76" cy="468.9" r="2.3"/>
<circle cx="837.16" cy="468.47" r="2.3"/>
<circle cx="837.57" cy="468.03" r="2.3"/>
<circle cx="837.98" cy="467.58" r="2.3"/>
<circle cx="838.39" cy="467.13" r="2.3"/>
<circle cx="838.8" cy="466.67" r="2.3"/>
<circle cx="839.22" cy="466.2" r="2.3"/>
<circle cx="839.64" cy="465.73" r="2.3"/>
<circle cx="840.06" cy="465.25" r="2.3"/>
<circle cx="840.48" cy="464.76" r="2.3"/>
<circle cx="840.9" cy="464.28" r="2.3"/>
<circle cx="841.32" cy="463.78" r="2.3"/>
<circle cx="841.75" cy="463.29" r="2.3"/>
<circle cx="842.18" cy="462.79" r="2.3"/>
<circle cx="842.61" cy="462.28" r="2.3"/>
<circle cx="843.04" cy="461.78" r="2.3"/>
<circle cx="843.48" cy="461.27" r="2.3"/>
<circle cx="843.92" cy="460.76" r="2.3"/>
<circle cx="844.36" cy="460.25" r="2.3"/>
<circle cx="844.8" cy="459.73" r="2.3"/>
<circle cx="845.24" cy="459.22" r="2.3"/>
<circle cx="845.69" cy="458.71" r="2.3"/>
<circle cx="846.14" cy="458.19" r="2.3"/>
<circle cx="846.59" cy="457.68" r="2.3"/>
<circle cx="847.04" cy="457.17" r="2.3"/>
<circle cx="847.5" cy="456.67" r="2.3"/>
<circle cx="847.95" cy="456.16" r="2.3"/>
<circle cx="848.41" cy="455.66" r="2.3"/>
<circle cx="848.88" cy="455.16" r="2.3"/>
<circle cx="849.34" cy="454.66" r="2.3"/>
<circle cx="849.81" cy="454.17" r="2.3"/>
<circle cx="850.28" cy="453.68" r="2.3"/>
<circle cx="850.75" cy="453.18" r="2.3"/>
<circle cx="851.22" cy="452.69" r="2.3"/>
<circle cx="851.7" cy="452.2" r="2.3"/>
<circle cx="852.18" cy="451.7" r="2.3"/>
<circle cx="852.66" cy="451.21" r="2.3"/>
<circle cx="853.14" cy="450.72" r="2.3"/>
<circle cx="853.63" cy="450.22" r="2.3"/>
<circle cx="854.11" cy="449.73" r="2.3"/>
<circle cx="854.61" cy="449.23" r="2.3"/>
<circle cx="855.1" cy="448.74" r="2.3"/>
<circle cx="855.6" cy="448.24" r="2.3"/>
<circle cx="856.09" cy="447.75" r="2.3"/>
<circle cx="856.6" cy="447.25" r="2.3"/>
<circle cx="857.1" cy="446.75" r="2.3"/>
<circle cx="857.61" cy="446.26" r="2.3"/>
<circle cx="858.12" cy="445.76" r="2.3"/>
<circle cx="858.63" cy="445.27" r="2.3"/>
<circle cx="859.14" cy="444.77" r="2.3"/>
<circle cx="859.66" cy="444.27" r="2.3"/>
<circle cx="860.18" cy="443.78" r="2.3"/>
<circle cx="860.7" cy="443.28" r="2.3"/>
<circle cx="861.23" cy="442.78" r="2.3"/>
<circle cx="861.76" cy="442.29" r="2.3"/>
<circle cx="862.29" cy="441.79" r="2.3"/>
<circle cx="862.82" cy="441.29" r="2.3"/>
<circle cx="863.36" cy="440.8" r="2.3"/>
<circle cx="863.9" cy="440.3" r="2.3"/>
<circle cx="864.44" cy="439.81" r="2.3"/>
<circle cx="864.99" cy="439.32" r="2.3"/>
<circle cx="865.54" cy="438.83" r="2.3"/>
<circle cx="866.09" cy="438.34" r="2.3"/>
<circle cx="866.65" cy="437.85" r="2.3"/>
<circle cx="867.2" cy="437.36" r="2.3"/>
<circle cx="867.77" cy="436.87" r="2.3"/>
<circle cx="868.33" cy="436.38" r="2.3"/>
<circle cx="868.9" cy="435.89" r="2.3"/>
<circle cx="869.47" cy="435.4" r="2.3"/>
<circle cx="870.04" cy="434.91" r="2.3"/>
<circle cx="870.62" cy="434.41" r="2.3"/>
<circle cx="871.2" cy="433.92" r="2.3"/>
<circle cx="871.78" cy="433.42" r="2.3"/>
<circle cx="872.37" cy="432.92" r="2.3"/>
<circle cx="872.96" cy="432.42" r="2.3"/>
<circle cx="873.55" cy="431.91" r="2.3"/>
<circle cx="874.15" cy="431.41" r="2.3"/>
<circle cx="874.75" cy="430.9" r="2.3"/>
<circle cx="875.35" cy="430.38" r="2.3"/>
<circle cx="875.96" cy="429.86" r="2.3"/>
<circle cx="876.57" cy="429.35" r="2.3"/>
<circle cx="877.19" cy="428.85" r="2.3"/>
<circle cx="877.8" cy="428.36" r="2.3"/>
<circle cx="878.42" cy="427.87" r="2.3"/>
<circle cx="879.05" cy="427.38" r="2.3"/>
<circle cx="879.68" cy="426.88" r="2.3"/>
<circle cx="880.31" cy="426.39" r="2.3"/>
<circle cx="880.95" cy="425.88" r="2.3"/>
<circle cx="881.59" cy="425.36" r="2.3"/>
<circle cx="882.23" cy="424.83" r="2.3"/>
<circle cx="882.88" cy="424.28" r="2.3"/>
<circle cx="883.53" cy="423.71" r="2.3"/>
<circle cx="884.18" cy="423.1" r="2.3"/>
<circle cx="884.84" cy="422.46" r="2.3"/>
<circle cx="885.51" cy="421.77" r="2.3"/>
<circle cx="886.17" cy="421.05" r="2.3"/>
<circle cx="886.85" cy="420.29" r="2.3"/>
<circle cx="887.52" cy="419.5" r="2.3"/>
<circle cx="888.2" cy="418.67" r="2.3"/>
<circle cx="888.88" cy="417.8" r="2.3"/>
<circle cx="889.57" cy="416.91" r="2.3"/>
<circle cx="890.26" cy="415.99" r="2.3"/>
<circle cx="890.96" cy="415.05" r="2.3"/>
<circle cx="891.66" cy="414.08" r="2.3"/>
<circle cx="892.36" cy="413.1" r="2.3"/>
<circle cx="893.07" cy="412.11" r="2.3"/>
<circle cx="893.79" cy="411.11" r="2.3"/>
<circle cx="894.51" cy="410.12" r="2.3"/>
<circle cx="895.23" cy="409.1" r="2.3"/>
<circle cx="895.95" cy="408.06" r="2.3"/>
<circle cx="896.69" cy="407" r="2.3"/>
<circle cx="897.42" cy="405.92" r="2.3"/>
<circle cx="898.16" cy="404.81" r="2.3"/>
<circle cx="898.91" cy="403.69" r="2.3"/>
<circle cx="899.66" cy="402.55" r="2.3"/>
<circle cx="900.3" cy="401.57" r="2.3"/>
<circle cx="901.47" cy="399.77" r="2.3"/>
<circle cx="902.65" cy="397.96" r="2.3"/>
<circle cx="903.85" cy="396.19" r="2.3"/>
<circle cx="905.05" cy="394.44" r="2.3"/>
<circle cx="906.27" cy="392.65" r="2.3"/>
<circle cx="907.5" cy="390.78" r="2.3"/>
<circle cx="908.74" cy="388.75" r="2.3"/>
<circle cx="910" cy="386.42" r="2.3"/>
<circle cx="911.27" cy="383.64" r="2.3"/>
<circle cx="912.55" cy="380.49" r="2.3"/>
<circle cx="913.85" cy="376.95" r="2.3"/>
<circle cx="915.16" cy="373.01" r="2.3"/>
<circle cx="916.48" cy="368.72" r="2.3"/>
<circle cx="917.81" cy="364.08" r="2.3"/>
<circle cx="919.17" cy="358.9" r="2.3"/>
<circle cx="920.53" cy="353.24" r="2.3"/>
<circle cx="921.91" cy="347.33" r="2.3"/>
<circle cx="923.31" cy="341.19" r="2.3"/>
<circle cx="924.72" cy="334.53" r="2.3"/>
<circle cx="926.14" cy="327.95" r="2.3"/>
<circle cx="927.58" cy="321.97" r="2.3"/>
<circle cx="929.04" cy="316.06" r="2.3"/>
<circle cx="930.51" cy="311.22" r="2.3"/>
<circle cx="932" cy="308.04" r="2.3"/>
<circle cx="933.51" cy="306.12" r="2.3"/>
<circle cx="935.04" cy="304.47" r="2.3"/>
<circle cx="936.58" cy="302.66" r="2.3"/>
<circle cx="938.14" cy="300.36" r="2.3"/>
<circle cx="939.71" cy="297.81" r="2.3"/>
<circle cx="941.31" cy="295.46" r="2.3"/>
<circle cx="942.92" cy="293.44" r="2.3"/>
<circle cx="944.55" cy="291.56" r="2.3"/>
<circle cx="946.21" cy="290.82" r="2.3"/>
<circle cx="947.88" cy="291.78" r="2.3"/>
<circle cx="949.57" cy="293.71" r="2.3"/>
<circle cx="951.28" cy="295.88" r="2.3"/>
<circle cx="953.01" cy="297.89" r="2.3"/>
<circle cx="954.77" cy="300.06" r="2.3"/>
<circle cx="956.54" cy="302.6" r="2.3"/>
<circle cx="958.34" cy="306.09" r="2.3"/>
<circle cx="960.16" cy="310.97" r="2.3"/>
<circle cx="962" cy="317.33" r="2.3"/>
<circle cx="963.86" cy="324.96" r="2.3"/>
<circle cx="965.75" cy="332.93" r="2.3"/>
<circle cx="967.66" cy="341.98" r="2.3"/>
<circle cx="969.6" cy="351.83" r="2.3"/>
<circle cx="971.56" cy="361.65" r="2.3"/>
<circle cx="973.54" cy="371.51" r="2.3"/>
<circle cx="975.56" cy="381.58" r="2.3"/>
<circle cx="977.6" cy="391.91" r="2.3"/>
<circle cx="979.66" cy="402.61" r="2.3"/>
<circle cx="981.75" cy="412.54" r="2.3"/>
<circle cx="983.87" cy="421.38" r="2.3"/>
<circle cx="986.02" cy="429.63" r="2.3"/>
<circle cx="988.2" cy="437.54" r="2.3"/>
<circle cx="990.41" cy="445.28" r="2.3"/>
<circle cx="992.65" cy="452.84" r="2.3"/>
<circle cx="994.92" cy="460.09" r="2.3"/>
<circle cx="997.22" cy="466.91" r="2.3"/>
<circle cx="999.55" cy="473.46" r="2.3"/>
<circle cx="1001.92" cy="479.39" r="2.3"/>
<circle cx="1004.32" cy="484.28" r="2.3"/>
<circle cx="1006.75" cy="488.43" r="2.3"/>
<circle cx="1009.22" cy="491.24" r="2.3"/>
<circle cx="1011.73" cy="492.92" r="2.3"/>
<circle cx="1014.27" cy="494.11" r="2.3"/>
<circle cx="1016.85" cy="494.85" r="2.3"/>
<circle cx="1019.47" cy="495.31" r="2.3"/>
<circle cx="1022.12" cy="495.62" r="2.3"/>
<circle cx="1024.82" cy="495.7" r="2.3"/>
<circle cx="1027.56" cy="495.7" r="2.3"/>
<circle cx="1030.34" cy="495.7" r="2.3"/>
<circle cx="1033.16" cy="495.7" r="2.3"/>
<circle cx="1036.02" cy="495.7" r="2.3"/>
<circle cx="1038.94" cy="495.7" r="2.3"/>
<circle cx="1041.89" cy="495.7" r="2.3"/>
<circle cx="1044.9" cy="495.7" r="2.3"/>
<circle cx="1047.95" cy="495.7" r="2.3"/>
<circle cx="1051.05" cy="495.7" r="2.3"/>
<circle cx="1054.2" cy="495.7" r="2.3"/>
<circle cx="1057.41" cy="495.7" r="2.3"/>
<circle cx="1060.66" cy="495.7" r="2.3"/>
<circle cx="1063.98" cy="495.69" r="2.3"/>
<circle cx="1067.34" cy="495.61" r="2.3"/>
<circle cx="1070.77" cy="495.46" r="2.3"/>
<circle cx="1074.25" cy="495.25" r="2.3"/>
<circle cx="1077.79" cy="494.99" r="2.3"/>
<circle cx="1081.4" cy="494.63" r="2.3"/>
<circle cx="1085.07" cy="493.86" r="2.3"/>
<circle cx="1088.8" cy="492.93" r="2.3"/>
</g>
<circle cx="780" cy="498.3" r="2.3" fill="#fff" stroke="#1a1a1a" stroke-width="0.8"/>
<g filter="url(#shBox)"><rect x="182.6" y="410.8" width="197" height="90" fill="#fff"/></g>
<line x1="221.56" y1="453.7" x2="239.89" y2="454.62" stroke="#9494a4" stroke-width="1.35" />
<line x1="320.09" y1="456.91" x2="339.11" y2="457.6" stroke="#9494a4" stroke-width="1.35" />
<line x1="221.56" y1="453.7" x2="212.39" y2="424.37" stroke="#9494a4" stroke-width="1.35" />
<line x1="221.56" y1="453.7" x2="208.96" y2="462.87" stroke="#9494a4" stroke-width="1.35" />
<line x1="221.56" y1="453.7" x2="216.98" y2="467.91" stroke="#9494a4" stroke-width="1.35" />
<line x1="339.11" y1="457.6" x2="348.74" y2="487.39" stroke="#9494a4" stroke-width="1.35" />
<line x1="339.11" y1="457.6" x2="344.15" y2="445" stroke="#9494a4" stroke-width="1.35" />
<line x1="339.11" y1="457.6" x2="352.17" y2="448.43" stroke="#9494a4" stroke-width="1.35" />
<line x1="270.82" y1="435.83" x2="289.16" y2="435.83" stroke="#a8a8a8" stroke-width="2.16" />
<line x1="273.12" y1="475.93" x2="290.3" y2="475.93" stroke="#a8a8a8" stroke-width="2.16" />
<line x1="268.53" y1="432.39" x2="261.2" y2="419.1" stroke="#b8b8b8" stroke-width="1.35" />
<circle cx="261.2" cy="419.1" r="2.04" fill="url(#gH)" stroke="#aaa" stroke-width="0.3"/>
<line x1="297.18" y1="432.39" x2="303.59" y2="419.79" stroke="#b8b8b8" stroke-width="1.35" />
<circle cx="303.59" cy="419.79" r="2.04" fill="url(#gH)" stroke="#aaa" stroke-width="0.3"/>
<line x1="266.24" y1="480.51" x2="256.62" y2="491.51" stroke="#b8b8b8" stroke-width="1.35" />
<circle cx="256.62" cy="491.51" r="2.04" fill="url(#gH)" stroke="#aaa" stroke-width="0.3"/>
<line x1="292.59" y1="480.51" x2="299.01" y2="492.43" stroke="#b8b8b8" stroke-width="1.35" />
<circle cx="299.01" cy="492.43" r="2.04" fill="url(#gH)" stroke="#aaa" stroke-width="0.3"/>
<line x1="212.39" y1="424.37" x2="203.53" y2="425.93" stroke="#b0b0b0" stroke-width="1.22" />
<circle cx="203.53" cy="425.93" r="1.8" fill="url(#gH)" stroke="#aaa" stroke-width="0.3"/>
<line x1="212.39" y1="424.37" x2="209.31" y2="415.91" stroke="#b0b0b0" stroke-width="1.22" />
<circle cx="209.31" cy="415.91" r="1.8" fill="url(#gH)" stroke="#aaa" stroke-width="0.3"/>
<line x1="212.39" y1="424.37" x2="220.19" y2="419.87" stroke="#b0b0b0" stroke-width="1.22" />
<circle cx="220.19" cy="419.87" r="1.8" fill="url(#gH)" stroke="#aaa" stroke-width="0.3"/>
<circle cx="212.39" cy="424.37" r="2.47" fill="url(#gC)"/>
<line x1="212.39" y1="424.37" x2="192.23" y2="423.91" stroke="#b8b8b8" stroke-width="1.35" />
<circle cx="192.23" cy="423.91" r="1.92" fill="url(#gH)" stroke="#aaa" stroke-width="0.3"/>
<circle cx="214.23" cy="412.91" r="1.92" fill="url(#gH)" stroke="#aaa" stroke-width="0.3"/>
<circle cx="222.25" cy="417.04" r="1.92" fill="url(#gH)" stroke="#aaa" stroke-width="0.3"/>
<line x1="348.74" y1="487.39" x2="357.74" y2="487.39" stroke="#b0b0b0" stroke-width="1.22" />
<circle cx="357.74" cy="487.39" r="1.8" fill="url(#gH)" stroke="#aaa" stroke-width="0.3"/>
<line x1="348.74" y1="487.39" x2="342.95" y2="494.28" stroke="#b0b0b0" stroke-width="1.22" />
<circle cx="342.95" cy="494.28" r="1.8" fill="url(#gH)" stroke="#aaa" stroke-width="0.3"/>
<line x1="348.74" y1="487.39" x2="351.81" y2="495.84" stroke="#b0b0b0" stroke-width="1.22" />
<circle cx="351.81" cy="495.84" r="1.8" fill="url(#gH)" stroke="#aaa" stroke-width="0.3"/>
<circle cx="348.74" cy="487.39" r="2.47" fill="url(#gC)"/>
<line x1="348.74" y1="487.39" x2="367.53" y2="488.53" stroke="#b8b8b8" stroke-width="1.35" />
<circle cx="367.53" cy="488.53" r="1.92" fill="url(#gH)" stroke="#aaa" stroke-width="0.3"/>
<circle cx="338.88" cy="495.87" r="1.92" fill="url(#gH)" stroke="#aaa" stroke-width="0.3"/>
<circle cx="346.44" cy="497.7" r="1.92" fill="url(#gH)" stroke="#aaa" stroke-width="0.3"/>
<line x1="211.25" y1="466.76" x2="184.89" y2="466.31" stroke="#b8b8b8" stroke-width="1.22" />
<circle cx="184.89" cy="466.31" r="1.8" fill="url(#gH)" stroke="#aaa" stroke-width="0.3"/>
<line x1="211.25" y1="466.76" x2="196.35" y2="472.49" stroke="#b8b8b8" stroke-width="1.22" />
<circle cx="196.35" cy="472.49" r="1.8" fill="url(#gH)" stroke="#aaa" stroke-width="0.3"/>
<line x1="211.25" y1="466.76" x2="208.96" y2="482.8" stroke="#b8b8b8" stroke-width="1.22" />
<circle cx="208.96" cy="482.8" r="1.8" fill="url(#gH)" stroke="#aaa" stroke-width="0.3"/>
<line x1="211.25" y1="466.76" x2="221.56" y2="489.68" stroke="#b8b8b8" stroke-width="1.22" />
<circle cx="221.56" cy="489.68" r="1.8" fill="url(#gH)" stroke="#aaa" stroke-width="0.3"/>
<line x1="211.25" y1="466.76" x2="225" y2="465.62" stroke="#b8b8b8" stroke-width="1.22" />
<circle cx="225" cy="465.62" r="1.8" fill="url(#gH)" stroke="#aaa" stroke-width="0.3"/>
<ellipse cx="208.5" cy="462.18" rx="5.6" ry="5.2" fill="url(#gR)" transform="rotate(0 208.5 462.18)"/>
<ellipse cx="218.58" cy="467.91" rx="5.8" ry="5.6" fill="url(#gB)" transform="rotate(0 218.58 467.91)"/>
<ellipse cx="200.93" cy="466.76" rx="2.2" ry="1.8" fill="url(#gB)" transform="rotate(0 200.93 466.76)"/>
<line x1="347.59" y1="445" x2="338.42" y2="423.23" stroke="#b8b8b8" stroke-width="1.22" />
<circle cx="338.42" cy="423.23" r="1.8" fill="url(#gH)" stroke="#aaa" stroke-width="0.3"/>
<line x1="347.59" y1="445" x2="351.03" y2="427.81" stroke="#b8b8b8" stroke-width="1.22" />
<circle cx="351.03" cy="427.81" r="1.8" fill="url(#gH)" stroke="#aaa" stroke-width="0.3"/>
<line x1="347.59" y1="445" x2="376.23" y2="445" stroke="#b8b8b8" stroke-width="1.22" />
<circle cx="376.23" cy="445" r="1.8" fill="url(#gH)" stroke="#aaa" stroke-width="0.3"/>
<line x1="347.59" y1="445" x2="354.46" y2="455.31" stroke="#b8b8b8" stroke-width="1.22" />
<circle cx="354.46" cy="455.31" r="1.8" fill="url(#gH)" stroke="#aaa" stroke-width="0.3"/>
<line x1="347.59" y1="445" x2="333.84" y2="447.29" stroke="#b8b8b8" stroke-width="1.22" />
<circle cx="333.84" cy="447.29" r="1.8" fill="url(#gH)" stroke="#aaa" stroke-width="0.3"/>
<ellipse cx="342.32" cy="443.85" rx="6.6" ry="5.8" fill="url(#gB)" transform="rotate(20 342.32 443.85)"/>
<ellipse cx="352.63" cy="447.29" rx="5.6" ry="6" fill="url(#gR)" transform="rotate(0 352.63 447.29)"/>
<line x1="336.13" y1="446.14" x2="360.19" y2="439.27" stroke="#eee" stroke-width="1.35" />
<circle cx="221.56" cy="453.7" r="3.14" fill="url(#gSi)"/>
<circle cx="339.11" cy="457.6" r="3.14" fill="url(#gSi)"/>
<path d="M269.51 431.73 C270.58 431.63 272.67 433.07 273.46 434.2 C274.24 435.33 274.34 436.77 274.2 438.52 C274.05 440.27 272.96 441.81 272.59 444.69 C272.22 447.57 271.63 451.89 271.98 455.8 C272.33 459.71 273.83 464.55 274.69 468.15 C275.56 471.75 277.1 474.9 277.16 477.41 C277.22 479.92 276.03 482.04 275.06 483.21 C274.09 484.38 272.7 484.69 271.36 484.44 C270.02 484.2 267.76 486.3 267.04 481.73 C266.32 477.16 267.04 464.86 267.04 457.04 C267.04 449.22 266.63 439.03 267.04 434.81 C267.45 430.6 268.44 431.83 269.51 431.73 Z" stroke="none" fill="url(#gR)" stroke-width="1.2" />
<path d="M267.04 430.49 C268.37 430.53 270.53 431.21 271.36 432.35 C272.18 433.48 272.45 435.43 271.98 437.28 C271.5 439.14 269.24 440.99 268.52 443.46 C267.8 445.93 267.49 449.01 267.65 452.1 C267.82 455.19 268.48 458.68 269.51 461.98 C270.53 465.27 272.88 468.97 273.83 471.85 C274.77 474.73 275.7 477.3 275.19 479.26 C274.67 481.21 272.72 483 270.74 483.58 C268.77 484.16 266.21 484.05 263.33 482.72 C260.45 481.38 256.75 478.6 253.46 475.56 C250.16 472.51 245.84 467.94 243.58 464.44 C241.32 460.95 240.08 457.65 239.88 454.57 C239.67 451.48 240.49 448.4 242.35 445.93 C244.2 443.46 248.11 441.4 250.99 439.75 C253.87 438.11 257.57 437.33 259.63 436.05 C261.69 434.77 262.1 433.02 263.33 432.1 C264.57 431.17 265.7 430.45 267.04 430.49 Z" stroke="none" fill="url(#gB)" stroke-width="1.2" />
<path d="M299.14 428.4 C299.86 427.82 302.22 429.05 304.69 431.36 C307.16 433.66 311.26 438.15 313.95 442.22 C316.65 446.3 320 452.3 320.86 455.8 C321.73 459.3 321.01 460.33 319.14 463.21 C317.26 466.09 313.27 470.16 309.63 473.09 C305.99 476.01 300.1 479.51 297.28 480.74 C294.47 481.98 292.41 482.39 292.72 480.49 C293.02 478.6 297.24 474.32 299.14 469.38 C301.03 464.44 303.87 456.63 304.07 450.86 C304.28 445.1 301.19 438.56 300.37 434.81 C299.55 431.07 298.42 428.97 299.14 428.4 Z" stroke="none" fill="url(#gB)" stroke-width="1.2" />
<path d="M291.73 427.41 C293.99 427 296.67 427 299.14 428.64 C301.6 430.29 303.91 433.79 306.54 437.28 C309.18 440.78 313.29 446.34 314.94 449.63 C316.58 452.92 316.58 454.57 316.42 457.04 C316.26 459.51 316.01 461.77 313.95 464.44 C311.89 467.12 307.37 470.58 304.07 473.09 C300.78 475.6 296.83 478.64 294.2 479.51 C291.56 480.37 289.51 479.34 288.27 478.27 C287.04 477.2 286.46 475.6 286.79 473.09 C287.12 470.58 289.79 466.91 290.25 463.21 C290.7 459.51 290.25 454.98 289.51 450.86 C288.77 446.75 286.46 441.81 285.8 438.52 C285.14 435.23 284.57 432.96 285.56 431.11 C286.54 429.26 289.47 427.82 291.73 427.41 Z" stroke="none" fill="url(#gR)" stroke-width="1.2" />
<g filter="url(#blur1)">
<ellipse cx="257.78" cy="450.25" rx="3.2" ry="4.2" fill="#8a8aff" opacity="0.8"/>
<ellipse cx="266.79" cy="434.81" rx="2" ry="2" fill="#8a8aff" opacity="0.9"/>
<ellipse cx="304.07" cy="452.1" rx="3.4" ry="5" fill="#ff7a6a" opacity="0.8"/>
</g>
<g filter="url(#sh)">
<line x1="22.5" y1="524.5" x2="22.5" y2="27" stroke="#000" stroke-width="1.4" />
<path d="M22.5 17 L26.5 30 L22.5 27.2 L18.5 30 Z" stroke="none" fill="#000" stroke-width="1.2" />
<line x1="23.5" y1="69.6" x2="32" y2="69.6" stroke="#000" stroke-width="1.3" />
<text x="16" y="75.1" font-family='"Liberation Sans", Arial, sans-serif' font-size="16" fill="#0c0c0c" text-anchor="end" >5</text>
<line x1="24.5" y1="114.4" x2="33" y2="114.4" stroke="#000" stroke-width="1.3" />
<line x1="23.5" y1="158.5" x2="32" y2="158.5" stroke="#000" stroke-width="1.3" />
<text x="16" y="164" font-family='"Liberation Sans", Arial, sans-serif' font-size="16" fill="#0c0c0c" text-anchor="end" >4</text>
<line x1="24.5" y1="204" x2="33" y2="204" stroke="#000" stroke-width="1.3" />
<line x1="23.5" y1="251.3" x2="32" y2="251.3" stroke="#000" stroke-width="1.3" />
<text x="16" y="256.8" font-family='"Liberation Sans", Arial, sans-serif' font-size="16" fill="#0c0c0c" text-anchor="end" >3</text>
<line x1="24.5" y1="296" x2="33" y2="296" stroke="#000" stroke-width="1.3" />
<line x1="23.5" y1="341.4" x2="32" y2="341.4" stroke="#000" stroke-width="1.3" />
<text x="16" y="346.9" font-family='"Liberation Sans", Arial, sans-serif' font-size="16" fill="#0c0c0c" text-anchor="end" >2</text>
<line x1="24.5" y1="388" x2="33" y2="388" stroke="#000" stroke-width="1.3" />
<line x1="23.5" y1="435.2" x2="32" y2="435.2" stroke="#000" stroke-width="1.3" />
<text x="16" y="440.7" font-family='"Liberation Sans", Arial, sans-serif' font-size="16" fill="#0c0c0c" text-anchor="end" >1</text>
<line x1="24.5" y1="480.2" x2="33" y2="480.2" stroke="#000" stroke-width="1.3" />
<line x1="23.5" y1="524.5" x2="32" y2="524.5" stroke="#000" stroke-width="1.3" />
<text x="16" y="530" font-family='"Liberation Sans", Arial, sans-serif' font-size="16" fill="#0c0c0c" text-anchor="end" >0</text>
<text x="27.8" y="20.6" font-family='"Liberation Sans", Arial, sans-serif' font-size="16" fill="#0c0c0c" textLength="203" lengthAdjust="spacingAndGlyphs" >Energy of excited states, eV</text>
<line x1="55.5" y1="50.1" x2="118" y2="50.1" stroke="#000" stroke-width="4" />
<text x="35" y="57.2" font-family='"Liberation Sans", Arial, sans-serif' font-size="15.7" fill="#0c0c0c" >S<tspan font-size="10.6" dy="-6.3">1</tspan></text>
<text x="78.8" y="43.8" font-family='"Liberation Sans", Arial, sans-serif' font-size="13.8" fill="#0c0c0c" textLength="107.5" lengthAdjust="spacingAndGlyphs" >5.35 eV (232 nm)</text>
<line x1="65.3" y1="523.1" x2="187.7" y2="523.1" stroke="#000" stroke-width="4.2" />
<text x="49.6" y="523.3" font-family='"Liberation Sans", Arial, sans-serif' font-size="15.7" fill="#0c0c0c" >S<tspan font-size="10.6" dy="-6.3">0</tspan></text>
<line x1="85.3" y1="518.6" x2="85.3" y2="62.1" stroke="#000" stroke-width="1.4" />
<path d="M85.3 53.3 L89.4 65.8 L85.3 63 L81.2 65.8 Z" stroke="none" fill="#000" stroke-width="1.2" />
<path d="M109 58.2 L108.48 58.32 L107.98 58.47 L107.53 58.7 L107.16 59 L106.87 59.38 L106.69 59.83 L106.63 60.32 L106.69 60.81 L106.86 61.26 L107.14 61.65 L107.51 61.96 L107.95 62.19 L108.45 62.35 L108.97 62.48 L109.49 62.6 L109.99 62.77 L110.43 63 L110.8 63.31 L111.08 63.7 L111.24 64.15 L111.3 64.64 L111.23 65.13 L111.05 65.58 L110.77 65.96 L110.39 66.26 L109.94 66.48 L109.44 66.63 L108.92 66.75 L108.4 66.87 L107.9 67.03 L107.45 67.25 L107.08 67.55 L106.8 67.94 L106.62 68.39 L106.56 68.88 L106.62 69.37 L106.79 69.82 L107.07 70.21 L107.44 70.51 L107.89 70.74 L108.39 70.9 L108.91 71.03 L109.43 71.16 L109.93 71.32 L110.37 71.55 L110.74 71.86 L111.01 72.25 L111.18 72.71 L111.23 73.2 L111.16 73.68 L110.98 74.13 L110.69 74.51 L110.31 74.81 L109.86 75.03 L109.36 75.19 L108.84 75.3 L108.32 75.42 L107.82 75.58 L107.37 75.8 L107 76.11 L106.72 76.5 L106.55 76.95 L106.49 77.44 L106.55 77.93 L106.73 78.38 L107.01 78.76 L107.38 79.07 L107.83 79.29 L108.33 79.45 L108.85 79.58 L109.37 79.71 L109.87 79.87 L110.31 80.11 L110.67 80.42 L110.94 80.81 L111.11 81.27 L111.16 81.76 L111.09 82.24 L110.9 82.69 L110.62 83.07 L110.24 83.37 L109.79 83.59 L109.28 83.74 L108.76 83.86 L108.24 83.98 L107.74 84.13 L107.3 84.36 L106.93 84.67 L106.65 85.06 L106.48 85.51 L106.42 86 L106.48 86.48 L106.66 86.93 L106.95 87.32 L107.32 87.62 L107.77 87.85 L108.27 88.01 L108.79 88.13 L109.31 88.26 L109.8 88.43 L110.24 88.66 L110.61 88.98 L110.88 89.37 L111.04 89.83 L111.09 90.32 L111.02 90.8 L110.83 91.25 L110.54 91.63 L110.16 91.92 L109.71 92.14 L109.21 92.29 L108.68 92.41 L108.16 92.53 L107.66 92.69 L107.22 92.91 L106.85 93.22 L106.57 93.61 L106.41 94.07 L106.35 94.56 L106.42 95.04 L106.6 95.49 L106.88 95.88 L107.26 96.18 L107.71 96.4 L108.21 96.56 L108.73 96.68 L109.25 96.81 L109.74 96.98 L110.18 97.22 L110.54 97.53 L110.81 97.93 L110.97 98.38 L111.02 98.87 L110.94 99.36 L110.76 99.81 L110.46 100.18 L110.08 100.48 L109.63 100.69 L109.13 100.84 L108.6 100.96 L108.08 101.08 L107.58 101.24 L107.14 101.47 L106.77 101.78 L106.5 102.17 L106.33 102.63 L106.28 103.12 L106.35 103.6 L106.53 104.05 L106.82 104.43 L107.2 104.73 L107.65 104.95 L108.15 105.11 L108.67 105.24 L109.19 105.37 L109.68 105.53 L110.12 105.77 L110.48 106.09 L110.75 106.48 L110.9 106.94 L110.95 107.43 L110.87 107.92 L110.68 108.36 L110.39 108.74 L110 109.03 L109.55 109.24 L109.05 109.39 L108.52 109.51 L108 109.63 L107.5 109.79 L107.06 110.02 L106.7 110.34 L106.43 110.73 L106.26 111.19 L106.21 111.67 L106.28 112.16 L106.46 112.61 L106.75 112.99 L107.13 113.29 L107.59 113.51 L108.09 113.66 L108.61 113.79 L109.13 113.92 L109.62 114.09 L110.06 114.33 L110.42 114.64 L110.68 115.04 L110.84 115.5 L110.88 115.99 L110.8 116.48 L110.61 116.92 L110.31 117.29 L109.92 117.59 L109.47 117.8 L108.97 117.95 L108.44 118.06 L107.92 118.18 L107.42 118.35 L106.99 118.58 L106.62 118.89 L106.35 119.29 L106.19 119.74 L106.14 120.23 L106.21 120.72 L106.4 121.17 L106.69 121.54 L107.07 121.84 L107.52 122.06 L108.03 122.21 L108.55 122.34 L109.07 122.47 L109.56 122.64 L109.99 122.88 L110.35 123.2 L110.61 123.6 L110.77 124.06 L110.81 124.55 L110.73 125.04 L110.53 125.48 L110.23 125.85 L109.85 126.14 L109.39 126.35 L108.89 126.5 L108.36 126.61 L107.84 126.74 L107.35 126.9 L106.91 127.13 L106.55 127.45 L106.28 127.84 L106.12 128.3 L106.07 128.79 L106.15 129.28 L106.33 129.72 L106.63 130.1 L107.01 130.4 L107.46 130.61 L107.96 130.77 L108.49 130.89 L109.01 131.02 L109.5 131.2 L109.93 131.44 L110.29 131.76 L110.55 132.16 L110.7 132.62 L110.73 133.11 L110.65 133.59 L110.46 134.04 L110.16 134.41 L109.77 134.7 L109.31 134.9 L108.81 135.05 L108.28 135.17 L107.76 135.29 L107.27 135.45 L106.83 135.69 L106.47 136 L106.2 136.4 L106.05 136.86 L106 137.35 L106.08 137.84 L106.27 138.28 L106.56 138.66 L106.95 138.95 L107.4 139.16 L107.9 139.32 L108.43 139.44 L108.95 139.58 L109.44 139.75 L109.87 139.99 L110.22 140.31 L110.48 140.72 L110.63 141.18 L110.66 141.67 L110.58 142.15 L110.38 142.59 L110.08 142.96 L109.69 143.25 L109.23 143.46 L108.73 143.6 L108.2 143.72 L107.68 143.84 L107.19 144.01 L106.75 144.24 L106.39 144.56 L106.13 144.96 L105.97 145.42 L105.93 145.91 L106.01 146.39 L106.2 146.84 L106.5 147.21 L106.89 147.5 L107.34 147.72 L107.84 147.87 L108.37 148 L108.89 148.13 L109.37 148.3 L109.81 148.55 L110.16 148.87 L110.41 149.27 L110.56 149.74 L110.59 150.23 L110.51 150.71 L110.31 151.15 L110 151.52 L109.61 151.8 L109.15 152.01 L108.65 152.15 L108.12 152.27 L107.6 152.39 L107.11 152.56 L106.68 152.8 L106.32 153.12 L106.06 153.52 L105.9 153.98 L105.86 154.47 L105.94 154.95 L106.14 155.39 L106.44 155.77 L106.82 156.06 L107.28 156.27 L107.78 156.42 L108.31 156.55 L108.83 156.68 L109.31 156.86 L109.74 157.1 L110.09 157.43 L110.35 157.83 L110.49 158.3 L110.52 158.79 L110.43 159.27 L110.23 159.71 L109.93 160.07 L109.53 160.36 L109.07 160.56 L108.57 160.71 L108.04 160.82 L107.52 160.95 L107.03 161.11 L106.6 161.35 L106.24 161.67 L105.98 162.08 L105.83 162.54 L105.79 163.03 L105.88 163.51 L106.07 163.95 L106.37 164.32 L106.76 164.61 L107.22 164.82 L107.72 164.98 L108.25 165.1 L108.77 165.23 L109.25 165.41 L109.68 165.66 L110.03 165.98 L110.28 166.39 L110.43 166.85 L110.45 167.35 L110.36 167.83 L110.16 168.26 L109.85 168.63 L109.46 168.91 L108.99 169.12 L108.49 169.26 L107.96 169.37 L107.44 169.5 L106.95 169.67 L106.52 169.91 L106.17 170.23 L105.91 170.63 L105.76 171.1 L105.72 171.59 L105.81 172.07 L106.01 172.51 L106.31 172.88 L106.7 173.17 L107.16 173.38 L107.66 173.53 L108.19 173.65 L108.71 173.79 L109.19 173.96 L109.62 174.21 L109.97 174.54 L110.22 174.95 L110.36 175.41 L110.38 175.91 L110.29 176.39 L110.08 176.82 L109.77 177.19 L109.38 177.47 L108.91 177.67 L108.41 177.81 L107.88 177.93 L107.36 178.05 L106.87 178.22 L106.44 178.46 L106.09 178.79 L105.83 179.19 L105.69 179.66 L105.66 180.15 L105.74 180.63 L105.94 181.07 L106.25 181.44 L106.64 181.72 L107.1 181.93 L107.6 182.08 L108.13 182.2 L108.65 182.34 L109.13 182.52 L109.56 182.77 L109.9 183.1 L110.15 183.51 L110.29 183.97 L110.31 184.46 L110.22 184.94 L110.01 185.38 L109.7 185.74 L109.3 186.02 L108.84 186.22 L108.33 186.36 L107.8 186.48 L107.28 186.6 L106.79 186.77 L106.37 187.02 L106.01 187.34 L105.76 187.75 L105.61 188.21 L105.59 188.71 L105.67 189.19 L105.88 189.62 L106.18 189.99 L106.58 190.28 L107.04 190.48 L107.54 190.63 L108.07 190.76 L108.58 190.89 L109.07 191.07 L109.49 191.32 L109.84 191.65 L110.08 192.06 L110.22 192.53 L110.24 193.02 L110.14 193.5 L109.93 193.94 L109.62 194.3 L109.22 194.57 L108.76 194.77 L108.25 194.91 L107.72 195.03 L107.2 195.16 L106.72 195.33 L106.29 195.57 L105.94 195.9 L105.69 196.31 L105.54 196.77 L105.52 197.26 L105.61 197.75 L105.81 198.18 L106.12 198.55 L106.51 198.83 L106.98 199.04 L107.48 199.18 L108.01 199.31 L108.52 199.44 L109.01 199.62 L109.43 199.88 L109.77 200.21 L110.02 200.62 L110.15 201.09 L110.17 201.58 L110.07 202.06 L109.86 202.49 L109.54 202.85 L109.14 203.13 L108.68 203.33 L108.17 203.47 L107.64 203.58 L107.12 203.71 L106.64 203.88 L106.21 204.13 L105.86 204.46 L105.61 204.87 L105.47 205.33 L105.45 205.82 L105.54 206.3 L105.75 206.74 L106.05 207.1 L106.45 207.38 L106.91 207.59 L107.42 207.74 L107.95 207.86 L108.46 208 L108.94 208.18 L109.37 208.43 L109.71 208.77 L109.95 209.18 L110.08 209.65 L110.1 210.14 L110 210.62 L109.78 211.05 L109.47 211.41 L109.06 211.68 L108.6 211.88 L108.09 212.02 L107.56 212.13 L107.04 212.26 L106.56 212.44 L106.13 212.68 L105.79 213.01 L105.54 213.42 L105.4 213.89 L105.38 214.38 L105.47 214.86 L105.68 215.3 L105.99 215.66 L106.39 215.94 L106.85 216.14 L107.36 216.29 L107.89 216.41 L108.4 216.55 L108.88 216.73 L109.3 216.99 L109.64 217.32 L109.88 217.74 L110.01 218.21 L110.03 218.7 L109.92 219.18 L109.71 219.61 L109.39 219.96 L108.99 220.24 L108.52 220.43 L108.01 220.57 L107.48 220.69 L106.96 220.81 L106.48 220.99 L106.06 221.24 L105.71 221.57 L105.47 221.98 L105.33 222.45 L105.31 222.94 L105.41 223.42 L105.62 223.85 L105.93 224.21 L106.33 224.49 L106.79 224.69 L107.3 224.84 L107.83 224.96 L108.34 225.1 L108.82 225.29 L109.24 225.54 L109.58 225.88 L109.82 226.3 L109.95 226.77 L109.96 227.26 L109.85 227.74 L109.63 228.17 L109.31 228.52 L108.91 228.79 L108.44 228.98 L107.93 229.12 L107.4 229.24 L106.88 229.37 L106.4 229.54 L105.98 229.79 L105.64 230.13 L105.39 230.54 L105.26 231.01 L105.24 231.5 L105.34 231.98 L105.55 232.41 L105.86 232.77 L106.27 233.05 L106.73 233.25 L107.24 233.39 L107.77 233.52 L108.28 233.65 L108.76 233.84 L109.18 234.1 L109.51 234.44 L109.75 234.85 L109.88 235.33 L109.89 235.82 L109.78 236.3 L109.56 236.72 L109.24 237.08 L108.83 237.35 L108.36 237.54 L107.85 237.67 L107.32 237.79 L106.8 237.92 L106.32 238.1 L105.9 238.35 L105.56 238.68 L105.32 239.1 L105.19 239.57 L105.17 240.06 L105.27 240.54 L105.49 240.97 L105.8 241.33 L106.2 241.6 L106.67 241.8 L107.18 241.95 L107.71 242.07 L108.22 242.21 L108.7 242.39 L109.12 242.65 L109.45 242.99 L109.68 243.41 L109.81 243.88 L109.81 244.38 L109.7 244.85 L109.48 245.28 L109.16 245.63 L108.75 245.9 L108.28 246.09 L107.77 246.23 L107.24 246.34 L106.72 246.47 L106.24 246.65 L105.82 246.9 L105.49 247.24 L105.24 247.66 L105.11 248.13 L105.1 248.62 L105.2 249.1 L105.42 249.53 L105.74 249.88 L106.14 250.16 L106.61 250.35 L107.12 250.5 L107.65 250.62 L108.16 250.76 L108.64 250.95 L109.05 251.21 L109.38 251.55 L109.62 251.97 L109.74 252.44 L109.74 252.94 L109.63 253.41 L109.41 253.84 L109.08 254.19 L108.67 254.45 L108.2 254.64 L107.69 254.78 L107.16 254.89 L106.64 255.02 L106.17 255.2 L105.75 255.46 L105.41 255.8 L105.17 256.21 L105.04 256.68 L105.03 257.18 L105.14 257.65 L105.36 258.08 L105.68 258.44 L106.08 258.71 L106.55 258.91 L107.06 259.05 L107.59 259.17 L108.1 259.31 L108.58 259.5 L108.99 259.76 L109.32 260.11 L109.55 260.53 L109.67 261 L109.67 261.49 L109.56 261.97 L109.33 262.39 L109 262.74 L108.59 263.01 L108.12 263.2 L107.61 263.33 L107.08 263.44 L106.56 263.58 L106.09 263.76 L105.67 264.01 L105.33 264.35 L105.1 264.77 L104.97 265.24 L104.96 265.74 L105.07 266.21 L105.29 266.64 L105.61 266.99 L106.02 267.26 L106.49 267.46 L107 267.6 L107.53 267.72 L108.04 267.86 L108.51 268.05 L108.93 268.32 L109.26 268.67 L109.48 269.09 L109.6 269.56 L109.6 270.05 L109.48 270.53 L109.26 270.95 L108.93 271.3 L108.52 271.56 L108.04 271.75 L107.53 271.88 L107 272 L106.49 272.13 L106.01 272.31 L105.59 272.57 L105.26 272.91 L105.02 273.33 L104.9 273.8 L104.89 274.3 L105 274.77 L105.23 275.2 L105.55 275.55 L105.96 275.82 L106.43 276.01 L106.94 276.15 L107.47 276.28 L107.98 276.42 L108.45 276.61 L108.86 276.87 L109.19 277.22 L109.42 277.65 L109.53 278.12 L109.53 278.61 L109.41 279.09 L109.18 279.51 L108.85 279.85 L108.44 280.11 L107.96 280.3 L107.45 280.43 L106.92 280.55 L106.41 280.68 L105.93 280.87 L105.52 281.12 L105.18 281.47 L104.95 281.89 L104.83 282.36 L104.82 282.85 L104.94 283.33 L105.16 283.75 L105.49 284.1 L105.9 284.37 L106.37 284.56 L106.88 284.71 L107.41 284.83 L107.92 284.97 L108.39 285.16 L108.8 285.43 L109.13 285.78 L109.35 286.2 L109.46 286.68 L109.46 287.17 L109.34 287.64 L109.11 288.06 L108.77 288.41 L108.36 288.67 L107.88 288.85 L107.37 288.99 L106.84 289.1 L106.33 289.23 L105.85 289.42 L105.44 289.68 L105.11 290.03 L104.88 290.45 L104.76 290.92 L104.75 291.41 L104.87 291.89 L105.1 292.31 L105.42 292.66 L105.83 292.93 L106.31 293.12 L106.82 293.26 L107.35 293.38 L107.86 293.52 L108.33 293.72 L108.74 293.99 L109.06 294.34 L109.28 294.76 L109.39 295.24 L109.39 295.73 L109.26 296.2 L109.03 296.62 L108.7 296.96 L108.28 297.22 L107.8 297.41 L107.29 297.54 L106.76 297.65 L106.25 297.79 L105.77 297.97 L105.36 298.24 L105.03 298.58 L104.8 299 L104.69 299.48 L104.69 299.97 L104.8 300.45 L105.03 300.87 L105.36 301.21 L105.77 301.48 L106.25 301.67 L106.76 301.81 L107.29 301.93 L107.8 302.08 L108.27 302.27 L108.67 302.54 L109 302.89 L109.22 303.32 L109.33 303.8 L109.32 304.29 L109.19 304.76 L108.95 305.18 L108.62 305.52 L108.2 305.78 L107.72 305.96 L107.21 306.09 L106.68 306.2 L106.17 306.34 L105.69 306.53 L105.28 306.79 L104.96 307.14 L104.73 307.56 L104.61 308.04 L104.62 308.53 L104.74 309 L104.97 309.42 L105.3 309.77 L105.71 310.03 L106.19 310.22 L106.7 310.36 L107.22 310.48 L107.74 310.63 L108.21 310.82 L108.61 311.1 L108.93 311.45 L109.15 311.88 L109.26 312.36 L109.25 312.85 L109.12 313.32 L108.88 313.74 L108.54 314.07 L108.12 314.33 L107.64 314.51 L107.13 314.64 L106.6 314.76 L106.09 314.89 L105.62 315.08 L105.21 315.35 L104.88 315.7 L104.66 316.12 L104.54 316.6 L104.55 317.09 L104.67 317.56 L104.9 317.98 L105.23 318.33 L105.65 318.59 L106.13 318.78 L106.64 318.91 L107.16 319.04 L107.67 319.18 L108.14 319.38 L108.55 319.65 L108.87 320.01 L109.08 320.44 L109.19 320.91 L109.17 321.41 L109.04 321.88 L108.8 322.29 L108.46 322.63 L108.05 322.88 L107.57 323.06 L107.05 323.19 L106.52 323.31 L106.01 323.44 L105.54 323.63 L105.13 323.9 L104.81 324.25 L104.58 324.68 L104.47 325.16 L104.48 325.65 L104.6 326.12 L104.84 326.54 L105.17 326.88 L105.59 327.14 L106.06 327.33 L106.58 327.47 L107.1 327.59 L107.61 327.73 L108.08 327.93 L108.48 328.21 L108.8 328.57 L109.02 329 L109.12 329.47 L109.1 329.97 L108.97 330.44 L108.73 330.85 L108.39 331.19 L107.97 331.44 L107.49 331.62 L106.97 331.75 L106.44 331.86 L105.93 332 L105.46 332.19 L105.05 332.46 L104.73 332.81 L104.51 333.24 L104.4 333.71 L104.41 334.21 L104.54 334.68 L104.77 335.1 L105.11 335.44 L105.53 335.69 L106 335.88 L106.52 336.02 L107.04 336.14 L107.55 336.29 L108.02 336.49 L108.42 336.76 L108.74 337.12 L108.95 337.55 L109.05 338.03 L109.03 338.52 L108.9 338.99 L108.65 339.41 L108.31 339.74 L107.89 339.99 L107.41 340.17 L106.89 340.3 L106.36 340.41 L105.85 340.55 L105.38 340.74 L104.98 341.01 L104.66 341.37 L104.44 341.8 L104.33 342.27 L104.34 342.77 L104.47 343.24 L104.71 343.65 L105.04 343.99 L105.46 344.25 L105.94 344.43 L106.46 344.57 L106.98 344.69 L107.49 344.84 L107.96 345.04 L108.36 345.32 L108.67 345.68 L108.88 346.11 L108.98 346.59 L108.96 347.08 L108.82 347.55 L108.58 347.96 L108.23 348.3 L107.81 348.55 L107.33 348.72 L106.81 348.85 L106.28 348.96 L105.77 349.1 L105.3 349.3 L104.9 349.57 L104.58 349.93 L104.36 350.35 L104.26 350.83 L104.27 351.33 L104.4 351.79 L104.64 352.21 L104.98 352.55 L105.4 352.8 L105.88 352.99 L106.4 353.12 L106.92 353.25 L107.43 353.39 L107.9 353.6 L108.29 353.88 L108.61 354.24 L108.81 354.67 L108.91 355.15 L108.89 355.64 L108.75 356.11 L108.5 356.52 L108.16 356.85 L107.73 357.1 L107.25 357.27 L106.73 357.4 L106.2 357.52 L105.69 357.65 L105.22 357.85 L104.82 358.12 L104.51 358.48 L104.29 358.91 L104.19 359.39 L104.2 359.88 L104.34 360.35 L104.58 360.77 L104.92 361.1 L105.34 361.36 L105.82 361.54 L106.34 361.67 L106.86 361.8 L107.37 361.95 L107.83 362.15 L108.23 362.43 L108.54 362.79 L108.75 363.23 L108.84 363.71 L108.82 364.2 L108.68 364.67 L108.43 365.08 L108.08 365.41 L107.65 365.65 L107.17 365.83 L106.65 365.95 L106.12 366.07 L105.61 366.21 L105.15 366.4 L104.75 366.68 L104.43 367.04 L104.22 367.47 L104.12 367.95 L104.14 368.44 L104.27 368.91 L104.51 369.32 L104.86 369.66 L105.28 369.91 L105.76 370.09 L106.28 370.23 L106.8 370.35 L107.31 370.5 L107.77 370.7 L108.17 370.99 L108.48 371.35 L108.68 371.79 L108.77 372.27 L108.74 372.76 L108.6 373.23 L108.35 373.63 L108 373.96 L107.57 374.21 L107.09 374.38 L106.57 374.5 L106.04 374.62 L105.53 374.76 L105.07 374.96 L104.67 375.24 L104.36 375.6 L104.15 376.03 L104.05 376.51 L104.07 377 L104.2 377.47 L104.45 377.88 L104.79 378.21 L105.22 378.46 L105.7 378.64 L106.22 378.78 L106.74 378.9 L107.25 379.05 L107.71 379.26 L108.1 379.54 L108.41 379.91 L108.61 380.35 L108.7 380.83 L108.67 381.32 L108.53 381.78 L108.27 382.19 L107.92 382.52 L107.49 382.76 L107.01 382.93 L106.49 383.06 L105.96 383.17 L105.45 383.31 L104.99 383.51 L104.59 383.79 L104.28 384.15 L104.07 384.59 L103.98 385.07 L104 385.56 L104.14 386.03 L104.39 386.44 L104.73 386.77 L105.16 387.02 L105.64 387.2 L106.16 387.33 L106.68 387.45 L107.19 387.6 L107.65 387.81 L108.04 388.1 L108.35 388.47 L108.55 388.9 L108.63 389.39 L108.6 389.88 L108.45 390.34 L108.2 390.75 L107.85 391.07 L107.42 391.31 L106.93 391.48 L106.41 391.61 L105.88 391.72 L105.37 391.87 L104.91 392.07 L104.51 392.35 L104.21 392.71 L104 393.15 L103.91 393.63 L103.93 394.12 L104.07 394.59 L104.32 394.99 L104.67 395.32 L105.1 395.57 L105.58 395.75 L106.1 395.88 L106.62 396.01 L107.13 396.16 L107.59 396.37 L107.98 396.65 L108.28 397.02 L108.48 397.46 L108.56 397.95 L108.53 398.44 L108.38 398.9 L108.12 399.3 L107.77 399.63 L107.34 399.87 L106.85 400.04 L106.33 400.16 L105.8 400.28 L105.3 400.42 L104.83 400.62 L104.44 400.9 L104.13 401.27 L103.93 401.71 L103.84 402.19 L103.86 402.68 L104 403.14 L104.26 403.55 L104.61 403.88 L105.03 404.12 L105.52 404.3 L106.04 404.43 L106.56 404.56 L107.07 404.71 L107.52 404.92 L107.91 405.21 L108.21 405.58 L108.41 406.02 L108.49 406.5 L108.46 407 L108.31 407.46 L108.05 407.86 L107.69 408.18 L107.26 408.42 L106.77 408.59 L106.25 408.71 L105.72 408.83 L105.22 408.97 L104.75 409.18 L104.36 409.46 L104.06 409.83 L103.85 410.26 L103.76 410.75 L103.79 411.24 L103.94 411.7 L104.19 412.11 L104.54 412.43 L104.97 412.68 L105.46 412.85 L105.98 412.99 L106.5 413.11 L107.01 413.26 L107.46 413.48 L107.85 413.77 L108.15 414.14 L108.34 414.58 L108.42 415.06 L108.39 415.55 L108.23 416.02 L107.97 416.42 L107.61 416.74 L107.18 416.97 L106.69 417.14 L106.17 417.26 L105.64 417.38 L105.14 417.52 L104.68 417.73 L104.28 418.02 L103.98 418.38 L103.78 418.82 L103.69 419.3 L103.72 419.8 L103.87 420.26 L104.13 420.66 L104.48 420.99 L104.91 421.23 L105.4 421.41 L105.92 421.54 L106.44 421.66 L106.94 421.82 L107.4 422.03 L107.79 422.32 L108.08 422.7 L108.28 423.14 L108.35 423.62 L108.31 424.11 L108.16 424.57 L107.89 424.97 L107.54 425.29 L107.1 425.53 L106.61 425.69 L106.09 425.82 L105.56 425.93 L105.06 426.08 L104.6 426.28 L104.21 426.57 L103.91 426.94 L103.71 427.38 L103.62 427.86 L103.66 428.35 L103.81 428.82 L104.06 429.22 L104.42 429.54 L104.85 429.79 L105.34 429.96 L105.86 430.09 L106.38 430.22 L106.88 430.37 L107.34 430.58 L107.72 430.88 L108.02 431.25 L108.21 431.7 L108.28 432.18 L108.24 432.67 L108.08 433.13 L107.82 433.53 L107.46 433.85 L107.02 434.08 L106.53 434.25 L106.01 434.37 L105.48 434.48 L104.98 434.63 L104.52 434.84 L104.13 435.13 L103.83 435.5 L103.64 435.94 L103.55 436.42 L103.59 436.91 L103.74 437.37 L104 437.78 L104.35 438.1 L104.79 438.34 L105.28 438.51 L105.8 438.64 L106.32 438.77 L106.82 438.92 L107.28 439.14 L107.66 439.43 L107.95 439.81 L108.14 440.26 L108.21 440.74 L108.17 441.23 L108.01 441.69 L107.74 442.09 L107.38 442.4 L106.94 442.63 L106.45 442.8 L105.93 442.92 L105.4 443.04 L104.9 443.18 L104.44 443.39 L104.06 443.68 L103.76 444.06 L103.56 444.5 L103.48 444.98 L103.52 445.47 L103.67 445.93 L103.94 446.33 L104.29 446.65 L104.73 446.89 L105.22 447.06 L105.74 447.19 L106.26 447.32 L106.76 447.48 L107.21 447.69 L107.6 447.99 L107.89 448.37 L108.07 448.81 L108.14 449.3 L108.1 449.79 L107.94 450.25 L107.67 450.64 L107.3 450.96 L106.86 451.19 L106.37 451.35 L105.85 451.47 L105.32 451.59 L104.82 451.74 L104.36 451.95 L103.98 452.24 L103.68 452.61 L103.49 453.06 L103.41 453.54 L103.45 454.03 L103.61 454.49 L103.87 454.89 L104.23 455.21 L104.67 455.45 L105.16 455.62 L105.68 455.75 L106.2 455.87 L106.7 456.03 L107.15 456.25 L107.53 456.55 L107.82 456.93 L108.01 457.37 L108.07 457.86 L108.03 458.35 L107.86 458.8 L107.59 459.2 L107.23 459.51 L106.79 459.74 L106.29 459.9 L105.77 460.02 L105.24 460.14 L104.74 460.29 L104.29 460.5 L103.9 460.79 L103.61 461.17 L103.42 461.61 L103.34 462.1 L103.38 462.59 L103.54 463.05 L103.81 463.45 L104.17 463.76 L104.6 464 L105.1 464.17 L105.62 464.3 L106.14 464.42 L106.64 464.58 L107.09 464.8 L107.47 465.1 L107.76 465.48 L107.94 465.93 L108 466.42 L107.95 466.91 L107.79 467.36 L107.51 467.75 L107.15 468.07 L106.71 468.29 L106.21 468.45 L105.69 468.58 L105.16 468.69 L104.66 468.84 L104.21 469.06 L103.83 469.35 L103.53 469.73 L103.34 470.17 L103.27 470.66 L103.32 471.15 L103.48 471.61 L103.74 472 L104.1 472.32 L104.54 472.55 L105.04 472.72 L105.56 472.85 L106.08 472.98 L106.58 473.14 L107.03 473.36 L107.41 473.66 L107.69 474.04 L107.87 474.49 L107.93 474.98 L107.88 475.47 L107.71 475.92 L107.44 476.31 L107.07 476.62 L106.63 476.85 L106.13 477.01 L105.61 477.13 L105.08 477.24 L104.58 477.4 L104.13 477.61 L103.75 477.91 L103.46 478.29 L103.27 478.73 L103.2 479.22 L103.25 479.71 L103.41 480.16 L103.68 480.56 L104.04 480.87 L104.48 481.11 L104.97 481.27 L105.5 481.4 L106.02 481.53 L106.52 481.69 L106.97 481.91 L107.34 482.21 L107.62 482.6 L107.8 483.05 L107.86 483.54 L107.81 484.02 L107.64 484.48 L107.36 484.87 L106.99 485.17 L106.55 485.4 L106.05 485.56 L105.53 485.68 L105 485.8 L104.5 485.95 L104.05 486.17 L103.67 486.46 L103.38 486.84 L103.2 487.29 L103.13 487.78 L103.18 488.27 L103.34 488.72 L103.61 489.11 L103.98 489.43 L104.42 489.66 L104.91 489.83 L105.44 489.95 L105.96 490.08 L106.46 490.24 L106.9 490.47 L107.28 490.77 L107.56 491.16 L107.73 491.61 L107.79 492.09 L107.74 492.58 L107.56 493.04 L107.29 493.42 L106.91 493.73 L106.47 493.95 L105.97 494.11 L105.45 494.23 L104.92 494.35 L104.42 494.5 L103.97 494.72 L103.6 495.02 L103.31 495.4 L103.13 495.85 L103.06 496.34 L103.11 496.82 L103.28 497.28 L103.55 497.67 L103.92 497.98 L104.36 498.21 L104.85 498.38 L105.38 498.51 L105.9 498.63 L106.4 498.8 L106.84 499.02 L107.21 499.33 L107.49 499.71 L107.67 500.17 L107.72 500.65 L107.67 501.14 L107.49 501.59 L107.21 501.98 L106.84 502.28 L106.39 502.51 L105.89 502.66 L105.37 502.78 L104.84 502.9 L104.35 503.06 L103.9 503.27 L103.52 503.58 L103.23 503.96 L103.06 504.41 L102.99 504.89 L103.04 505.38 L103.21 505.84 L103.49 506.23 L103.86 506.54 L104.3 506.77 L104.79 506.93 L105.32 507.06 L105.84 507.19 L106.33 507.35 L106.78 507.58 L107.15 507.88 L107.43 508.27 L107.6 508.72 L107.65 509.21 L107.59 509.7 L105.27 514" stroke="#000" fill="none" stroke-width="1.1" stroke-linejoin="round"/>
<path d="M105.2 522 L101.79 510.47 L105.27 512.9 L108.79 510.53 Z" stroke="none" fill="#000" stroke-width="1.2" />
<text x="115.5" y="233" font-family='"Liberation Sans", Arial, sans-serif' font-size="15" fill="#0c0c0c" >F</text>
<line x1="123" y1="52.5" x2="187.81" y2="148.71" stroke="#000" stroke-width="1.45" stroke-dasharray="3 3.3"/>
<path d="M193.4 157 L182.65 148.57 L187.7 148.54 L189.62 143.87 Z" stroke="none" fill="#000" stroke-width="1.2" />
<text x="129" y="130" font-family='"Liberation Sans", Arial, sans-serif' font-size="16" fill="#0c0c0c" >ISC</text>
<line x1="186.3" y1="164.5" x2="249.3" y2="164.5" stroke="#1414f0" stroke-width="4" />
<text x="200" y="155.5" font-family='"Liberation Sans", Arial, sans-serif' font-size="15.7" fill="#0c0c0c" >T<tspan font-size="10.4" dy="-6.3">1*</tspan></text>
<text x="220.8" y="156.8" font-family='"Liberation Sans", Arial, sans-serif' font-size="13.8" fill="#0c0c0c" textLength="46.7" lengthAdjust="spacingAndGlyphs" >3.94 eV</text>
<line x1="204.8" y1="214.3" x2="267.5" y2="214.3" stroke="#8a0a4a" stroke-width="4" />
<text x="200" y="205.8" font-family='"Liberation Sans", Arial, sans-serif' font-size="15.7" fill="#0c0c0c" >T<tspan font-size="10.4" dy="-6.3">1</tspan></text>
<text x="243.2" y="208" font-family='"Liberation Sans", Arial, sans-serif' font-size="13.8" fill="#0c0c0c" textLength="46.7" lengthAdjust="spacingAndGlyphs" >3.30 eV</text>
<line x1="224.5" y1="166.5" x2="224.5" y2="201.3" stroke="#1414f0" stroke-width="1.4" stroke-dasharray="2.6 3"/>
<path d="M224.5 212.5 L220.3 199.3 L224.5 202.3 L228.7 199.3 Z" stroke="none" fill="#1414f0" stroke-width="1.2" />
<text x="233" y="188.8" font-family='"Liberation Sans", Arial, sans-serif' font-size="15" fill="#0c0c0c" >SR</text>
<path d="M195 170 L194.46 170.02 L193.94 170.09 L193.46 170.22 L193.04 170.45 L192.69 170.78 L192.43 171.2 L192.28 171.66 L192.25 172.16 L192.33 172.64 L192.53 173.07 L192.84 173.44 L193.24 173.75 L193.69 174 L194.18 174.22 L194.67 174.45 L195.13 174.7 L195.52 175.01 L195.83 175.38 L196.03 175.82 L196.11 176.3 L196.07 176.79 L195.92 177.26 L195.66 177.67 L195.31 177.99 L194.89 178.22 L194.41 178.36 L193.89 178.42 L193.35 178.44 L192.81 178.47 L192.29 178.53 L191.81 178.67 L191.39 178.9 L191.04 179.23 L190.79 179.65 L190.64 180.12 L190.61 180.61 L190.7 181.09 L190.9 181.52 L191.21 181.89 L191.61 182.2 L192.06 182.45 L192.55 182.67 L193.04 182.89 L193.5 183.15 L193.89 183.46 L194.2 183.83 L194.39 184.27 L194.47 184.75 L194.43 185.24 L194.28 185.71 L194.02 186.12 L193.66 186.44 L193.24 186.67 L192.75 186.8 L192.23 186.86 L191.7 186.88 L191.16 186.91 L190.64 186.97 L190.16 187.12 L189.74 187.35 L189.4 187.68 L189.14 188.1 L189 188.57 L188.97 189.06 L189.06 189.54 L189.26 189.97 L189.58 190.34 L189.97 190.64 L190.43 190.89 L190.92 191.12 L191.41 191.34 L191.87 191.6 L192.26 191.91 L192.56 192.28 L192.75 192.72 L192.83 193.2 L192.79 193.69 L192.63 194.16 L192.37 194.57 L192.01 194.89 L191.59 195.11 L191.1 195.25 L190.58 195.31 L190.04 195.33 L189.51 195.35 L188.99 195.42 L188.51 195.56 L188.09 195.8 L187.75 196.13 L187.5 196.55 L187.36 197.02 L187.33 197.51 L187.42 197.99 L187.63 198.42 L187.94 198.79 L188.34 199.09 L188.8 199.34 L189.29 199.56 L189.78 199.79 L190.24 200.04 L190.62 200.36 L190.92 200.73 L191.12 201.17 L191.19 201.65 L191.15 202.14 L190.99 202.61 L190.72 203.02 L190.37 203.34 L189.94 203.56 L189.45 203.69 L188.93 203.75 L188.39 203.77 L187.86 203.79 L187.34 203.86 L186.86 204.01 L186.44 204.25 L186.1 204.58 L185.85 205 L185.71 205.47 L185.69 205.97 L185.78 206.44 L185.99 206.87 L186.31 207.24 L186.71 207.54 L187.17 207.79 L187.66 208.01 L188.15 208.23 L188.6 208.49 L188.99 208.8 L189.29 209.18 L189.48 209.62 L189.55 210.1 L189.5 210.6 L189.34 211.06 L189.07 211.47 L188.72 211.78 L188.29 212.01 L187.8 212.13 L187.28 212.19 L186.74 212.21 L186.2 212.24 L185.69 212.31 L185.21 212.45 L184.8 212.69 L184.46 213.03 L184.21 213.45 L184.07 213.93 L184.05 214.42 L184.15 214.89 L184.36 215.32 L184.68 215.69 L185.08 215.99 L185.54 216.24 L186.03 216.46 L186.52 216.68 L186.97 216.94 L187.36 217.25 L187.65 217.63 L187.84 218.08 L187.91 218.56 L187.86 219.05 L187.7 219.51 L187.43 219.92 L187.07 220.23 L186.64 220.45 L186.15 220.58 L185.63 220.63 L185.09 220.65 L184.55 220.68 L184.04 220.75 L183.56 220.9 L183.15 221.14 L182.81 221.48 L182.56 221.9 L182.43 222.38 L182.41 222.87 L182.51 223.34 L182.72 223.77 L183.04 224.14 L183.45 224.43 L183.91 224.68 L184.4 224.9 L184.89 225.13 L185.34 225.39 L185.72 225.7 L186.02 226.08 L186.2 226.53 L186.27 227.01 L186.22 227.5 L186.05 227.96 L185.78 228.37 L185.42 228.68 L184.99 228.9 L184.5 229.02 L183.98 229.08 L183.44 229.1 L182.9 229.12 L182.39 229.2 L181.91 229.35 L181.5 229.59 L181.16 229.93 L180.92 230.36 L180.79 230.83 L180.77 231.32 L180.87 231.8 L181.09 232.22 L181.41 232.58 L181.82 232.88 L182.28 233.13 L182.77 233.35 L183.26 233.57 L183.71 233.84 L184.09 234.15 L184.38 234.54 L184.57 234.98 L184.63 235.46 L184.58 235.95 L184.41 236.42 L184.13 236.82 L183.77 237.13 L183.34 237.34 L182.85 237.47 L182.32 237.52 L181.78 237.54 L181.25 237.57 L180.74 237.64 L180.26 237.79 L179.85 238.04 L179.52 238.38 L179.28 238.81 L179.14 239.28 L179.13 239.78 L179.23 240.25 L179.45 240.67 L179.78 241.03 L180.19 241.33 L180.65 241.58 L181.14 241.8 L181.63 242.02 L182.08 242.28 L182.46 242.6 L182.75 242.99 L182.93 243.43 L182.99 243.91 L182.93 244.4 L182.76 244.87 L182.49 245.26 L182.12 245.58 L181.69 245.79 L181.2 245.91 L180.67 245.96 L180.13 245.98 L179.6 246.01 L179.08 246.08 L178.61 246.24 L178.2 246.49 L177.87 246.83 L177.63 247.26 L177.5 247.74 L177.49 248.23 L177.6 248.7 L177.82 249.12 L178.14 249.48 L178.55 249.78 L179.02 250.02 L179.51 250.24 L180 250.47 L180.45 250.73 L180.82 251.05 L181.11 251.44 L181.29 251.88 L181.35 252.37 L181.29 252.86 L181.12 253.32 L180.84 253.71 L180.47 254.02 L180.03 254.23 L179.54 254.35 L179.02 254.4 L178.48 254.42 L177.95 254.45 L177.43 254.53 L176.96 254.68 L176.55 254.94 L176.22 255.28 L175.99 255.71 L175.86 256.19 L175.85 256.68 L175.96 257.15 L176.18 257.57 L176.51 257.93 L176.92 258.23 L177.39 258.47 L177.88 258.69 L178.37 258.92 L178.81 259.18 L179.19 259.5 L179.48 259.89 L179.65 260.33 L179.71 260.82 L179.65 261.31 L179.47 261.77 L179.19 262.16 L178.82 262.47 L178.38 262.68 L177.89 262.8 L177.37 262.85 L176.83 262.87 L176.29 262.9 L175.78 262.97 L175.31 263.13 L174.91 263.38 L174.58 263.73 L174.34 264.16 L174.22 264.64 L174.21 265.13 L174.32 265.6 L174.55 266.02 L174.88 266.38 L175.29 266.67 L175.76 266.92 L176.25 267.14 L176.74 267.36 L177.18 267.63 L177.56 267.95 L177.84 268.34 L178.01 268.79 L178.07 269.27 L178 269.76 L177.82 270.22 L177.54 270.61 L177.17 270.92 L176.73 271.12 L176.24 271.24 L175.72 271.29 L175.18 271.31 L174.64 271.34 L174.13 271.42 L173.66 271.58 L173.26 271.83 L172.93 272.18 L172.7 272.61 L172.58 273.09 L172.57 273.58 L172.69 274.05 L172.91 274.47 L173.25 274.83 L173.66 275.12 L174.13 275.36 L174.62 275.58 L175.11 275.81 L175.55 276.08 L175.92 276.4 L176.2 276.79 L176.37 277.24 L176.43 277.72 L176.36 278.21 L176.18 278.67 L175.9 279.06 L175.52 279.36 L175.08 279.57 L174.59 279.68 L174.07 279.73 L173.53 279.75 L172.99 279.78 L172.48 279.86 L172.01 280.02 L171.61 280.28 L171.28 280.63 L171.05 281.07 L170.93 281.54 L170.93 282.04 L171.05 282.51 L171.28 282.92 L171.61 283.28 L172.03 283.57 L172.5 283.81 L172.99 284.03 L173.48 284.26 L173.92 284.52 L174.29 284.85 L174.57 285.24 L174.74 285.69 L174.79 286.18 L174.72 286.67 L174.53 287.12 L174.25 287.51 L173.88 287.81 L173.43 288.01 L172.94 288.13 L172.41 288.18 L171.87 288.19 L171.34 288.22 L170.83 288.31 L170.36 288.47 L169.96 288.73 L169.64 289.08 L169.41 289.52 L169.29 290 L169.29 290.49 L169.41 290.96 L169.65 291.37 L169.98 291.73 L170.4 292.02 L170.87 292.26 L171.36 292.48 L171.84 292.7 L172.29 292.97 L172.66 293.3 L172.93 293.69 L173.1 294.14 L173.15 294.63 L173.07 295.12 L172.89 295.57 L172.6 295.96 L172.23 296.26 L171.78 296.46 L171.29 296.57 L170.76 296.62 L170.22 296.64 L169.69 296.67 L169.18 296.75 L168.71 296.92 L168.31 297.18 L167.99 297.53 L167.77 297.97 L167.65 298.45 L167.65 298.94 L167.77 299.41 L168.01 299.82 L168.35 300.18 L168.77 300.46 L169.24 300.7 L169.73 300.92 L170.21 301.15 L170.65 301.42 L171.02 301.75 L171.3 302.14 L171.46 302.59 L171.5 303.08 L171.43 303.57 L171.24 304.02 L170.95 304.41 L170.58 304.71 L170.13 304.91 L169.64 305.01 L169.11 305.06 L168.57 305.08 L168.04 305.11 L167.53 305.2 L167.06 305.36 L166.66 305.63 L166.34 305.99 L166.12 306.42 L166.01 306.9 L166.01 307.39 L166.14 307.86 L166.38 308.27 L166.72 308.62 L167.14 308.91 L167.61 309.15 L168.1 309.37 L168.58 309.6 L169.02 309.87 L169.39 310.2 L169.66 310.59 L169.82 311.05 L169.86 311.53 L169.79 312.02 L169.6 312.47 L169.31 312.86 L168.93 313.15 L168.48 313.35 L167.99 313.46 L167.46 313.5 L166.92 313.52 L166.39 313.55 L165.88 313.64 L165.41 313.81 L165.02 314.08 L164.7 314.44 L164.48 314.87 L164.37 315.35 L164.37 315.84 L164.5 316.31 L164.74 316.72 L165.08 317.07 L165.5 317.36 L165.98 317.6 L166.47 317.82 L166.95 318.05 L167.39 318.32 L167.75 318.65 L168.02 319.04 L168.18 319.5 L168.22 319.99 L168.14 320.47 L167.95 320.93 L167.66 321.31 L167.28 321.6 L166.83 321.8 L166.33 321.9 L165.81 321.95 L165.27 321.96 L164.73 322 L164.23 322.08 L163.77 322.26 L163.37 322.52 L163.05 322.89 L162.83 323.32 L162.72 323.81 L162.73 324.3 L162.86 324.76 L163.11 325.17 L163.45 325.52 L163.87 325.81 L164.35 326.04 L164.84 326.26 L165.32 326.49 L165.76 326.77 L166.12 327.1 L166.39 327.5 L166.54 327.95 L166.58 328.44 L166.5 328.93 L166.31 329.38 L166.01 329.76 L165.63 330.05 L165.18 330.24 L164.68 330.35 L164.15 330.39 L163.61 330.41 L163.08 330.44 L162.58 330.53 L162.12 330.7 L161.72 330.97 L161.41 331.34 L161.19 331.78 L161.08 332.26 L161.1 332.75 L161.23 333.21 L161.47 333.62 L161.82 333.97 L162.24 334.25 L162.72 334.49 L163.21 334.71 L163.69 334.94 L164.13 335.21 L164.49 335.55 L164.75 335.95 L164.91 336.4 L164.94 336.89 L164.86 337.38 L164.66 337.83 L164.36 338.21 L163.98 338.5 L163.53 338.69 L163.03 338.79 L162.5 338.83 L161.96 338.85 L161.43 338.88 L160.93 338.97 L160.47 339.15 L160.07 339.42 L159.76 339.79 L159.54 340.23 L159.44 340.71 L159.46 341.2 L159.59 341.66 L159.84 342.07 L160.19 342.42 L160.61 342.7 L161.09 342.94 L161.58 343.16 L162.06 343.39 L162.49 343.66 L162.85 344 L163.12 344.4 L163.27 344.85 L163.3 345.34 L163.21 345.83 L163.01 346.28 L162.71 346.66 L162.33 346.94 L161.88 347.13 L161.38 347.23 L160.85 347.27 L160.31 347.29 L159.78 347.33 L159.27 347.42 L158.82 347.6 L158.42 347.87 L158.11 348.24 L157.9 348.68 L157.8 349.16 L157.82 349.65 L157.95 350.12 L158.2 350.52 L158.55 350.87 L158.98 351.15 L159.46 351.38 L159.95 351.6 L160.43 351.84 L160.86 352.11 L161.22 352.45 L161.48 352.85 L161.63 353.31 L161.66 353.8 L161.57 354.28 L161.37 354.73 L161.07 355.11 L160.68 355.39 L160.23 355.58 L159.73 355.68 L159.2 355.72 L158.66 355.73 L158.13 355.77 L157.62 355.86 L157.17 356.04 L156.78 356.32 L156.47 356.69 L156.26 357.13 L156.16 357.62 L156.18 358.11 L156.32 358.57 L156.57 358.97 L156.92 359.32 L157.35 359.6 L157.82 359.83 L158.32 360.05 L158.8 360.28 L159.23 360.56 L159.58 360.9 L159.84 361.3 L159.99 361.76 L160.02 362.25 L159.93 362.73 L159.72 363.18 L159.42 363.55 L159.03 363.84 L158.58 364.02 L158.08 364.12 L157.55 364.16 L157.01 364.18 L156.48 364.21 L155.97 364.31 L155.52 364.49 L155.13 364.77 L154.82 365.14 L154.61 365.58 L154.52 366.07 L154.54 366.56 L154.68 367.02 L154.94 367.42 L155.29 367.76 L155.72 368.04 L156.19 368.28 L156.69 368.5 L157.17 368.73 L157.6 369.01 L157.95 369.35 L158.21 369.75 L158.35 370.21 L158.38 370.7 L158.28 371.19 L158.08 371.63 L157.77 372 L157.38 372.28 L156.93 372.47 L156.43 372.56 L155.9 372.6 L155.36 372.62 L154.82 372.66 L154.32 372.75 L153.87 372.94 L153.48 373.22 L153.17 373.59 L152.97 374.03 L152.88 374.52 L152.9 375.01 L153.05 375.47 L153.3 375.87 L153.66 376.21 L154.09 376.49 L154.56 376.72 L155.06 376.94 L155.54 377.18 L155.96 377.46 L156.32 377.8 L156.57 378.2 L156.71 378.66 L156.73 379.15 L156.64 379.64 L156.43 380.08 L156.12 380.45 L155.73 380.73 L155.28 380.91 L154.77 381.01 L154.24 381.04 L153.7 381.06 L153.17 381.1 L152.67 381.2 L152.22 381.38 L151.83 381.67 L151.53 382.04 L151.33 382.49 L151.23 382.97 L151.26 383.46 L151.41 383.92 L151.67 384.32 L152.02 384.66 L152.46 384.94 L152.93 385.17 L153.43 385.39 L153.9 385.62 L154.33 385.9 L154.68 386.25 L154.93 386.65 L155.07 387.11 L155.09 387.6 L154.99 388.09 L154.78 388.53 L154.48 388.9 L154.08 389.18 L153.63 389.36 L153.12 389.45 L152.59 389.49 L152.05 389.5 L151.52 389.54 L151.02 389.64 L150.57 389.83 L150.18 390.11 L149.88 390.49 L149.68 390.94 L149.59 391.43 L149.62 391.91 L149.77 392.37 L150.03 392.77 L150.39 393.11 L150.82 393.38 L151.3 393.62 L151.8 393.84 L152.27 394.07 L152.7 394.35 L153.05 394.7 L153.3 395.1 L153.43 395.57 L153.45 396.06 L153.35 396.54 L153.14 396.98 L152.83 397.35 L152.43 397.62 L151.98 397.8 L151.47 397.89 L150.94 397.93 L150.4 397.95 L149.87 397.99 L149.37 398.09 L148.92 398.28 L148.54 398.56 L148.24 398.94 L148.04 399.39 L147.95 399.88 L147.98 400.37 L148.14 400.82 L148.4 401.22 L148.76 401.56 L149.19 401.83 L149.67 402.06 L150.17 402.28 L150.64 402.52 L151.07 402.8 L151.41 403.15 L151.66 403.56 L151.79 404.02 L151.81 404.51 L151.71 404.99 L151.49 405.43 L151.18 405.8 L150.78 406.07 L150.32 406.24 L149.82 406.34 L149.29 406.37 L148.75 406.39 L148.22 406.43 L147.72 406.53 L147.27 406.72 L146.89 407.01 L146.59 407.39 L146.39 407.84 L146.31 408.33 L146.35 408.82 L146.5 409.27 L146.77 409.67 L147.13 410.01 L147.56 410.28 L148.04 410.51 L148.54 410.73 L149.01 410.97 L149.43 411.25 L149.78 411.6 L150.02 412.01 L150.16 412.47 L150.17 412.96 L150.06 413.44 L149.85 413.88 L149.53 414.25 L149.13 414.52 L148.67 414.69 L148.17 414.78 L147.64 414.81 L147.1 414.83 L146.57 414.87 L146.07 414.98 L145.62 415.17 L145.24 415.46 L144.95 415.84 L144.75 416.29 L144.67 416.78 L144.71 417.27 L144.86 417.72 L145.13 418.12 L145.5 418.45 L145.93 418.73 L146.41 418.96 L146.91 419.18 L147.38 419.41 L147.8 419.7 L148.14 420.05 L148.39 420.46 L148.52 420.92 L148.53 421.41 L148.42 421.9 L148.2 422.33 L147.88 422.7 L147.49 422.96 L147.02 423.13 L146.52 423.22 L145.98 423.26 L145.44 423.27 L144.92 423.32 L144.42 423.42 L143.97 423.62 L143.59 423.91 L143.3 424.29 L143.11 424.75 L143.03 425.23 L143.07 425.72 L143.23 426.18 L143.5 426.57 L143.86 426.9 L144.3 427.17 L144.78 427.4 L145.28 427.62 L145.75 427.86 L146.17 428.15 L146.51 428.5 L146.75 428.91 L146.88 429.38 L146.88 429.87 L146.77 430.35 L146.55 430.78 L146.24 431.14 L145.84 431.41 L145.37 431.58 L144.87 431.67 L144.33 431.7 L143.79 431.72 L143.27 431.76 L142.77 431.87 L142.32 432.07 L141.95 432.36 L141.65 432.75 L141.46 433.2 L141.39 433.69 L141.43 434.17 L141.59 434.63 L141.86 435.02 L142.23 435.35 L142.67 435.62 L143.15 435.85 L143.65 436.07 L144.12 436.31 L144.54 436.6 L144.88 436.95 L145.11 437.36 L145.24 437.83 L145.24 438.32 L145.13 438.8 L144.91 439.23 L144.59 439.59 L144.19 439.86 L143.72 440.02 L143.21 440.11 L142.68 440.14 L142.14 440.16 L141.61 440.2 L141.12 440.31 L140.67 440.51 L140.3 440.81 L140.01 441.2 L139.82 441.65 L139.75 442.14 L139.79 442.63 L139.96 443.08 L140.23 443.47 L140.6 443.8 L141.04 444.07 L141.52 444.3 L142.02 444.52 L142.49 444.76 L142.9 445.04 L143.24 445.4 L143.48 445.81 L143.6 446.28 L143.6 446.77 L143.49 447.25 L143.26 447.69 L142.94 448.04 L142.54 448.3 L142.07 448.47 L141.56 448.55 L141.03 448.58 L140.49 448.6 L139.96 448.65 L139.47 448.76 L139.02 448.96 L138.65 449.26 L138.36 449.65 L138.18 450.1 L138.11 450.59 L138.15 451.08 L138.32 451.53 L138.6 451.92 L138.97 452.25 L139.41 452.52 L139.89 452.74 L140.38 452.96 L140.85 453.2 L141.27 453.49 L141.61 453.85 L141.84 454.26 L141.96 454.73 L141.96 455.22 L141.84 455.7 L141.61 456.14 L141.29 456.49 L140.89 456.75 L140.42 456.91 L139.91 456.99 L139.38 457.03 L138.84 457.04 L138.31 457.09 L137.82 457.2 L137.37 457.41 L137 457.71 L136.72 458.1 L136.53 458.55 L136.47 459.04 L136.52 459.53 L136.68 459.98 L136.96 460.37 L137.33 460.7 L137.78 460.96 L138.26 461.19 L138.75 461.41 L139.22 461.65 L139.64 461.94 L139.97 462.3 L140.2 462.71 L140.32 463.18 L140.32 463.68 L140.2 464.15 L139.97 464.59 L139.64 464.94 L139.24 465.2 L138.77 465.36 L138.26 465.44 L137.72 465.47 L137.19 465.49 L136.66 465.54 L136.17 465.65 L135.73 465.85 L135.35 466.16 L135.07 466.55 L134.89 467.01 L134.82 467.5 L134.88 467.98 L135.05 468.43 L135.33 468.82 L135.7 469.14 L136.15 469.41 L136.63 469.64 L137.12 469.86 L137.59 470.1 L138.01 470.39 L138.34 470.75 L138.57 471.17 L138.68 471.64 L138.68 472.13 L138.55 472.61 L138.32 473.04 L137.99 473.39 L137.59 473.64 L137.12 473.8 L136.61 473.88 L136.07 473.91 L135.53 473.93 L135.01 473.98 L134.52 474.1 L134.08 474.3 L133.71 474.61 L133.43 475 L133.25 475.46 L133.18 475.95 L133.24 476.43 L133.41 476.88 L133.7 477.27 L134.07 477.59 L134.52 477.86 L135 478.08 L135.49 478.3 L135.96 478.55 L136.37 478.84 L136.7 479.2 L136.93 479.62 L137.04 480.09 L137.03 480.58 L136.91 481.06 L136.67 481.49 L136.35 481.84 L135.94 482.09 L135.47 482.25 L134.96 482.32 L134.42 482.35 L133.88 482.37 L133.36 482.42 L132.87 482.54 L132.43 482.75 L132.06 483.06 L131.78 483.45 L131.6 483.91 L131.54 484.4 L131.6 484.89 L131.78 485.33 L132.06 485.72 L132.44 486.04 L132.88 486.3 L133.37 486.53 L133.86 486.75 L134.33 486.99 L134.74 487.29 L135.07 487.65 L135.29 488.07 L135.4 488.54 L135.39 489.03 L135.26 489.51 L135.03 489.94 L134.7 490.28 L134.29 490.54 L133.82 490.69 L133.3 490.77 L132.77 490.8 L132.23 490.81 L131.71 490.87 L131.22 490.99 L130.78 491.2 L130.41 491.51 L130.14 491.9 L129.96 492.36 L129.9 492.85 L129.96 493.34 L130.14 493.78 L130.43 494.17 L130.81 494.49 L131.25 494.75 L131.74 494.98 L132.23 495.2 L132.7 495.44 L133.11 495.74 L133.43 496.1 L133.66 496.52 L133.76 496.99 L133.75 497.48 L133.62 497.96 L133.38 498.39 L133.05 498.73 L132.64 498.98 L132.17 499.14 L131.65 499.21 L131.12 499.24 L130.58 499.26 L130.05 499.31 L129.57 499.43 L129.13 499.64 L128.77 499.96 L128.49 500.35 L128.32 500.82 L128.26 501.31 L128.32 501.79 L126.53 514.38" stroke="#1414f0" fill="none" stroke-width="1.08" stroke-linejoin="round"/>
<path d="M124.1 522 L124.25 509.66 L126.92 513.14 L131.11 511.85 Z" stroke="none" fill="#1414f0" stroke-width="1.2" />
<text x="190.7" y="241.8" font-family='"Liberation Sans", Arial, sans-serif' font-size="15" fill="#1414f0" >P</text>
<path d="M217 220 L216.46 220.01 L215.94 220.06 L215.46 220.18 L215.03 220.4 L214.67 220.72 L214.4 221.12 L214.24 221.59 L214.19 222.08 L214.26 222.56 L214.45 223 L214.75 223.38 L215.13 223.7 L215.58 223.96 L216.07 224.2 L216.55 224.43 L217 224.7 L217.38 225.02 L217.68 225.4 L217.87 225.84 L217.94 226.32 L217.89 226.81 L217.72 227.28 L217.45 227.68 L217.09 228 L216.66 228.21 L216.18 228.34 L215.66 228.39 L215.12 228.39 L214.58 228.4 L214.06 228.45 L213.58 228.58 L213.15 228.8 L212.79 229.12 L212.52 229.52 L212.36 229.99 L212.31 230.48 L212.39 230.96 L212.58 231.4 L212.88 231.78 L213.26 232.09 L213.71 232.36 L214.2 232.59 L214.68 232.83 L215.13 233.1 L215.51 233.42 L215.81 233.8 L215.99 234.24 L216.06 234.72 L216.01 235.21 L215.84 235.68 L215.57 236.08 L215.21 236.39 L214.78 236.61 L214.3 236.73 L213.77 236.78 L213.24 236.79 L212.7 236.79 L212.18 236.85 L211.7 236.97 L211.27 237.19 L210.91 237.51 L210.65 237.92 L210.49 238.39 L210.44 238.88 L210.51 239.36 L210.71 239.8 L211.01 240.17 L211.39 240.49 L211.85 240.75 L212.33 240.99 L212.81 241.23 L213.26 241.49 L213.64 241.81 L213.94 242.2 L214.12 242.64 L214.19 243.12 L214.13 243.61 L213.97 244.07 L213.69 244.48 L213.33 244.79 L212.9 245.01 L212.41 245.13 L211.89 245.17 L211.36 245.18 L210.82 245.19 L210.3 245.24 L209.82 245.37 L209.39 245.59 L209.03 245.91 L208.77 246.32 L208.61 246.79 L208.57 247.28 L208.64 247.76 L208.83 248.19 L209.14 248.57 L209.52 248.89 L209.98 249.15 L210.46 249.39 L210.94 249.62 L211.39 249.89 L211.77 250.21 L212.06 250.6 L212.25 251.04 L212.31 251.52 L212.26 252.01 L212.09 252.47 L211.82 252.87 L211.45 253.19 L211.02 253.4 L210.53 253.52 L210.01 253.57 L209.47 253.57 L208.94 253.58 L208.42 253.63 L207.94 253.76 L207.51 253.99 L207.15 254.31 L206.89 254.72 L206.73 255.19 L206.69 255.68 L206.77 256.16 L206.96 256.59 L207.27 256.97 L207.66 257.28 L208.11 257.55 L208.59 257.78 L209.07 258.02 L209.52 258.29 L209.9 258.61 L210.19 258.99 L210.37 259.44 L210.44 259.92 L210.38 260.41 L210.21 260.87 L209.94 261.27 L209.57 261.58 L209.14 261.8 L208.65 261.91 L208.13 261.96 L207.59 261.97 L207.05 261.98 L206.54 262.03 L206.05 262.16 L205.63 262.38 L205.28 262.71 L205.01 263.12 L204.86 263.58 L204.82 264.08 L204.9 264.55 L205.09 264.99 L205.39 265.37 L205.79 265.68 L206.24 265.94 L206.72 266.18 L207.21 266.42 L207.65 266.68 L208.03 267.01 L208.32 267.39 L208.5 267.84 L208.56 268.32 L208.51 268.81 L208.33 269.27 L208.06 269.67 L207.69 269.98 L207.26 270.19 L206.77 270.31 L206.25 270.35 L205.71 270.36 L205.17 270.37 L204.66 270.42 L204.17 270.55 L203.75 270.78 L203.4 271.11 L203.14 271.52 L202.98 271.98 L202.94 272.48 L203.02 272.95 L203.22 273.39 L203.52 273.77 L203.92 274.08 L204.37 274.34 L204.86 274.57 L205.34 274.81 L205.78 275.08 L206.16 275.4 L206.45 275.79 L206.63 276.24 L206.69 276.72 L206.63 277.21 L206.46 277.67 L206.18 278.07 L205.81 278.38 L205.38 278.59 L204.89 278.7 L204.37 278.75 L203.83 278.75 L203.29 278.76 L202.77 278.82 L202.29 278.95 L201.87 279.18 L201.52 279.5 L201.26 279.91 L201.11 280.38 L201.07 280.87 L201.15 281.35 L201.35 281.79 L201.65 282.16 L202.05 282.47 L202.5 282.74 L202.99 282.97 L203.47 283.21 L203.91 283.48 L204.29 283.8 L204.58 284.19 L204.76 284.63 L204.81 285.12 L204.75 285.61 L204.58 286.07 L204.3 286.46 L203.93 286.77 L203.5 286.98 L203.01 287.1 L202.49 287.14 L201.95 287.15 L201.41 287.16 L200.89 287.21 L200.41 287.34 L199.99 287.57 L199.64 287.9 L199.38 288.31 L199.23 288.78 L199.19 289.27 L199.28 289.75 L199.48 290.19 L199.78 290.56 L200.18 290.87 L200.63 291.13 L201.12 291.37 L201.6 291.61 L202.04 291.88 L202.42 292.2 L202.71 292.59 L202.88 293.03 L202.94 293.52 L202.88 294.01 L202.7 294.47 L202.42 294.86 L202.05 295.17 L201.62 295.38 L201.13 295.49 L200.6 295.53 L200.07 295.54 L199.53 295.55 L199.01 295.61 L198.53 295.74 L198.11 295.97 L197.76 296.3 L197.5 296.71 L197.35 297.18 L197.32 297.67 L197.4 298.15 L197.61 298.58 L197.91 298.96 L198.31 299.27 L198.76 299.53 L199.25 299.76 L199.73 300 L200.17 300.27 L200.55 300.6 L200.83 300.99 L201.01 301.43 L201.06 301.92 L201 302.41 L200.82 302.87 L200.54 303.26 L200.17 303.57 L199.74 303.77 L199.25 303.88 L198.72 303.93 L198.18 303.93 L197.65 303.94 L197.13 304 L196.65 304.13 L196.23 304.37 L195.88 304.7 L195.63 305.11 L195.48 305.58 L195.44 306.07 L195.53 306.55 L195.73 306.98 L196.04 307.36 L196.44 307.67 L196.9 307.93 L197.38 308.16 L197.86 308.4 L198.31 308.67 L198.68 309 L198.96 309.39 L199.14 309.83 L199.19 310.32 L199.12 310.81 L198.95 311.26 L198.66 311.66 L198.29 311.96 L197.85 312.17 L197.36 312.28 L196.84 312.32 L196.3 312.33 L195.77 312.34 L195.25 312.39 L194.77 312.53 L194.35 312.76 L194 313.1 L193.75 313.51 L193.6 313.98 L193.57 314.47 L193.66 314.95 L193.86 315.38 L194.17 315.75 L194.57 316.06 L195.03 316.32 L195.51 316.56 L195.99 316.79 L196.44 317.07 L196.81 317.39 L197.09 317.78 L197.26 318.23 L197.32 318.72 L197.25 319.2 L197.07 319.66 L196.78 320.06 L196.41 320.36 L195.97 320.56 L195.48 320.67 L194.96 320.71 L194.42 320.72 L193.88 320.73 L193.37 320.79 L192.89 320.93 L192.47 321.16 L192.13 321.49 L191.87 321.91 L191.73 322.38 L191.7 322.87 L191.79 323.35 L191.99 323.78 L192.3 324.15 L192.7 324.46 L193.16 324.72 L193.64 324.95 L194.13 325.19 L194.57 325.46 L194.94 325.79 L195.22 326.18 L195.39 326.63 L195.44 327.12 L195.37 327.6 L195.19 328.06 L194.91 328.45 L194.53 328.76 L194.09 328.96 L193.6 329.07 L193.08 329.11 L192.54 329.11 L192 329.12 L191.49 329.18 L191.01 329.32 L190.59 329.56 L190.25 329.89 L190 330.31 L189.85 330.78 L189.82 331.27 L189.91 331.75 L190.12 332.18 L190.43 332.55 L190.83 332.86 L191.29 333.11 L191.78 333.35 L192.26 333.59 L192.7 333.86 L193.07 334.19 L193.35 334.58 L193.52 335.03 L193.57 335.51 L193.5 336 L193.31 336.46 L193.03 336.85 L192.65 337.15 L192.21 337.35 L191.72 337.46 L191.2 337.5 L190.66 337.5 L190.12 337.52 L189.61 337.58 L189.13 337.72 L188.71 337.95 L188.37 338.29 L188.12 338.71 L187.97 339.18 L187.95 339.67 L188.04 340.15 L188.25 340.58 L188.56 340.95 L188.96 341.25 L189.42 341.51 L189.91 341.74 L190.39 341.98 L190.83 342.26 L191.2 342.59 L191.48 342.98 L191.64 343.43 L191.69 343.91 L191.62 344.4 L191.43 344.86 L191.15 345.25 L190.77 345.55 L190.33 345.75 L189.84 345.86 L189.31 345.89 L188.78 345.9 L188.24 345.91 L187.72 345.97 L187.25 346.11 L186.83 346.35 L186.49 346.69 L186.24 347.11 L186.1 347.58 L186.07 348.07 L186.17 348.55 L186.38 348.97 L186.69 349.34 L187.09 349.65 L187.55 349.91 L188.04 350.14 L188.52 350.38 L188.96 350.65 L189.33 350.98 L189.6 351.38 L189.77 351.83 L189.82 352.31 L189.74 352.8 L189.56 353.26 L189.27 353.65 L188.89 353.94 L188.45 354.14 L187.96 354.25 L187.43 354.29 L186.89 354.29 L186.36 354.3 L185.84 354.37 L185.37 354.51 L184.95 354.75 L184.61 355.09 L184.36 355.51 L184.22 355.98 L184.2 356.47 L184.29 356.94 L184.51 357.37 L184.82 357.74 L185.23 358.05 L185.69 358.3 L186.17 358.54 L186.65 358.78 L187.09 359.05 L187.46 359.38 L187.73 359.78 L187.9 360.23 L187.94 360.71 L187.87 361.2 L187.68 361.66 L187.39 362.04 L187.01 362.34 L186.57 362.54 L186.08 362.64 L185.55 362.68 L185.01 362.68 L184.48 362.7 L183.96 362.76 L183.49 362.9 L183.07 363.14 L182.73 363.48 L182.49 363.9 L182.35 364.38 L182.32 364.87 L182.42 365.34 L182.64 365.77 L182.95 366.14 L183.36 366.44 L183.82 366.7 L184.3 366.93 L184.78 367.17 L185.22 367.45 L185.59 367.78 L185.86 368.18 L186.02 368.63 L186.07 369.11 L185.99 369.6 L185.8 370.05 L185.51 370.44 L185.13 370.74 L184.69 370.93 L184.2 371.04 L183.67 371.07 L183.13 371.08 L182.6 371.09 L182.08 371.16 L181.61 371.3 L181.19 371.54 L180.85 371.88 L180.61 372.3 L180.47 372.78 L180.45 373.27 L180.55 373.74 L180.76 374.17 L181.08 374.54 L181.49 374.84 L181.95 375.1 L182.43 375.33 L182.91 375.57 L183.35 375.85 L183.72 376.18 L183.99 376.57 L184.15 377.03 L184.19 377.51 L184.11 378 L183.92 378.45 L183.63 378.84 L183.25 379.13 L182.81 379.33 L182.31 379.43 L181.79 379.47 L181.25 379.47 L180.71 379.49 L180.2 379.55 L179.73 379.7 L179.31 379.94 L178.98 380.28 L178.73 380.7 L178.6 381.18 L178.58 381.67 L178.68 382.14 L178.89 382.57 L179.21 382.93 L179.62 383.24 L180.08 383.49 L180.57 383.73 L181.04 383.97 L181.48 384.24 L181.85 384.58 L182.12 384.97 L182.28 385.43 L182.32 385.91 L182.24 386.4 L182.05 386.85 L181.75 387.24 L181.37 387.53 L180.93 387.72 L180.43 387.83 L179.91 387.86 L179.37 387.86 L178.83 387.88 L178.32 387.94 L177.85 388.09 L177.43 388.34 L177.1 388.68 L176.85 389.1 L176.72 389.58 L176.7 390.07 L176.8 390.54 L177.02 390.97 L177.34 391.33 L177.75 391.63 L178.21 391.89 L178.7 392.12 L179.18 392.36 L179.61 392.64 L179.98 392.97 L180.24 393.37 L180.4 393.82 L180.44 394.31 L180.36 394.8 L180.17 395.25 L179.87 395.63 L179.49 395.93 L179.05 396.12 L178.55 396.22 L178.03 396.25 L177.49 396.26 L176.95 396.27 L176.44 396.34 L175.97 396.49 L175.55 396.73 L175.22 397.08 L174.98 397.5 L174.84 397.98 L174.83 398.47 L174.93 398.94 L175.15 399.36 L175.47 399.73 L175.88 400.03 L176.34 400.28 L176.83 400.52 L177.31 400.76 L177.74 401.04 L178.1 401.37 L178.37 401.77 L178.53 402.22 L178.57 402.71 L178.48 403.2 L178.29 403.65 L177.99 404.03 L177.61 404.32 L177.17 404.51 L176.67 404.61 L176.14 404.65 L175.6 404.65 L175.07 404.67 L174.56 404.73 L174.09 404.88 L173.68 405.13 L173.34 405.47 L173.1 405.9 L172.97 406.38 L172.95 406.87 L173.06 407.34 L173.28 407.76 L173.6 408.13 L174.01 408.43 L174.47 408.68 L174.96 408.91 L175.44 409.16 L175.87 409.43 L176.23 409.77 L176.5 410.17 L176.66 410.62 L176.69 411.11 L176.61 411.6 L176.41 412.05 L176.12 412.43 L175.73 412.72 L175.29 412.91 L174.79 413.01 L174.26 413.04 L173.72 413.04 L173.19 413.06 L172.68 413.13 L172.21 413.28 L171.8 413.53 L171.46 413.87 L171.22 414.3 L171.09 414.77 L171.08 415.27 L171.19 415.74 L171.41 416.16 L171.73 416.52 L172.14 416.82 L172.61 417.08 L173.09 417.31 L173.57 417.55 L174 417.83 L174.36 418.17 L174.63 418.57 L174.78 419.02 L174.82 419.51 L174.73 420 L174.53 420.45 L174.24 420.83 L173.85 421.12 L173.41 421.3 L172.91 421.4 L172.38 421.43 L171.84 421.44 L171.31 421.45 L170.8 421.52 L170.33 421.67 L169.92 421.92 L169.58 422.27 L169.35 422.7 L169.22 423.17 L169.21 423.67 L169.31 424.14 L169.54 424.56 L169.86 424.92 L170.27 425.22 L170.74 425.47 L171.22 425.71 L171.7 425.95 L172.13 426.23 L172.49 426.57 L172.76 426.97 L172.91 427.42 L172.94 427.91 L172.85 428.4 L172.66 428.85 L172.36 429.22 L171.97 429.51 L171.52 429.7 L171.03 429.8 L170.5 429.83 L169.96 429.83 L169.42 429.85 L168.91 429.92 L168.45 430.07 L168.04 430.32 L167.71 430.67 L167.47 431.1 L167.34 431.57 L167.33 432.06 L167.44 432.54 L167.67 432.96 L167.99 433.32 L168.4 433.62 L168.87 433.87 L169.36 434.1 L169.83 434.34 L170.26 434.63 L170.62 434.96 L170.88 435.37 L171.04 435.82 L171.07 436.31 L170.98 436.8 L170.78 437.24 L170.48 437.62 L170.09 437.91 L169.64 438.09 L169.15 438.19 L168.62 438.22 L168.08 438.22 L167.54 438.24 L167.03 438.31 L166.57 438.47 L166.16 438.72 L165.83 439.07 L165.59 439.5 L165.47 439.97 L165.46 440.46 L165.57 440.93 L165.8 441.36 L166.12 441.71 L166.53 442.01 L167 442.27 L167.49 442.5 L167.96 442.74 L168.39 443.02 L168.75 443.36 L169.01 443.76 L169.16 444.22 L169.19 444.71 L169.1 445.19 L168.9 445.64 L168.6 446.02 L168.21 446.3 L167.76 446.49 L167.26 446.58 L166.74 446.61 L166.2 446.62 L165.66 446.63 L165.15 446.71 L164.68 446.86 L164.28 447.11 L163.95 447.47 L163.72 447.89 L163.59 448.37 L163.58 448.86 L163.7 449.33 L163.92 449.75 L164.25 450.11 L164.67 450.41 L165.13 450.66 L165.62 450.89 L166.09 451.14 L166.52 451.42 L166.88 451.76 L167.14 452.16 L167.29 452.62 L167.32 453.11 L167.22 453.59 L167.02 454.04 L166.72 454.42 L166.33 454.7 L165.88 454.88 L165.38 454.98 L164.85 455.01 L164.31 455.01 L163.78 455.03 L163.27 455.1 L162.8 455.26 L162.4 455.51 L162.07 455.86 L161.84 456.29 L161.71 456.77 L161.71 457.26 L161.82 457.73 L162.05 458.15 L162.38 458.51 L162.8 458.81 L163.26 459.06 L163.75 459.29 L164.22 459.53 L164.65 459.82 L165.01 460.16 L165.27 460.56 L165.41 461.02 L165.44 461.51 L165.35 461.99 L165.14 462.44 L164.84 462.81 L164.45 463.1 L164 463.28 L163.5 463.37 L162.97 463.4 L162.43 463.4 L161.9 463.42 L161.39 463.5 L160.92 463.65 L160.52 463.91 L160.19 464.26 L159.96 464.69 L159.84 465.17 L159.84 465.66 L159.95 466.13 L160.18 466.55 L160.51 466.91 L160.93 467.2 L161.39 467.45 L161.88 467.69 L162.36 467.93 L162.78 468.21 L163.14 468.56 L163.4 468.96 L163.54 469.42 L163.57 469.91 L163.47 470.39 L163.27 470.84 L162.96 471.21 L162.57 471.49 L162.12 471.67 L161.62 471.76 L161.09 471.79 L160.55 471.8 L160.02 471.82 L159.51 471.89 L159.04 472.05 L158.64 472.31 L158.31 472.66 L158.08 473.09 L157.96 473.57 L157.96 474.06 L158.08 474.53 L158.31 474.95 L158.64 475.3 L159.06 475.6 L159.53 475.85 L160.01 476.08 L160.49 476.33 L160.92 476.61 L161.27 476.95 L161.52 477.36 L161.67 477.82 L161.69 478.31 L161.59 478.79 L161.39 479.24 L161.08 479.61 L160.69 479.89 L160.24 480.07 L159.74 480.16 L159.21 480.19 L158.67 480.19 L158.14 480.21 L157.63 480.28 L157.16 480.44 L156.76 480.7 L156.44 481.06 L156.21 481.49 L156.09 481.97 L156.09 482.46 L156.21 482.93 L156.44 483.35 L156.77 483.7 L157.19 484 L157.66 484.25 L158.14 484.48 L158.62 484.72 L159.05 485.01 L159.4 485.35 L159.65 485.76 L159.79 486.22 L159.82 486.71 L159.72 487.19 L159.51 487.63 L159.2 488.01 L158.81 488.28 L158.36 488.46 L157.86 488.55 L157.33 488.58 L156.79 488.58 L156.25 488.6 L155.75 488.68 L155.28 488.84 L154.88 489.1 L154.56 489.46 L154.33 489.89 L154.21 490.37 L154.21 490.86 L154.33 491.33 L154.57 491.74 L154.91 492.1 L155.32 492.39 L155.79 492.64 L156.28 492.88 L156.75 493.12 L157.18 493.41 L157.53 493.75 L157.78 494.16 L157.92 494.62 L157.94 495.11 L157.84 495.59 L157.63 496.03 L157.32 496.4 L156.93 496.68 L156.48 496.86 L155.98 496.95 L155.45 496.97 L154.91 496.98 L154.37 497 L153.87 497.07 L153.4 497.24 L153 497.5 L152.68 497.86 L152.45 498.29 L152.34 498.77 L152.34 499.26 L152.46 499.73 L152.7 500.14 L153.04 500.5 L153.45 500.79 L153.92 501.04 L154.41 501.27 L154.88 501.52 L155.31 501.8 L155.66 502.15 L155.91 502.56 L156.05 503.02 L156.06 503.51 L155.96 503.99 L150.16 514.39" stroke="#8a0a4a" fill="none" stroke-width="1.08" stroke-linejoin="round"/>
<path d="M147.7 522 L147.9 509.66 L150.56 513.15 L154.75 511.88 Z" stroke="none" fill="#8a0a4a" stroke-width="1.2" />
<text x="221.7" y="252.5" font-family='"Liberation Sans", Arial, sans-serif' font-size="15" fill="#8a0a4a" >P</text>
<line x1="228" y1="79.5" x2="240" y2="61.2" stroke="#333" stroke-width="1.25" stroke-linecap="round"/>
<line x1="232.68" y1="78.54" x2="241.32" y2="65.37" stroke="#333" stroke-width="1.25" stroke-linecap="round"/>
<line x1="240" y1="61.2" x2="262.5" y2="61.2" stroke="#333" stroke-width="1.25" stroke-linecap="round"/>
<line x1="262.5" y1="61.2" x2="273.8" y2="79.5" stroke="#333" stroke-width="1.25" stroke-linecap="round"/>
<line x1="261.09" y1="65.38" x2="269.23" y2="78.55" stroke="#333" stroke-width="1.25" stroke-linecap="round"/>
<line x1="273.8" y1="79.5" x2="262.5" y2="97.9" stroke="#333" stroke-width="1.25" stroke-linecap="round"/>
<line x1="262.5" y1="97.9" x2="240" y2="97.9" stroke="#333" stroke-width="1.25" stroke-linecap="round"/>
<line x1="259.33" y1="94.5" x2="243.13" y2="94.5" stroke="#333" stroke-width="1.25" stroke-linecap="round"/>
<line x1="240" y1="97.9" x2="228" y2="79.5" stroke="#333" stroke-width="1.25" stroke-linecap="round"/>
<line x1="204.7" y1="79.9" x2="228" y2="79.5" stroke="#333" stroke-width="1.25" stroke-linecap="round"/>
<line x1="273.8" y1="79.5" x2="295.7" y2="79.2" stroke="#333" stroke-width="1.25" stroke-linecap="round"/>
<text x="190.4" y="84.9" font-family='"Liberation Sans", Arial, sans-serif' font-size="14" fill="#1a1a1a" textLength="12.4" lengthAdjust="spacingAndGlyphs" >Si</text>
<text x="159.4" y="58.3" font-family='"Liberation Sans", Arial, sans-serif' font-size="14" fill="#1a1a1a" textLength="31.2" lengthAdjust="spacingAndGlyphs" >MeO</text>
<text x="151.2" y="94" font-family='"Liberation Sans", Arial, sans-serif' font-size="14" fill="#1a1a1a" textLength="31.5" lengthAdjust="spacingAndGlyphs" >MeO</text>
<text x="164" y="107.8" font-family='"Liberation Sans", Arial, sans-serif' font-size="14" fill="#1a1a1a" textLength="31.5" lengthAdjust="spacingAndGlyphs" >MeO</text>
<line x1="189.2" y1="61.2" x2="194.1" y2="73.2" stroke="#333" stroke-width="1.25" stroke-linecap="round"/>
<line x1="188.5" y1="84.6" x2="184.6" y2="86.2" stroke="#333" stroke-width="1.25" stroke-linecap="round"/>
<line x1="194.1" y1="88" x2="192.2" y2="96" stroke="#333" stroke-width="1.25" stroke-linecap="round"/>
<text x="298.3" y="83.2" font-family='"Liberation Sans", Arial, sans-serif' font-size="14" fill="#1a1a1a" textLength="12.6" lengthAdjust="spacingAndGlyphs" >Si</text>
<text x="305.3" y="64.7" font-family='"Liberation Sans", Arial, sans-serif' font-size="14" fill="#1a1a1a" textLength="31.7" lengthAdjust="spacingAndGlyphs" >OMe</text>
<text x="323.2" y="81.2" font-family='"Liberation Sans", Arial, sans-serif' font-size="14" fill="#1a1a1a" textLength="31.7" lengthAdjust="spacingAndGlyphs" >OMe</text>
<text x="310.5" y="110.1" font-family='"Liberation Sans", Arial, sans-serif' font-size="14" fill="#1a1a1a" textLength="31.7" lengthAdjust="spacingAndGlyphs" >OMe</text>
<line x1="307" y1="73.5" x2="308.4" y2="67.5" stroke="#333" stroke-width="1.25" stroke-linecap="round"/>
<line x1="313.3" y1="78.1" x2="321.6" y2="77" stroke="#333" stroke-width="1.25" stroke-linecap="round"/>
<line x1="309.1" y1="87.3" x2="314" y2="99" stroke="#333" stroke-width="1.25" stroke-linecap="round"/>
</g>
<g filter="url(#sh)">
<line x1="375.5" y1="526" x2="375.5" y2="27" stroke="#000" stroke-width="1.4" />
<path d="M375.5 17 L379.5 30 L375.5 27.2 L371.5 30 Z" stroke="none" fill="#000" stroke-width="1.2" />
<line x1="376.5" y1="71.8" x2="385" y2="71.8" stroke="#000" stroke-width="1.3" />
<text x="369" y="77.3" font-family='"Liberation Sans", Arial, sans-serif' font-size="16" fill="#0c0c0c" text-anchor="end" >5</text>
<line x1="377.5" y1="116.3" x2="386" y2="116.3" stroke="#000" stroke-width="1.3" />
<line x1="376.5" y1="161" x2="385" y2="161" stroke="#000" stroke-width="1.3" />
<text x="369" y="166.5" font-family='"Liberation Sans", Arial, sans-serif' font-size="16" fill="#0c0c0c" text-anchor="end" >4</text>
<line x1="377.5" y1="205" x2="386" y2="205" stroke="#000" stroke-width="1.3" />
<line x1="376.5" y1="252.5" x2="385" y2="252.5" stroke="#000" stroke-width="1.3" />
<text x="369" y="258" font-family='"Liberation Sans", Arial, sans-serif' font-size="16" fill="#0c0c0c" text-anchor="end" >3</text>
<line x1="377.5" y1="298" x2="386" y2="298" stroke="#000" stroke-width="1.3" />
<line x1="376.5" y1="343.5" x2="385" y2="343.5" stroke="#000" stroke-width="1.3" />
<text x="369" y="349" font-family='"Liberation Sans", Arial, sans-serif' font-size="16" fill="#0c0c0c" text-anchor="end" >2</text>
<line x1="377.5" y1="390" x2="386" y2="390" stroke="#000" stroke-width="1.3" />
<line x1="376.5" y1="436" x2="385" y2="436" stroke="#000" stroke-width="1.3" />
<text x="369" y="441.5" font-family='"Liberation Sans", Arial, sans-serif' font-size="16" fill="#0c0c0c" text-anchor="end" >1</text>
<line x1="377.5" y1="481" x2="386" y2="481" stroke="#000" stroke-width="1.3" />
<line x1="376.5" y1="526" x2="385" y2="526" stroke="#000" stroke-width="1.3" />
<text x="369" y="531.5" font-family='"Liberation Sans", Arial, sans-serif' font-size="16" fill="#0c0c0c" text-anchor="end" >0</text>
<text x="382.5" y="20.8" font-family='"Liberation Sans", Arial, sans-serif' font-size="16" fill="#0c0c0c" textLength="203" lengthAdjust="spacingAndGlyphs" >Energy of excited states, eV</text>
<line x1="408.3" y1="58.8" x2="472" y2="58.8" stroke="#000" stroke-width="4" />
<text x="388.6" y="58.7" font-family='"Liberation Sans", Arial, sans-serif' font-size="15.7" fill="#0c0c0c" >S<tspan font-size="10.6" dy="-6.3">1</tspan></text>
<text x="428.8" y="51.8" font-family='"Liberation Sans", Arial, sans-serif' font-size="13.8" fill="#0c0c0c" textLength="106.8" lengthAdjust="spacingAndGlyphs" >5.22 eV (238 nm)</text>
<line x1="418.5" y1="525" x2="541.5" y2="525" stroke="#000" stroke-width="4.2" />
<text x="402.8" y="525.4" font-family='"Liberation Sans", Arial, sans-serif' font-size="15.7" fill="#0c0c0c" >S<tspan font-size="10.6" dy="-6.3">0</tspan></text>
<line x1="438.2" y1="520.5" x2="438.2" y2="70.8" stroke="#000" stroke-width="1.4" />
<path d="M438.2 62 L442.3 74.5 L438.2 71.7 L434.1 74.5 Z" stroke="none" fill="#000" stroke-width="1.2" />
<path d="M461.3 64.5 L460.78 64.62 L460.28 64.78 L459.83 65 L459.46 65.3 L459.18 65.69 L459 66.14 L458.94 66.62 L458.99 67.11 L459.16 67.56 L459.44 67.95 L459.81 68.26 L460.26 68.49 L460.75 68.65 L461.28 68.78 L461.8 68.9 L462.29 69.06 L462.74 69.29 L463.11 69.6 L463.38 69.99 L463.56 70.44 L463.61 70.93 L463.55 71.42 L463.37 71.87 L463.09 72.25 L462.71 72.55 L462.27 72.77 L461.77 72.93 L461.25 73.05 L460.72 73.17 L460.22 73.33 L459.78 73.55 L459.4 73.85 L459.12 74.24 L458.95 74.69 L458.88 75.18 L458.94 75.66 L459.11 76.12 L459.39 76.5 L459.76 76.81 L460.21 77.04 L460.7 77.2 L461.23 77.33 L461.75 77.45 L462.24 77.61 L462.69 77.84 L463.06 78.15 L463.33 78.54 L463.5 78.99 L463.56 79.48 L463.5 79.97 L463.32 80.42 L463.03 80.8 L462.66 81.1 L462.21 81.33 L461.71 81.48 L461.19 81.6 L460.67 81.72 L460.17 81.88 L459.72 82.1 L459.35 82.4 L459.07 82.79 L458.89 83.24 L458.83 83.73 L458.89 84.22 L459.06 84.67 L459.34 85.06 L459.71 85.36 L460.16 85.59 L460.65 85.75 L461.18 85.88 L461.7 86 L462.19 86.17 L462.64 86.39 L463.01 86.7 L463.28 87.09 L463.45 87.54 L463.51 88.03 L463.44 88.52 L463.26 88.97 L462.98 89.35 L462.61 89.66 L462.16 89.88 L461.66 90.03 L461.14 90.15 L460.61 90.27 L460.12 90.43 L459.67 90.65 L459.3 90.96 L459.02 91.34 L458.84 91.79 L458.78 92.28 L458.84 92.77 L459.01 93.22 L459.29 93.61 L459.66 93.91 L460.11 94.14 L460.6 94.3 L461.13 94.43 L461.65 94.55 L462.14 94.72 L462.59 94.94 L462.96 95.25 L463.23 95.64 L463.4 96.1 L463.45 96.59 L463.39 97.07 L463.21 97.52 L462.93 97.9 L462.55 98.21 L462.1 98.43 L461.61 98.58 L461.08 98.7 L460.56 98.82 L460.06 98.98 L459.61 99.2 L459.24 99.51 L458.96 99.89 L458.79 100.34 L458.73 100.83 L458.79 101.32 L458.96 101.77 L459.24 102.16 L459.61 102.46 L460.06 102.69 L460.55 102.85 L461.08 102.98 L461.6 103.1 L462.09 103.27 L462.54 103.5 L462.9 103.81 L463.18 104.2 L463.35 104.65 L463.4 105.14 L463.34 105.62 L463.16 106.07 L462.87 106.46 L462.5 106.76 L462.05 106.98 L461.55 107.13 L461.03 107.25 L460.5 107.37 L460.01 107.53 L459.56 107.75 L459.19 108.06 L458.91 108.45 L458.74 108.9 L458.68 109.38 L458.74 109.87 L458.91 110.32 L459.19 110.71 L459.56 111.02 L460.01 111.24 L460.5 111.4 L461.03 111.53 L461.55 111.65 L462.04 111.82 L462.49 112.05 L462.85 112.36 L463.13 112.75 L463.3 113.2 L463.35 113.69 L463.28 114.18 L463.11 114.63 L462.82 115.01 L462.44 115.31 L461.99 115.53 L461.5 115.68 L460.97 115.8 L460.45 115.92 L459.95 116.08 L459.51 116.3 L459.14 116.61 L458.86 117 L458.68 117.45 L458.62 117.94 L458.68 118.42 L458.86 118.88 L459.14 119.26 L459.51 119.57 L459.96 119.79 L460.45 119.95 L460.98 120.08 L461.5 120.2 L461.99 120.37 L462.44 120.6 L462.8 120.91 L463.08 121.3 L463.25 121.75 L463.3 122.24 L463.23 122.73 L463.05 123.18 L462.77 123.56 L462.39 123.86 L461.94 124.08 L461.44 124.23 L460.92 124.35 L460.39 124.47 L459.9 124.63 L459.45 124.86 L459.08 125.16 L458.8 125.55 L458.63 126 L458.57 126.49 L458.63 126.98 L458.81 127.43 L459.09 127.81 L459.46 128.12 L459.91 128.34 L460.41 128.5 L460.93 128.63 L461.45 128.76 L461.94 128.92 L462.39 129.15 L462.75 129.46 L463.03 129.85 L463.19 130.31 L463.25 130.79 L463.18 131.28 L463 131.73 L462.71 132.11 L462.34 132.41 L461.89 132.63 L461.39 132.78 L460.86 132.9 L460.34 133.02 L459.84 133.18 L459.4 133.41 L459.03 133.71 L458.75 134.1 L458.58 134.55 L458.52 135.04 L458.58 135.53 L458.76 135.98 L459.04 136.36 L459.41 136.67 L459.86 136.89 L460.36 137.05 L460.88 137.18 L461.4 137.31 L461.89 137.47 L462.34 137.7 L462.7 138.01 L462.98 138.4 L463.14 138.86 L463.19 139.35 L463.13 139.83 L462.95 140.28 L462.66 140.66 L462.28 140.96 L461.83 141.18 L461.33 141.33 L460.81 141.45 L460.28 141.57 L459.79 141.73 L459.34 141.96 L458.97 142.26 L458.7 142.65 L458.52 143.11 L458.47 143.59 L458.53 144.08 L458.7 144.53 L458.99 144.92 L459.36 145.22 L459.81 145.44 L460.31 145.6 L460.83 145.73 L461.35 145.86 L461.84 146.02 L462.29 146.25 L462.65 146.56 L462.92 146.95 L463.09 147.41 L463.14 147.9 L463.07 148.38 L462.89 148.83 L462.6 149.21 L462.23 149.51 L461.78 149.73 L461.28 149.88 L460.75 150 L460.23 150.12 L459.73 150.28 L459.29 150.51 L458.92 150.82 L458.64 151.2 L458.47 151.66 L458.42 152.15 L458.48 152.63 L458.65 153.08 L458.94 153.47 L459.31 153.77 L459.76 153.99 L460.26 154.15 L460.78 154.28 L461.3 154.41 L461.79 154.57 L462.24 154.8 L462.6 155.11 L462.87 155.51 L463.04 155.96 L463.09 156.45 L463.02 156.94 L462.84 157.38 L462.55 157.77 L462.17 158.06 L461.72 158.28 L461.22 158.44 L460.7 158.55 L460.18 158.68 L459.68 158.83 L459.24 159.06 L458.87 159.37 L458.59 159.76 L458.42 160.21 L458.36 160.7 L458.43 161.18 L458.6 161.63 L458.89 162.02 L459.26 162.32 L459.71 162.54 L460.21 162.7 L460.73 162.83 L461.25 162.96 L461.74 163.12 L462.19 163.35 L462.55 163.67 L462.82 164.06 L462.99 164.51 L463.04 165 L462.97 165.49 L462.79 165.94 L462.5 166.32 L462.12 166.62 L461.67 166.83 L461.17 166.99 L460.64 167.1 L460.12 167.23 L459.63 167.39 L459.18 167.61 L458.81 167.92 L458.54 168.31 L458.37 168.76 L458.31 169.25 L458.37 169.74 L458.55 170.19 L458.84 170.57 L459.21 170.87 L459.66 171.1 L460.16 171.25 L460.68 171.38 L461.2 171.51 L461.69 171.67 L462.13 171.9 L462.5 172.22 L462.77 172.61 L462.94 173.07 L462.98 173.55 L462.92 174.04 L462.73 174.49 L462.44 174.87 L462.06 175.17 L461.61 175.38 L461.11 175.54 L460.59 175.66 L460.07 175.78 L459.57 175.94 L459.13 176.16 L458.76 176.47 L458.48 176.86 L458.31 177.31 L458.26 177.8 L458.32 178.29 L458.5 178.74 L458.78 179.12 L459.16 179.42 L459.61 179.65 L460.11 179.81 L460.63 179.93 L461.15 180.06 L461.64 180.22 L462.08 180.46 L462.45 180.77 L462.72 181.16 L462.88 181.62 L462.93 182.11 L462.86 182.59 L462.68 183.04 L462.39 183.42 L462.01 183.72 L461.56 183.93 L461.06 184.09 L460.53 184.21 L460.01 184.33 L459.52 184.49 L459.07 184.71 L458.71 185.02 L458.43 185.41 L458.26 185.87 L458.21 186.35 L458.27 186.84 L458.45 187.29 L458.73 187.67 L459.11 187.98 L459.56 188.2 L460.06 188.36 L460.58 188.48 L461.1 188.61 L461.59 188.77 L462.03 189.01 L462.4 189.32 L462.67 189.71 L462.83 190.17 L462.88 190.66 L462.81 191.15 L462.63 191.59 L462.34 191.97 L461.96 192.27 L461.5 192.48 L461 192.64 L460.48 192.76 L459.96 192.88 L459.46 193.04 L459.02 193.26 L458.65 193.57 L458.38 193.96 L458.21 194.42 L458.15 194.91 L458.22 195.39 L458.4 195.84 L458.68 196.22 L459.06 196.53 L459.51 196.75 L460.01 196.91 L460.53 197.03 L461.05 197.16 L461.54 197.33 L461.98 197.56 L462.35 197.87 L462.62 198.27 L462.78 198.72 L462.83 199.21 L462.76 199.7 L462.57 200.14 L462.28 200.52 L461.9 200.82 L461.45 201.04 L460.95 201.19 L460.43 201.31 L459.9 201.43 L459.41 201.59 L458.97 201.82 L458.6 202.13 L458.32 202.52 L458.16 202.97 L458.1 203.46 L458.17 203.95 L458.35 204.39 L458.63 204.78 L459.01 205.08 L459.46 205.3 L459.96 205.46 L460.48 205.58 L461 205.71 L461.49 205.88 L461.93 206.11 L462.3 206.42 L462.57 206.82 L462.73 207.27 L462.78 207.76 L462.7 208.25 L462.52 208.7 L462.23 209.07 L461.85 209.37 L461.4 209.59 L460.9 209.74 L460.37 209.86 L459.85 209.98 L459.35 210.14 L458.91 210.37 L458.54 210.68 L458.27 211.07 L458.1 211.52 L458.05 212.01 L458.12 212.5 L458.3 212.95 L458.58 213.33 L458.96 213.63 L459.41 213.85 L459.91 214.01 L460.43 214.13 L460.95 214.26 L461.44 214.43 L461.88 214.66 L462.25 214.98 L462.52 215.37 L462.68 215.83 L462.72 216.32 L462.65 216.8 L462.47 217.25 L462.17 217.63 L461.79 217.92 L461.34 218.14 L460.84 218.29 L460.32 218.41 L459.79 218.53 L459.3 218.69 L458.86 218.92 L458.49 219.23 L458.22 219.62 L458.05 220.07 L458 220.56 L458.06 221.05 L458.25 221.5 L458.53 221.88 L458.91 222.18 L459.36 222.4 L459.86 222.56 L460.38 222.68 L460.9 222.81 L461.39 222.98 L461.83 223.21 L462.2 223.53 L462.46 223.92 L462.63 224.38 L462.67 224.87 L462.6 225.35 L462.41 225.8 L462.12 226.18 L461.74 226.47 L461.29 226.69 L460.79 226.84 L460.26 226.96 L459.74 227.08 L459.24 227.24 L458.8 227.47 L458.44 227.78 L458.16 228.17 L458 228.63 L457.95 229.12 L458.01 229.6 L458.19 230.05 L458.48 230.43 L458.86 230.73 L459.31 230.95 L459.81 231.11 L460.33 231.23 L460.85 231.36 L461.35 231.53 L461.78 231.76 L462.15 232.08 L462.41 232.47 L462.57 232.93 L462.62 233.42 L462.55 233.91 L462.36 234.35 L462.07 234.73 L461.69 235.02 L461.23 235.24 L460.73 235.39 L460.21 235.51 L459.68 235.63 L459.19 235.79 L458.75 236.02 L458.38 236.33 L458.11 236.72 L457.94 237.18 L457.89 237.67 L457.96 238.15 L458.14 238.6 L458.43 238.98 L458.81 239.28 L459.26 239.5 L459.76 239.66 L460.28 239.78 L460.8 239.91 L461.3 240.08 L461.73 240.31 L462.09 240.63 L462.36 241.03 L462.52 241.48 L462.57 241.97 L462.49 242.46 L462.31 242.9 L462.01 243.28 L461.63 243.57 L461.18 243.79 L460.68 243.94 L460.15 244.06 L459.63 244.18 L459.14 244.34 L458.69 244.57 L458.33 244.88 L458.06 245.28 L457.89 245.73 L457.84 246.22 L457.91 246.71 L458.09 247.15 L458.38 247.53 L458.76 247.83 L459.21 248.05 L459.71 248.21 L460.23 248.33 L460.75 248.46 L461.25 248.63 L461.68 248.87 L462.04 249.18 L462.31 249.58 L462.47 250.04 L462.51 250.52 L462.44 251.01 L462.25 251.45 L461.96 251.83 L461.58 252.13 L461.12 252.34 L460.62 252.49 L460.1 252.61 L459.57 252.73 L459.08 252.89 L458.64 253.12 L458.28 253.43 L458 253.83 L457.84 254.28 L457.79 254.77 L457.86 255.26 L458.04 255.71 L458.33 256.09 L458.71 256.38 L459.16 256.6 L459.66 256.76 L460.18 256.88 L460.7 257.01 L461.2 257.18 L461.63 257.42 L461.99 257.73 L462.26 258.13 L462.42 258.59 L462.46 259.08 L462.39 259.56 L462.2 260.01 L461.91 260.38 L461.52 260.68 L461.07 260.89 L460.57 261.04 L460.04 261.16 L459.52 261.28 L459.03 261.44 L458.59 261.67 L458.22 261.99 L457.95 262.38 L457.79 262.84 L457.74 263.32 L457.81 263.81 L457.99 264.26 L458.28 264.64 L458.66 264.94 L459.11 265.15 L459.61 265.31 L460.13 265.43 L460.65 265.56 L461.15 265.73 L461.58 265.97 L461.94 266.28 L462.21 266.68 L462.37 267.14 L462.41 267.63 L462.33 268.11 L462.15 268.56 L461.85 268.93 L461.47 269.23 L461.01 269.44 L460.51 269.59 L459.99 269.71 L459.47 269.83 L458.97 269.99 L458.53 270.22 L458.17 270.54 L457.9 270.93 L457.73 271.39 L457.69 271.88 L457.76 272.36 L457.94 272.81 L458.23 273.19 L458.61 273.49 L459.06 273.7 L459.56 273.86 L460.08 273.99 L460.6 274.11 L461.1 274.28 L461.53 274.52 L461.89 274.84 L462.16 275.23 L462.32 275.69 L462.36 276.18 L462.28 276.67 L462.09 277.11 L461.8 277.49 L461.41 277.78 L460.96 277.99 L460.46 278.14 L459.93 278.26 L459.41 278.38 L458.92 278.54 L458.48 278.78 L458.11 279.09 L457.84 279.48 L457.68 279.94 L457.63 280.43 L457.7 280.91 L457.89 281.36 L458.18 281.74 L458.56 282.04 L459.01 282.26 L459.51 282.41 L460.03 282.54 L460.55 282.66 L461.05 282.83 L461.48 283.07 L461.84 283.39 L462.11 283.78 L462.26 284.24 L462.31 284.73 L462.23 285.22 L462.04 285.66 L461.74 286.04 L461.36 286.33 L460.91 286.54 L460.4 286.69 L459.88 286.81 L459.36 286.93 L458.86 287.1 L458.42 287.33 L458.06 287.64 L457.79 288.03 L457.63 288.49 L457.58 288.98 L457.65 289.47 L457.84 289.91 L458.13 290.29 L458.51 290.59 L458.96 290.81 L459.46 290.96 L459.98 291.09 L460.51 291.22 L461 291.38 L461.43 291.62 L461.79 291.94 L462.06 292.34 L462.21 292.8 L462.25 293.29 L462.18 293.77 L461.99 294.21 L461.69 294.59 L461.31 294.88 L460.85 295.09 L460.35 295.24 L459.82 295.36 L459.3 295.48 L458.81 295.65 L458.37 295.88 L458.01 296.19 L457.74 296.59 L457.58 297.04 L457.53 297.53 L457.6 298.02 L457.79 298.46 L458.08 298.84 L458.46 299.14 L458.91 299.36 L459.41 299.51 L459.94 299.64 L460.46 299.77 L460.95 299.93 L461.38 300.17 L461.74 300.49 L462 300.89 L462.16 301.35 L462.2 301.84 L462.12 302.32 L461.93 302.77 L461.64 303.14 L461.25 303.43 L460.8 303.64 L460.29 303.79 L459.77 303.91 L459.25 304.03 L458.75 304.2 L458.32 304.43 L457.95 304.74 L457.68 305.14 L457.52 305.6 L457.48 306.09 L457.55 306.57 L457.74 307.02 L458.03 307.39 L458.41 307.69 L458.86 307.91 L459.36 308.06 L459.89 308.19 L460.41 308.32 L460.9 308.49 L461.33 308.72 L461.69 309.04 L461.95 309.44 L462.11 309.9 L462.15 310.39 L462.07 310.87 L461.88 311.32 L461.58 311.69 L461.2 311.98 L460.74 312.19 L460.24 312.34 L459.71 312.46 L459.19 312.58 L458.7 312.75 L458.26 312.98 L457.9 313.3 L457.63 313.69 L457.47 314.15 L457.43 314.64 L457.5 315.12 L457.68 315.57 L457.98 315.95 L458.36 316.24 L458.81 316.46 L459.31 316.61 L459.84 316.74 L460.36 316.87 L460.85 317.04 L461.28 317.27 L461.64 317.59 L461.9 317.99 L462.06 318.45 L462.1 318.94 L462.02 319.43 L461.83 319.87 L461.53 320.24 L461.14 320.53 L460.69 320.74 L460.18 320.89 L459.66 321.01 L459.14 321.13 L458.65 321.3 L458.21 321.53 L457.85 321.85 L457.58 322.24 L457.42 322.7 L457.37 323.19 L457.45 323.67 L457.63 324.12 L457.93 324.5 L458.31 324.79 L458.76 325.01 L459.26 325.16 L459.79 325.29 L460.31 325.42 L460.8 325.59 L461.23 325.83 L461.59 326.15 L461.85 326.54 L462.01 327 L462.04 327.49 L461.97 327.98 L461.77 328.42 L461.48 328.79 L461.09 329.09 L460.63 329.3 L460.13 329.44 L459.6 329.56 L459.08 329.69 L458.59 329.85 L458.15 330.08 L457.79 330.4 L457.53 330.79 L457.37 331.25 L457.32 331.74 L457.39 332.23 L457.58 332.67 L457.87 333.05 L458.26 333.34 L458.71 333.56 L459.21 333.71 L459.74 333.84 L460.26 333.97 L460.75 334.14 L461.18 334.38 L461.54 334.7 L461.8 335.1 L461.95 335.56 L461.99 336.05 L461.91 336.53 L461.72 336.97 L461.42 337.35 L461.04 337.64 L460.58 337.85 L460.08 337.99 L459.55 338.11 L459.03 338.24 L458.54 338.4 L458.1 338.63 L457.74 338.95 L457.47 339.35 L457.31 339.8 L457.27 340.29 L457.34 340.78 L457.53 341.22 L457.82 341.6 L458.21 341.89 L458.66 342.11 L459.16 342.26 L459.69 342.39 L460.21 342.52 L460.7 342.69 L461.13 342.93 L461.49 343.25 L461.75 343.65 L461.9 344.11 L461.94 344.6 L461.86 345.08 L461.67 345.52 L461.37 345.9 L460.98 346.19 L460.52 346.4 L460.02 346.55 L459.5 346.66 L458.97 346.79 L458.48 346.95 L458.05 347.18 L457.69 347.5 L457.42 347.9 L457.26 348.36 L457.22 348.85 L457.29 349.33 L457.48 349.78 L457.77 350.15 L458.16 350.45 L458.61 350.66 L459.11 350.82 L459.64 350.94 L460.16 351.07 L460.65 351.24 L461.08 351.48 L461.44 351.8 L461.7 352.2 L461.85 352.66 L461.89 353.15 L461.81 353.63 L461.61 354.08 L461.31 354.45 L460.93 354.74 L460.47 354.95 L459.97 355.1 L459.44 355.21 L458.92 355.34 L458.43 355.5 L457.99 355.74 L457.63 356.05 L457.37 356.45 L457.21 356.91 L457.16 357.4 L457.24 357.88 L457.43 358.33 L457.72 358.7 L458.11 359 L458.56 359.21 L459.06 359.37 L459.59 359.49 L460.11 359.62 L460.6 359.79 L461.03 360.03 L461.39 360.35 L461.65 360.75 L461.8 361.21 L461.84 361.7 L461.75 362.19 L461.56 362.63 L461.26 363 L460.87 363.29 L460.42 363.5 L459.91 363.65 L459.39 363.76 L458.86 363.89 L458.37 364.05 L457.94 364.29 L457.58 364.6 L457.31 365 L457.15 365.46 L457.11 365.95 L457.19 366.44 L457.38 366.88 L457.67 367.25 L458.06 367.55 L458.51 367.76 L459.01 367.92 L459.54 368.04 L460.06 368.17 L460.55 368.34 L460.98 368.58 L461.34 368.9 L461.6 369.3 L461.75 369.77 L461.78 370.26 L461.7 370.74 L461.51 371.18 L461.21 371.55 L460.82 371.84 L460.36 372.05 L459.86 372.2 L459.33 372.31 L458.81 372.44 L458.32 372.6 L457.88 372.84 L457.52 373.16 L457.26 373.55 L457.1 374.01 L457.06 374.5 L457.14 374.99 L457.33 375.43 L457.62 375.81 L458.01 376.1 L458.46 376.31 L458.96 376.47 L459.49 376.59 L460.01 376.72 L460.5 376.89 L460.93 377.13 L461.28 377.45 L461.54 377.86 L461.7 378.32 L461.73 378.81 L461.65 379.29 L461.45 379.73 L461.15 380.1 L460.76 380.39 L460.31 380.6 L459.8 380.75 L459.28 380.86 L458.76 380.99 L458.27 381.15 L457.83 381.39 L457.47 381.71 L457.21 382.11 L457.05 382.57 L457.01 383.06 L457.09 383.54 L457.28 383.98 L457.57 384.36 L457.96 384.65 L458.41 384.86 L458.91 385.02 L459.44 385.14 L459.96 385.27 L460.45 385.44 L460.88 385.68 L461.23 386.01 L461.49 386.41 L461.64 386.87 L461.68 387.36 L461.6 387.84 L461.4 388.28 L461.1 388.65 L460.71 388.94 L460.25 389.15 L459.75 389.3 L459.22 389.41 L458.7 389.54 L458.21 389.7 L457.78 389.94 L457.42 390.26 L457.15 390.66 L457 391.12 L456.96 391.61 L457.03 392.09 L457.23 392.53 L457.52 392.91 L457.91 393.2 L458.36 393.41 L458.86 393.57 L459.39 393.69 L459.91 393.82 L460.4 393.99 L460.83 394.24 L461.18 394.56 L461.44 394.96 L461.59 395.42 L461.63 395.91 L461.54 396.4 L461.35 396.84 L461.04 397.21 L460.66 397.49 L460.2 397.7 L459.69 397.85 L459.17 397.97 L458.65 398.09 L458.16 398.26 L457.72 398.49 L457.36 398.81 L457.1 399.21 L456.94 399.67 L456.9 400.16 L456.98 400.64 L457.17 401.09 L457.47 401.46 L457.86 401.75 L458.31 401.97 L458.82 402.12 L459.34 402.24 L459.86 402.37 L460.35 402.54 L460.78 402.79 L461.13 403.11 L461.39 403.51 L461.54 403.97 L461.57 404.46 L461.49 404.95 L461.29 405.39 L460.99 405.76 L460.6 406.04 L460.14 406.25 L459.64 406.4 L459.11 406.52 L458.59 406.64 L458.1 406.81 L457.67 407.04 L457.31 407.36 L457.05 407.76 L456.89 408.22 L456.85 408.71 L456.93 409.2 L457.12 409.64 L457.42 410.01 L457.81 410.3 L458.26 410.52 L458.77 410.67 L459.29 410.79 L459.81 410.92 L460.3 411.1 L460.73 411.34 L461.08 411.66 L461.34 412.06 L461.49 412.53 L461.52 413.02 L461.44 413.5 L461.24 413.94 L460.94 414.31 L460.55 414.6 L460.09 414.8 L459.58 414.95 L459.06 415.07 L458.54 415.19 L458.05 415.36 L457.61 415.59 L457.26 415.91 L456.99 416.31 L456.84 416.77 L456.8 417.26 L456.88 417.75 L457.07 418.19 L457.37 418.56 L457.76 418.85 L458.21 419.07 L458.72 419.22 L459.24 419.34 L459.76 419.47 L460.25 419.65 L460.68 419.89 L461.03 420.21 L461.29 420.62 L461.44 421.08 L461.47 421.57 L461.38 422.05 L461.19 422.49 L460.88 422.86 L460.49 423.15 L460.03 423.35 L459.53 423.5 L459 423.62 L458.48 423.74 L457.99 423.91 L457.56 424.15 L457.2 424.47 L456.94 424.87 L456.79 425.33 L456.75 425.82 L456.83 426.3 L457.02 426.74 L457.32 427.11 L457.71 427.41 L458.16 427.62 L458.67 427.77 L459.19 427.89 L459.71 428.02 L460.2 428.2 L460.63 428.44 L460.98 428.76 L461.24 429.17 L461.39 429.63 L461.42 430.12 L461.33 430.6 L461.13 431.04 L460.83 431.41 L460.44 431.7 L459.98 431.9 L459.47 432.05 L458.95 432.17 L458.43 432.29 L457.94 432.46 L457.51 432.7 L457.15 433.02 L456.89 433.42 L456.73 433.88 L456.7 434.37 L456.78 434.85 L456.97 435.29 L457.27 435.67 L457.66 435.96 L458.11 436.17 L458.62 436.32 L459.14 436.44 L459.66 436.57 L460.15 436.75 L460.58 436.99 L460.93 437.32 L461.19 437.72 L461.33 438.18 L461.36 438.67 L461.28 439.16 L461.08 439.59 L460.78 439.96 L460.38 440.25 L459.93 440.45 L459.42 440.6 L458.89 440.72 L458.37 440.84 L457.88 441.01 L457.45 441.25 L457.1 441.57 L456.83 441.97 L456.68 442.43 L456.64 442.92 L456.72 443.4 L456.92 443.85 L457.22 444.22 L457.61 444.51 L458.06 444.72 L458.57 444.87 L459.09 444.99 L459.61 445.12 L460.1 445.3 L460.53 445.54 L460.88 445.87 L461.13 446.27 L461.28 446.73 L461.31 447.23 L461.23 447.71 L461.03 448.15 L460.72 448.51 L460.33 448.8 L459.87 449.01 L459.37 449.15 L458.84 449.27 L458.32 449.39 L457.83 449.56 L457.4 449.8 L457.04 450.12 L456.78 450.52 L456.63 450.98 L456.59 451.47 L456.67 451.96 L456.87 452.4 L457.17 452.77 L457.56 453.06 L458.01 453.27 L458.52 453.42 L459.04 453.54 L459.56 453.68 L460.05 453.85 L460.48 454.09 L460.83 454.42 L461.08 454.82 L461.23 455.29 L461.26 455.78 L461.17 456.26 L460.97 456.7 L460.67 457.07 L460.28 457.35 L459.82 457.56 L459.31 457.7 L458.78 457.82 L458.26 457.94 L457.78 458.11 L457.34 458.35 L456.99 458.67 L456.73 459.07 L456.58 459.53 L456.54 460.03 L456.62 460.51 L456.82 460.95 L457.12 461.32 L457.51 461.61 L457.96 461.82 L458.47 461.97 L458.99 462.09 L459.51 462.23 L460 462.4 L460.43 462.64 L460.78 462.97 L461.03 463.38 L461.18 463.84 L461.21 464.33 L461.12 464.81 L460.92 465.25 L460.61 465.62 L460.22 465.9 L459.76 466.11 L459.26 466.25 L458.73 466.37 L458.21 466.49 L457.72 466.66 L457.29 466.9 L456.93 467.22 L456.67 467.62 L456.52 468.09 L456.49 468.58 L456.57 469.06 L456.77 469.5 L457.07 469.87 L457.46 470.16 L457.91 470.37 L458.42 470.52 L458.94 470.64 L459.46 470.78 L459.95 470.95 L460.38 471.2 L460.73 471.52 L460.98 471.93 L461.13 472.39 L461.16 472.88 L461.07 473.36 L460.87 473.8 L460.56 474.17 L460.17 474.45 L459.71 474.66 L459.2 474.8 L458.68 474.92 L458.16 475.04 L457.67 475.21 L457.23 475.45 L456.88 475.77 L456.62 476.18 L456.47 476.64 L456.44 477.13 L456.52 477.61 L456.72 478.05 L457.02 478.42 L457.41 478.71 L457.86 478.92 L458.37 479.07 L458.89 479.2 L459.41 479.33 L459.9 479.5 L460.33 479.75 L460.68 480.07 L460.93 480.48 L461.07 480.94 L461.1 481.43 L461.01 481.92 L460.81 482.35 L460.51 482.72 L460.11 483 L459.65 483.21 L459.15 483.35 L458.62 483.47 L458.1 483.59 L457.61 483.76 L457.18 484 L456.83 484.33 L456.57 484.73 L456.42 485.19 L456.38 485.68 L456.47 486.16 L456.66 486.6 L456.97 486.97 L457.36 487.26 L457.81 487.47 L458.32 487.62 L458.84 487.75 L459.36 487.88 L459.85 488.05 L460.28 488.3 L460.63 488.63 L460.88 489.03 L461.02 489.5 L461.05 489.99 L460.96 490.47 L460.76 490.91 L460.45 491.27 L460.06 491.55 L459.6 491.76 L459.09 491.9 L458.57 492.02 L458.05 492.14 L457.56 492.31 L457.13 492.55 L456.77 492.88 L456.52 493.28 L456.37 493.74 L456.33 494.23 L456.42 494.72 L456.61 495.16 L456.92 495.53 L457.31 495.81 L457.76 496.02 L458.27 496.17 L458.79 496.3 L459.31 496.43 L459.8 496.6 L460.23 496.85 L460.57 497.18 L460.83 497.58 L460.97 498.05 L461 498.54 L460.91 499.02 L460.71 499.46 L460.4 499.82 L460.01 500.11 L459.54 500.31 L459.04 500.45 L458.51 500.57 L457.99 500.7 L457.5 500.87 L457.07 501.11 L456.72 501.43 L456.46 501.83 L456.31 502.3 L456.28 502.79 L456.36 503.27 L456.56 503.71 L456.86 504.08 L457.26 504.36 L457.71 504.57 L458.22 504.72 L458.74 504.85 L459.26 504.98 L459.75 505.15 L460.18 505.4 L460.52 505.73 L460.78 506.14 L460.92 506.6 L460.95 507.09 L460.86 507.57 L460.65 508.01 L460.35 508.37 L459.95 508.66 L459.49 508.86 L458.98 509 L458.46 509.12 L457.94 509.25 L457.45 509.42 L457.02 509.66 L456.67 509.98 L456.41 510.38 L456.26 510.85 L458.55 515.5" stroke="#000" fill="none" stroke-width="1.1" stroke-linejoin="round"/>
<path d="M458.5 523.5 L455.07 511.98 L458.56 514.4 L462.07 512.02 Z" stroke="none" fill="#000" stroke-width="1.2" />
<text x="471.5" y="233" font-family='"Liberation Sans", Arial, sans-serif' font-size="15" fill="#0c0c0c" >F</text>
<line x1="474" y1="59.5" x2="536.85" y2="149.02" stroke="#000" stroke-width="1.45" stroke-dasharray="3 3.3"/>
<path d="M542.6 157.2 L531.69 148.97 L536.74 148.85 L538.57 144.15 Z" stroke="none" fill="#000" stroke-width="1.2" />
<text x="482.7" y="130.5" font-family='"Liberation Sans", Arial, sans-serif' font-size="16" fill="#0c0c0c" >ISC</text>
<line x1="539.3" y1="167.7" x2="602.3" y2="167.7" stroke="#1414f0" stroke-width="4" />
<text x="549.5" y="159.4" font-family='"Liberation Sans", Arial, sans-serif' font-size="15.7" fill="#0c0c0c" >T<tspan font-size="10.4" dy="-6.3">1*</tspan></text>
<text x="574" y="159.4" font-family='"Liberation Sans", Arial, sans-serif' font-size="13.8" fill="#0c0c0c" textLength="46.3" lengthAdjust="spacingAndGlyphs" >3.91 eV</text>
<line x1="558.4" y1="212.9" x2="620.7" y2="212.9" stroke="#8a0a4a" stroke-width="4" />
<text x="553.7" y="202.3" font-family='"Liberation Sans", Arial, sans-serif' font-size="15.7" fill="#0c0c0c" >T<tspan font-size="10.4" dy="-6.3">1</tspan></text>
<text x="591" y="207.3" font-family='"Liberation Sans", Arial, sans-serif' font-size="13.8" fill="#0c0c0c" textLength="47" lengthAdjust="spacingAndGlyphs" >3.33 eV</text>
<line x1="576.7" y1="169.7" x2="576.7" y2="199.9" stroke="#1414f0" stroke-width="1.4" stroke-dasharray="2.6 3"/>
<path d="M576.7 211.1 L572.5 197.9 L576.7 200.9 L580.9 197.9 Z" stroke="none" fill="#1414f0" stroke-width="1.2" />
<text x="585" y="193.5" font-family='"Liberation Sans", Arial, sans-serif' font-size="15" fill="#0c0c0c" >SR</text>
<path d="M547.5 171.3 L546.96 171.32 L546.44 171.39 L545.96 171.52 L545.54 171.76 L545.19 172.08 L544.93 172.5 L544.78 172.97 L544.75 173.46 L544.83 173.94 L545.04 174.37 L545.34 174.74 L545.74 175.05 L546.2 175.3 L546.69 175.52 L547.18 175.75 L547.64 176 L548.03 176.31 L548.33 176.68 L548.53 177.12 L548.62 177.6 L548.58 178.09 L548.43 178.56 L548.17 178.97 L547.82 179.29 L547.39 179.52 L546.91 179.66 L546.39 179.72 L545.85 179.74 L545.31 179.77 L544.8 179.83 L544.32 179.97 L543.89 180.21 L543.55 180.54 L543.29 180.95 L543.15 181.42 L543.12 181.91 L543.2 182.39 L543.41 182.83 L543.72 183.2 L544.12 183.5 L544.58 183.75 L545.07 183.97 L545.56 184.2 L546.01 184.45 L546.4 184.76 L546.71 185.14 L546.9 185.57 L546.98 186.05 L546.94 186.54 L546.79 187.01 L546.52 187.42 L546.17 187.74 L545.74 187.97 L545.26 188.1 L544.74 188.16 L544.2 188.19 L543.67 188.21 L543.15 188.28 L542.67 188.42 L542.25 188.66 L541.91 188.99 L541.65 189.41 L541.51 189.88 L541.48 190.37 L541.57 190.85 L541.78 191.28 L542.09 191.65 L542.49 191.95 L542.95 192.2 L543.44 192.42 L543.93 192.64 L544.39 192.9 L544.78 193.21 L545.08 193.59 L545.27 194.03 L545.35 194.51 L545.3 195 L545.15 195.47 L544.88 195.87 L544.53 196.19 L544.1 196.42 L543.61 196.55 L543.09 196.61 L542.55 196.63 L542.02 196.66 L541.5 196.72 L541.02 196.87 L540.61 197.11 L540.26 197.44 L540.01 197.86 L539.87 198.33 L539.85 198.83 L539.94 199.3 L540.15 199.73 L540.47 200.1 L540.87 200.4 L541.33 200.65 L541.82 200.87 L542.31 201.09 L542.76 201.35 L543.15 201.66 L543.45 202.04 L543.64 202.48 L543.71 202.96 L543.67 203.45 L543.51 203.92 L543.24 204.33 L542.88 204.64 L542.45 204.87 L541.97 205 L541.44 205.05 L540.91 205.07 L540.37 205.1 L539.85 205.17 L539.38 205.32 L538.96 205.56 L538.62 205.9 L538.37 206.32 L538.24 206.79 L538.21 207.28 L538.31 207.76 L538.52 208.19 L538.84 208.55 L539.25 208.85 L539.71 209.1 L540.2 209.32 L540.69 209.54 L541.14 209.8 L541.53 210.12 L541.82 210.5 L542.01 210.94 L542.08 211.42 L542.03 211.91 L541.87 212.37 L541.6 212.78 L541.24 213.09 L540.8 213.31 L540.32 213.44 L539.8 213.5 L539.26 213.52 L538.72 213.54 L538.21 213.62 L537.73 213.76 L537.32 214.01 L536.98 214.35 L536.73 214.77 L536.6 215.24 L536.58 215.74 L536.68 216.21 L536.9 216.64 L537.22 217 L537.62 217.3 L538.09 217.55 L538.58 217.77 L539.06 217.99 L539.52 218.25 L539.9 218.57 L540.19 218.95 L540.38 219.39 L540.44 219.87 L540.39 220.37 L540.22 220.83 L539.95 221.23 L539.59 221.54 L539.16 221.76 L538.67 221.89 L538.15 221.94 L537.61 221.96 L537.07 221.99 L536.56 222.06 L536.09 222.21 L535.67 222.46 L535.34 222.8 L535.1 223.22 L534.96 223.7 L534.95 224.19 L535.05 224.67 L535.27 225.09 L535.59 225.45 L536 225.75 L536.46 226 L536.96 226.22 L537.44 226.44 L537.89 226.7 L538.27 227.02 L538.56 227.4 L538.75 227.85 L538.81 228.33 L538.75 228.82 L538.58 229.28 L538.31 229.68 L537.95 229.99 L537.51 230.21 L537.02 230.33 L536.5 230.38 L535.96 230.41 L535.42 230.43 L534.91 230.51 L534.44 230.66 L534.03 230.91 L533.69 231.25 L533.46 231.68 L533.33 232.16 L533.31 232.65 L533.42 233.12 L533.64 233.54 L533.97 233.9 L534.37 234.2 L534.84 234.45 L535.33 234.67 L535.82 234.89 L536.27 235.15 L536.65 235.47 L536.93 235.86 L537.11 236.3 L537.17 236.79 L537.12 237.28 L536.94 237.74 L536.67 238.13 L536.3 238.44 L535.87 238.66 L535.38 238.78 L534.85 238.83 L534.31 238.85 L533.78 238.88 L533.26 238.95 L532.79 239.11 L532.38 239.36 L532.05 239.71 L531.82 240.13 L531.69 240.61 L531.68 241.1 L531.79 241.58 L532.01 242 L532.34 242.36 L532.75 242.65 L533.22 242.89 L533.71 243.11 L534.2 243.34 L534.64 243.6 L535.02 243.92 L535.31 244.31 L535.48 244.76 L535.54 245.24 L535.48 245.73 L535.3 246.19 L535.02 246.59 L534.66 246.89 L534.22 247.1 L533.73 247.22 L533.2 247.27 L532.66 247.29 L532.13 247.32 L531.62 247.4 L531.15 247.56 L530.74 247.81 L530.41 248.16 L530.18 248.59 L530.05 249.07 L530.04 249.56 L530.16 250.03 L530.38 250.45 L530.71 250.81 L531.13 251.1 L531.6 251.34 L532.09 251.56 L532.57 251.79 L533.02 252.05 L533.39 252.38 L533.68 252.76 L533.85 253.21 L533.91 253.7 L533.84 254.19 L533.66 254.65 L533.38 255.04 L533.01 255.34 L532.57 255.55 L532.08 255.67 L531.55 255.72 L531.02 255.74 L530.48 255.77 L529.97 255.85 L529.5 256.01 L529.09 256.26 L528.77 256.61 L528.54 257.04 L528.42 257.52 L528.41 258.01 L528.53 258.48 L528.76 258.9 L529.09 259.26 L529.5 259.55 L529.97 259.79 L530.47 260.01 L530.95 260.24 L531.39 260.5 L531.77 260.83 L532.05 261.22 L532.22 261.67 L532.27 262.15 L532.2 262.64 L532.02 263.1 L531.74 263.49 L531.37 263.79 L530.93 264 L530.43 264.11 L529.91 264.16 L529.37 264.18 L528.83 264.21 L528.32 264.29 L527.86 264.45 L527.45 264.71 L527.13 265.07 L526.9 265.5 L526.78 265.98 L526.78 266.47 L526.9 266.94 L527.13 267.36 L527.46 267.71 L527.88 268 L528.35 268.24 L528.84 268.46 L529.33 268.69 L529.77 268.95 L530.14 269.28 L530.42 269.67 L530.59 270.12 L530.64 270.61 L530.56 271.1 L530.38 271.55 L530.09 271.94 L529.72 272.24 L529.28 272.44 L528.78 272.56 L528.26 272.6 L527.72 272.62 L527.18 272.65 L526.68 272.74 L526.21 272.9 L525.81 273.16 L525.48 273.52 L525.26 273.95 L525.14 274.43 L525.14 274.93 L525.27 275.39 L525.5 275.81 L525.84 276.16 L526.26 276.45 L526.73 276.69 L527.22 276.91 L527.7 277.14 L528.15 277.41 L528.51 277.73 L528.79 278.13 L528.95 278.58 L529 279.06 L528.93 279.55 L528.74 280.01 L528.45 280.4 L528.08 280.69 L527.63 280.89 L527.14 281 L526.61 281.05 L526.07 281.07 L525.54 281.1 L525.03 281.18 L524.56 281.35 L524.16 281.61 L523.84 281.97 L523.62 282.41 L523.51 282.89 L523.51 283.38 L523.64 283.85 L523.87 284.26 L524.21 284.61 L524.63 284.9 L525.11 285.14 L525.6 285.36 L526.08 285.59 L526.52 285.86 L526.89 286.18 L527.16 286.58 L527.32 287.03 L527.36 287.52 L527.29 288.01 L527.1 288.46 L526.81 288.85 L526.43 289.14 L525.98 289.34 L525.49 289.45 L524.96 289.49 L524.42 289.51 L523.89 289.54 L523.38 289.63 L522.92 289.8 L522.52 290.07 L522.2 290.43 L521.98 290.86 L521.87 291.35 L521.88 291.84 L522.01 292.3 L522.25 292.72 L522.59 293.06 L523.01 293.35 L523.48 293.59 L523.98 293.81 L524.46 294.04 L524.9 294.31 L525.26 294.64 L525.53 295.03 L525.69 295.49 L525.73 295.98 L525.65 296.46 L525.46 296.92 L525.16 297.3 L524.79 297.59 L524.34 297.79 L523.84 297.89 L523.31 297.94 L522.77 297.95 L522.24 297.99 L521.73 298.08 L521.27 298.25 L520.87 298.52 L520.56 298.88 L520.34 299.32 L520.23 299.8 L520.25 300.29 L520.38 300.76 L520.62 301.17 L520.96 301.52 L521.39 301.8 L521.86 302.04 L522.35 302.25 L522.84 302.49 L523.27 302.76 L523.63 303.09 L523.9 303.49 L524.06 303.94 L524.09 304.43 L524.01 304.92 L523.82 305.37 L523.52 305.75 L523.14 306.04 L522.69 306.23 L522.19 306.34 L521.66 306.38 L521.12 306.4 L520.59 306.43 L520.09 306.52 L519.63 306.7 L519.23 306.97 L518.92 307.33 L518.7 307.77 L518.6 308.26 L518.61 308.75 L518.75 309.21 L518.99 309.62 L519.34 309.97 L519.76 310.25 L520.24 310.49 L520.73 310.7 L521.21 310.93 L521.65 311.21 L522.01 311.54 L522.27 311.94 L522.42 312.4 L522.46 312.89 L522.37 313.37 L522.18 313.82 L521.88 314.2 L521.49 314.49 L521.04 314.68 L520.54 314.78 L520.02 314.82 L519.48 314.84 L518.94 314.88 L518.44 314.97 L517.98 315.15 L517.59 315.42 L517.28 315.79 L517.06 316.23 L516.96 316.71 L516.98 317.2 L517.12 317.67 L517.37 318.07 L517.71 318.42 L518.14 318.7 L518.62 318.93 L519.11 319.15 L519.59 319.38 L520.02 319.66 L520.38 319.99 L520.64 320.4 L520.79 320.85 L520.82 321.34 L520.74 321.83 L520.53 322.28 L520.23 322.65 L519.85 322.94 L519.4 323.13 L518.9 323.23 L518.37 323.27 L517.83 323.29 L517.3 323.32 L516.79 323.42 L516.34 323.59 L515.94 323.87 L515.63 324.24 L515.42 324.68 L515.33 325.17 L515.35 325.66 L515.49 326.12 L515.74 326.53 L516.09 326.87 L516.52 327.15 L516.99 327.38 L517.49 327.6 L517.97 327.83 L518.4 328.11 L518.75 328.45 L519.01 328.85 L519.16 329.31 L519.19 329.8 L519.1 330.28 L518.89 330.73 L518.59 331.11 L518.2 331.39 L517.75 331.57 L517.25 331.67 L516.72 331.71 L516.18 331.73 L515.65 331.77 L515.15 331.86 L514.69 332.04 L514.3 332.32 L513.99 332.69 L513.79 333.14 L513.69 333.62 L513.71 334.11 L513.86 334.57 L514.11 334.98 L514.46 335.32 L514.89 335.6 L515.37 335.83 L515.86 336.05 L516.34 336.28 L516.77 336.56 L517.13 336.9 L517.38 337.3 L517.53 337.76 L517.55 338.25 L517.46 338.74 L517.25 339.18 L516.95 339.56 L516.56 339.84 L516.1 340.02 L515.6 340.12 L515.07 340.15 L514.53 340.17 L514 340.21 L513.5 340.31 L513.04 340.49 L512.66 340.77 L512.35 341.15 L512.15 341.59 L512.05 342.08 L512.08 342.57 L512.23 343.03 L512.48 343.43 L512.84 343.77 L513.27 344.05 L513.75 344.28 L514.24 344.5 L514.72 344.73 L515.15 345.01 L515.5 345.35 L515.75 345.76 L515.89 346.22 L515.92 346.71 L515.82 347.19 L515.61 347.64 L515.3 348.01 L514.91 348.29 L514.46 348.47 L513.95 348.56 L513.42 348.6 L512.88 348.62 L512.35 348.66 L511.85 348.76 L511.4 348.94 L511.01 349.23 L510.71 349.6 L510.51 350.05 L510.42 350.53 L510.45 351.02 L510.6 351.48 L510.86 351.88 L511.21 352.22 L511.65 352.5 L512.13 352.73 L512.62 352.95 L513.1 353.18 L513.52 353.46 L513.87 353.8 L514.12 354.21 L514.26 354.67 L514.28 355.17 L514.18 355.65 L513.97 356.09 L513.66 356.46 L513.27 356.74 L512.81 356.91 L512.31 357.01 L511.77 357.04 L511.23 357.06 L510.7 357.1 L510.2 357.2 L509.75 357.39 L509.37 357.68 L509.07 358.06 L508.87 358.5 L508.78 358.99 L508.82 359.48 L508.97 359.94 L509.23 360.34 L509.59 360.67 L510.02 360.95 L510.5 361.18 L511 361.4 L511.47 361.63 L511.9 361.91 L512.25 362.26 L512.49 362.67 L512.63 363.13 L512.64 363.62 L512.54 364.1 L512.33 364.54 L512.02 364.91 L511.62 365.18 L511.16 365.36 L510.66 365.45 L510.13 365.49 L509.59 365.5 L509.06 365.55 L508.56 365.65 L508.11 365.84 L507.73 366.13 L507.43 366.51 L507.23 366.96 L507.15 367.45 L507.18 367.93 L507.34 368.39 L507.6 368.79 L507.97 369.12 L508.4 369.4 L508.88 369.63 L509.38 369.84 L509.85 370.08 L510.27 370.36 L510.62 370.71 L510.86 371.12 L511 371.59 L511.01 372.08 L510.9 372.56 L510.69 373 L510.37 373.36 L509.98 373.63 L509.52 373.81 L509.01 373.89 L508.48 373.93 L507.94 373.95 L507.41 373.99 L506.91 374.1 L506.46 374.29 L506.08 374.58 L505.79 374.96 L505.59 375.41 L505.51 375.9 L505.55 376.39 L505.71 376.84 L505.98 377.24 L506.34 377.57 L506.78 377.84 L507.26 378.08 L507.75 378.29 L508.23 378.53 L508.65 378.82 L508.99 379.16 L509.23 379.58 L509.36 380.04 L509.37 380.53 L509.26 381.01 L509.04 381.45 L508.73 381.81 L508.33 382.08 L507.87 382.25 L507.36 382.34 L506.83 382.37 L506.29 382.39 L505.76 382.44 L505.26 382.54 L504.82 382.74 L504.44 383.03 L504.15 383.42 L503.96 383.87 L503.88 384.36 L503.92 384.84 L504.08 385.3 L504.35 385.69 L504.72 386.02 L505.15 386.29 L505.64 386.52 L506.13 386.74 L506.6 386.98 L507.02 387.27 L507.36 387.62 L507.6 388.03 L507.73 388.5 L507.74 388.99 L507.62 389.47 L507.4 389.91 L507.08 390.26 L506.68 390.53 L506.22 390.7 L505.71 390.78 L505.18 390.82 L504.64 390.84 L504.11 390.88 L503.62 390.99 L503.17 391.19 L502.79 391.48 L502.51 391.87 L502.32 392.32 L502.24 392.81 L502.29 393.3 L502.45 393.75 L502.72 394.15 L503.09 394.47 L503.53 394.74 L504.01 394.97 L504.51 395.19 L504.98 395.43 L505.4 395.72 L505.74 396.07 L505.97 396.48 L506.1 396.95 L506.1 397.44 L505.99 397.92 L505.76 398.36 L505.44 398.72 L505.04 398.98 L504.57 399.14 L504.06 399.23 L503.53 399.26 L502.99 399.28 L502.46 399.33 L501.97 399.44 L501.53 399.64 L501.15 399.94 L500.86 400.32 L500.68 400.78 L500.61 401.27 L500.65 401.76 L500.82 402.21 L501.1 402.6 L501.47 402.93 L501.91 403.19 L502.39 403.42 L502.89 403.64 L503.36 403.88 L503.77 404.17 L504.11 404.52 L504.34 404.94 L504.46 405.41 L504.46 405.9 L504.35 406.38 L504.12 406.81 L503.8 407.17 L503.39 407.43 L502.93 407.59 L502.42 407.67 L501.88 407.7 L501.34 407.72 L500.82 407.77 L500.32 407.88 L499.88 408.09 L499.51 408.39 L499.22 408.78 L499.04 409.24 L498.97 409.72 L499.02 410.21 L499.19 410.66 L499.47 411.05 L499.84 411.38 L500.29 411.64 L500.77 411.87 L501.26 412.09 L501.73 412.33 L502.15 412.62 L502.48 412.97 L502.71 413.39 L502.83 413.86 L502.83 414.35 L502.71 414.83 L502.48 415.27 L502.15 415.62 L501.75 415.88 L501.28 416.04 L500.77 416.12 L500.23 416.15 L499.69 416.17 L499.17 416.22 L498.68 416.33 L498.24 416.54 L497.87 416.84 L497.58 417.23 L497.4 417.69 L497.34 418.18 L497.39 418.67 L497.56 419.11 L497.84 419.5 L498.22 419.83 L498.66 420.09 L499.15 420.32 L499.64 420.54 L500.11 420.78 L500.52 421.07 L500.85 421.43 L501.08 421.85 L501.2 422.32 L501.19 422.81 L501.07 423.29 L500.84 423.72 L500.51 424.07 L500.1 424.32 L499.63 424.48 L499.12 424.56 L498.59 424.59 L498.05 424.61 L497.52 424.66 L497.03 424.78 L496.59 424.99 L496.22 425.29 L495.94 425.69 L495.76 426.15 L495.7 426.64 L495.76 427.12 L495.93 427.57 L496.22 427.96 L496.59 428.28 L497.04 428.54 L497.52 428.77 L498.02 428.99 L498.49 429.23 L498.9 429.52 L499.23 429.88 L499.45 430.3 L499.56 430.77 L499.55 431.27 L499.43 431.74 L499.19 432.17 L498.86 432.52 L498.45 432.77 L497.98 432.93 L497.47 433.01 L496.94 433.04 L496.4 433.05 L495.87 433.11 L495.38 433.23 L494.95 433.44 L494.58 433.74 L494.3 434.14 L494.13 434.6 L494.07 435.09 L494.13 435.58 L494.3 436.02 L494.59 436.41 L494.97 436.73 L495.42 436.99 L495.9 437.22 L496.4 437.44 L496.86 437.68 L497.27 437.97 L497.6 438.33 L497.82 438.76 L497.93 439.23 L497.92 439.72 L497.79 440.2 L497.55 440.62 L497.22 440.97 L496.81 441.22 L496.34 441.38 L495.82 441.45 L495.29 441.48 L494.75 441.5 L494.23 441.55 L493.74 441.67 L493.3 441.89 L492.94 442.2 L492.66 442.6 L492.49 443.06 L492.43 443.55 L492.49 444.03 L492.68 444.48 L492.96 444.86 L493.35 445.18 L493.79 445.44 L494.28 445.66 L494.77 445.88 L495.24 446.13 L495.65 446.43 L495.97 446.79 L496.19 447.21 L496.3 447.68 L496.28 448.18 L496.15 448.65 L495.91 449.08 L495.58 449.42 L495.16 449.67 L494.69 449.82 L494.18 449.9 L493.64 449.92 L493.1 449.94 L492.58 450 L492.09 450.12 L491.66 450.34 L491.29 450.65 L491.02 451.05 L490.85 451.51 L490.8 452 L490.86 452.49 L491.05 452.93 L491.34 453.31 L491.72 453.63 L492.17 453.89 L492.66 454.11 L493.15 454.33 L493.61 454.58 L494.02 454.88 L494.34 455.24 L494.56 455.67 L494.66 456.14 L494.64 456.63 L494.51 457.11 L494.27 457.53 L493.93 457.87 L493.52 458.12 L493.04 458.27 L492.53 458.34 L491.99 458.37 L491.45 458.39 L490.93 458.44 L490.44 458.57 L490.01 458.79 L489.65 459.1 L489.38 459.5 L489.21 459.97 L489.16 460.46 L489.23 460.94 L489.42 461.38 L489.71 461.76 L490.1 462.08 L490.55 462.34 L491.04 462.56 L491.53 462.78 L491.99 463.03 L492.39 463.33 L492.71 463.69 L492.93 464.12 L493.03 464.6 L493.01 465.09 L492.87 465.56 L492.63 465.98 L492.29 466.32 L491.87 466.57 L491.4 466.71 L490.88 466.78 L490.34 466.81 L489.8 466.83 L489.28 466.89 L488.8 467.02 L488.37 467.24 L488.01 467.55 L487.74 467.96 L487.58 468.42 L487.53 468.91 L487.6 469.4 L487.79 469.84 L488.09 470.22 L488.47 470.53 L488.92 470.79 L489.41 471.01 L489.9 471.23 L490.37 471.48 L490.77 471.78 L491.09 472.15 L491.3 472.58 L491.39 473.05 L491.37 473.54 L491.23 474.02 L490.98 474.44 L490.64 474.77 L490.22 475.01 L489.75 475.16 L489.23 475.23 L488.69 475.25 L488.16 475.27 L487.64 475.33 L487.15 475.46 L486.72 475.69 L486.36 476.01 L486.1 476.41 L485.94 476.88 L485.89 477.37 L485.97 477.85 L486.16 478.29 L486.46 478.67 L486.85 478.98 L487.3 479.24 L487.79 479.46 L488.28 479.68 L488.74 479.93 L489.14 480.23 L489.46 480.6 L489.67 481.03 L489.76 481.51 L489.73 482 L489.59 482.47 L489.34 482.89 L489 483.22 L488.58 483.46 L488.1 483.6 L487.58 483.67 L487.05 483.7 L486.51 483.72 L485.99 483.78 L485.5 483.91 L485.08 484.14 L484.72 484.46 L484.46 484.87 L484.3 485.33 L484.26 485.83 L484.34 486.31 L484.53 486.74 L484.83 487.12 L485.22 487.43 L485.68 487.69 L486.17 487.91 L486.66 488.13 L487.12 488.38 L487.52 488.68 L487.83 489.05 L488.04 489.49 L488.13 489.96 L488.1 490.45 L487.95 490.93 L487.7 491.34 L487.35 491.67 L486.93 491.91 L486.45 492.05 L485.94 492.12 L485.4 492.14 L484.86 492.16 L484.34 492.22 L483.86 492.36 L483.43 492.59 L483.08 492.91 L482.82 493.32 L482.66 493.79 L482.63 494.28 L482.71 494.76 L482.9 495.2 L483.21 495.57 L483.6 495.88 L484.06 496.13 L484.55 496.36 L485.04 496.58 L485.5 496.83 L485.89 497.14 L486.2 497.51 L486.41 497.94 L486.49 498.42 L486.46 498.91 L486.31 499.38 L486.06 499.79 L485.71 500.12 L485.29 500.36 L484.81 500.5 L484.29 500.56 L483.75 500.58 L483.21 500.61 L482.69 500.67 L482.21 500.81 L481.79 501.04 L481.44 501.36 L481.18 501.78 L481.03 502.24 L480.99 502.74 L481.07 503.22 L481.28 503.65 L481.58 504.02 L479.51 515.84" stroke="#1414f0" fill="none" stroke-width="1.08" stroke-linejoin="round"/>
<path d="M477.2 523.5 L477.15 511.16 L479.88 514.59 L484.05 513.24 Z" stroke="none" fill="#1414f0" stroke-width="1.2" />
<text x="544" y="245.3" font-family='"Liberation Sans", Arial, sans-serif' font-size="15" fill="#1414f0" >P</text>
<path d="M571 222.3 L570.46 222.31 L569.94 222.35 L569.46 222.48 L569.03 222.69 L568.67 223.01 L568.4 223.42 L568.23 223.88 L568.18 224.37 L568.25 224.85 L568.44 225.29 L568.74 225.67 L569.12 225.99 L569.57 226.26 L570.05 226.5 L570.54 226.73 L570.99 227 L571.37 227.32 L571.66 227.7 L571.85 228.14 L571.92 228.62 L571.87 229.11 L571.7 229.58 L571.43 229.98 L571.07 230.3 L570.64 230.51 L570.16 230.63 L569.64 230.68 L569.1 230.69 L568.56 230.69 L568.04 230.74 L567.56 230.87 L567.13 231.08 L566.77 231.4 L566.5 231.81 L566.34 232.27 L566.29 232.76 L566.36 233.24 L566.55 233.68 L566.84 234.06 L567.23 234.38 L567.68 234.65 L568.16 234.89 L568.64 235.12 L569.09 235.39 L569.48 235.71 L569.77 236.09 L569.96 236.53 L570.02 237.02 L569.97 237.51 L569.8 237.97 L569.53 238.37 L569.17 238.69 L568.74 238.9 L568.25 239.02 L567.73 239.07 L567.2 239.08 L566.66 239.08 L566.14 239.13 L565.66 239.26 L565.23 239.48 L564.87 239.79 L564.6 240.2 L564.44 240.67 L564.39 241.16 L564.46 241.64 L564.65 242.08 L564.95 242.46 L565.34 242.77 L565.79 243.04 L566.27 243.28 L566.75 243.51 L567.2 243.78 L567.58 244.1 L567.88 244.49 L568.06 244.93 L568.13 245.41 L568.07 245.9 L567.9 246.36 L567.63 246.76 L567.27 247.08 L566.84 247.29 L566.35 247.41 L565.83 247.46 L565.29 247.46 L564.76 247.47 L564.24 247.52 L563.75 247.65 L563.33 247.87 L562.97 248.19 L562.7 248.59 L562.54 249.06 L562.49 249.55 L562.57 250.03 L562.76 250.47 L563.06 250.85 L563.44 251.16 L563.89 251.43 L564.38 251.67 L564.86 251.9 L565.31 252.17 L565.69 252.49 L565.98 252.88 L566.16 253.32 L566.23 253.8 L566.18 254.29 L566.01 254.75 L565.73 255.16 L565.37 255.47 L564.94 255.68 L564.45 255.8 L563.93 255.85 L563.39 255.85 L562.86 255.86 L562.34 255.91 L561.85 256.04 L561.42 256.26 L561.07 256.58 L560.8 256.99 L560.64 257.45 L560.6 257.94 L560.67 258.42 L560.86 258.86 L561.16 259.24 L561.55 259.56 L562 259.82 L562.49 260.06 L562.97 260.29 L563.41 260.56 L563.8 260.88 L564.09 261.27 L564.27 261.71 L564.33 262.19 L564.28 262.68 L564.11 263.15 L563.83 263.55 L563.47 263.86 L563.04 264.07 L562.55 264.19 L562.03 264.24 L561.49 264.24 L560.95 264.25 L560.43 264.3 L559.95 264.43 L559.52 264.65 L559.17 264.97 L558.9 265.38 L558.74 265.84 L558.7 266.34 L558.78 266.81 L558.97 267.25 L559.27 267.63 L559.66 267.95 L560.11 268.21 L560.59 268.45 L561.08 268.69 L561.52 268.95 L561.9 269.28 L562.19 269.66 L562.37 270.11 L562.44 270.59 L562.38 271.08 L562.21 271.54 L561.93 271.94 L561.57 272.25 L561.14 272.46 L560.65 272.58 L560.13 272.62 L559.59 272.63 L559.05 272.64 L558.53 272.69 L558.05 272.82 L557.62 273.04 L557.27 273.36 L557.01 273.77 L556.85 274.24 L556.8 274.73 L556.88 275.21 L557.07 275.64 L557.38 276.02 L557.77 276.34 L558.22 276.6 L558.7 276.84 L559.18 277.08 L559.63 277.35 L560.01 277.67 L560.3 278.05 L560.48 278.5 L560.54 278.98 L560.48 279.47 L560.31 279.93 L560.03 280.33 L559.67 280.64 L559.23 280.85 L558.75 280.97 L558.23 281.01 L557.69 281.02 L557.15 281.03 L556.63 281.08 L556.15 281.21 L555.72 281.43 L555.37 281.75 L555.11 282.16 L554.95 282.63 L554.91 283.12 L554.99 283.6 L555.18 284.04 L555.48 284.41 L555.87 284.73 L556.33 284.99 L556.81 285.23 L557.29 285.47 L557.74 285.74 L558.12 286.06 L558.4 286.45 L558.58 286.89 L558.64 287.37 L558.58 287.86 L558.41 288.32 L558.13 288.72 L557.77 289.03 L557.33 289.24 L556.85 289.36 L556.32 289.4 L555.79 289.41 L555.25 289.41 L554.73 289.47 L554.25 289.6 L553.82 289.82 L553.47 290.15 L553.21 290.55 L553.05 291.02 L553.01 291.51 L553.09 291.99 L553.29 292.43 L553.59 292.81 L553.98 293.12 L554.43 293.38 L554.92 293.62 L555.4 293.86 L555.84 294.13 L556.22 294.45 L556.51 294.84 L556.69 295.28 L556.75 295.77 L556.69 296.26 L556.51 296.72 L556.23 297.11 L555.87 297.42 L555.43 297.63 L554.94 297.75 L554.42 297.79 L553.88 297.79 L553.35 297.8 L552.83 297.86 L552.35 297.99 L551.92 298.21 L551.57 298.54 L551.31 298.95 L551.15 299.42 L551.11 299.91 L551.19 300.38 L551.39 300.82 L551.7 301.2 L552.09 301.51 L552.54 301.77 L553.03 302.01 L553.51 302.25 L553.95 302.52 L554.33 302.84 L554.61 303.23 L554.79 303.68 L554.85 304.16 L554.79 304.65 L554.61 305.11 L554.33 305.51 L553.97 305.81 L553.53 306.02 L553.04 306.14 L552.52 306.18 L551.98 306.18 L551.44 306.19 L550.93 306.24 L550.45 306.38 L550.02 306.6 L549.67 306.93 L549.41 307.34 L549.26 307.81 L549.22 308.3 L549.3 308.78 L549.5 309.21 L549.8 309.59 L550.2 309.9 L550.65 310.16 L551.13 310.4 L551.61 310.64 L552.06 310.91 L552.44 311.23 L552.72 311.62 L552.9 312.07 L552.95 312.55 L552.89 313.04 L552.71 313.5 L552.43 313.9 L552.07 314.2 L551.63 314.41 L551.14 314.52 L550.62 314.57 L550.08 314.57 L549.54 314.58 L549.03 314.63 L548.55 314.77 L548.12 314.99 L547.77 315.32 L547.51 315.73 L547.36 316.2 L547.32 316.69 L547.4 317.17 L547.6 317.6 L547.91 317.98 L548.3 318.29 L548.76 318.55 L549.24 318.79 L549.72 319.03 L550.17 319.3 L550.54 319.63 L550.83 320.02 L551 320.46 L551.06 320.94 L550.99 321.43 L550.82 321.89 L550.53 322.29 L550.17 322.59 L549.73 322.8 L549.24 322.91 L548.72 322.95 L548.18 322.96 L547.64 322.97 L547.12 323.02 L546.64 323.16 L546.22 323.38 L545.87 323.71 L545.61 324.12 L545.46 324.59 L545.42 325.09 L545.51 325.56 L545.71 326 L546.02 326.37 L546.41 326.68 L546.86 326.94 L547.35 327.18 L547.83 327.42 L548.27 327.69 L548.65 328.02 L548.93 328.41 L549.1 328.85 L549.16 329.34 L549.1 329.83 L548.92 330.29 L548.63 330.68 L548.27 330.99 L547.83 331.19 L547.34 331.3 L546.81 331.34 L546.28 331.35 L545.74 331.36 L545.22 331.41 L544.74 331.55 L544.32 331.78 L543.97 332.1 L543.72 332.52 L543.56 332.99 L543.53 333.48 L543.61 333.96 L543.81 334.39 L544.12 334.76 L544.52 335.07 L544.97 335.34 L545.46 335.57 L545.94 335.81 L546.38 336.08 L546.75 336.41 L547.04 336.8 L547.21 337.25 L547.26 337.73 L547.2 338.22 L547.02 338.68 L546.74 339.07 L546.37 339.38 L545.93 339.58 L545.44 339.69 L544.91 339.73 L544.37 339.74 L543.84 339.74 L543.32 339.8 L542.84 339.93 L542.42 340.17 L542.07 340.5 L541.82 340.91 L541.67 341.38 L541.63 341.87 L541.72 342.35 L541.92 342.78 L542.23 343.15 L542.62 343.47 L543.08 343.73 L543.57 343.96 L544.05 344.2 L544.49 344.47 L544.86 344.8 L545.14 345.19 L545.31 345.64 L545.37 346.12 L545.3 346.61 L545.12 347.07 L544.84 347.46 L544.47 347.77 L544.03 347.97 L543.53 348.08 L543.01 348.12 L542.47 348.12 L541.94 348.13 L541.42 348.19 L540.94 348.32 L540.52 348.56 L540.17 348.89 L539.92 349.3 L539.77 349.77 L539.74 350.26 L539.82 350.74 L540.03 351.17 L540.34 351.55 L540.73 351.86 L541.19 352.12 L541.67 352.35 L542.15 352.59 L542.59 352.87 L542.97 353.19 L543.25 353.58 L543.42 354.03 L543.47 354.52 L543.4 355.01 L543.22 355.46 L542.94 355.85 L542.56 356.16 L542.12 356.36 L541.63 356.47 L541.11 356.51 L540.57 356.51 L540.03 356.52 L539.52 356.58 L539.04 356.71 L538.62 356.95 L538.27 357.28 L538.02 357.69 L537.87 358.17 L537.84 358.66 L537.93 359.13 L538.13 359.57 L538.44 359.94 L538.84 360.25 L539.3 360.51 L539.78 360.74 L540.26 360.98 L540.7 361.26 L541.07 361.58 L541.35 361.98 L541.52 362.42 L541.57 362.91 L541.5 363.4 L541.32 363.86 L541.04 364.25 L540.66 364.55 L540.22 364.75 L539.73 364.86 L539.21 364.9 L538.67 364.9 L538.13 364.91 L537.62 364.97 L537.14 365.1 L536.72 365.34 L536.37 365.67 L536.12 366.09 L535.97 366.56 L535.94 367.05 L536.03 367.53 L536.24 367.96 L536.55 368.33 L536.95 368.64 L537.4 368.9 L537.89 369.13 L538.37 369.37 L538.81 369.65 L539.18 369.98 L539.46 370.37 L539.63 370.82 L539.68 371.3 L539.61 371.79 L539.42 372.25 L539.14 372.64 L538.76 372.94 L538.32 373.14 L537.83 373.25 L537.31 373.28 L536.77 373.29 L536.23 373.3 L535.72 373.36 L535.24 373.49 L534.82 373.73 L534.47 374.06 L534.22 374.48 L534.08 374.95 L534.05 375.44 L534.14 375.92 L534.34 376.35 L534.66 376.72 L535.05 377.03 L535.51 377.29 L536 377.52 L536.48 377.76 L536.92 378.04 L537.29 378.37 L537.56 378.76 L537.73 379.21 L537.78 379.7 L537.71 380.18 L537.52 380.64 L537.24 381.03 L536.86 381.33 L536.42 381.53 L535.93 381.64 L535.4 381.67 L534.86 381.68 L534.33 381.69 L533.81 381.75 L533.34 381.88 L532.92 382.12 L532.57 382.46 L532.32 382.87 L532.18 383.34 L532.15 383.84 L532.24 384.31 L532.45 384.74 L532.76 385.11 L533.16 385.42 L533.62 385.68 L534.1 385.91 L534.58 386.15 L535.02 386.43 L535.39 386.76 L535.67 387.15 L535.84 387.6 L535.88 388.09 L535.81 388.58 L535.62 389.03 L535.34 389.42 L534.96 389.72 L534.52 389.92 L534.03 390.02 L533.5 390.06 L532.96 390.06 L532.43 390.08 L531.91 390.14 L531.44 390.27 L531.02 390.51 L530.68 390.85 L530.42 391.26 L530.28 391.74 L530.25 392.23 L530.35 392.7 L530.56 393.13 L530.87 393.5 L531.27 393.81 L531.73 394.07 L532.21 394.3 L532.69 394.55 L533.13 394.82 L533.5 395.15 L533.77 395.55 L533.94 396 L533.99 396.48 L533.91 396.97 L533.72 397.42 L533.44 397.81 L533.06 398.11 L532.62 398.31 L532.13 398.41 L531.6 398.45 L531.06 398.45 L530.53 398.46 L530.01 398.52 L529.54 398.66 L529.12 398.9 L528.78 399.24 L528.53 399.66 L528.38 400.13 L528.36 400.62 L528.45 401.1 L528.66 401.53 L528.98 401.89 L529.38 402.2 L529.84 402.46 L530.32 402.69 L530.8 402.94 L531.24 403.21 L531.61 403.54 L531.88 403.94 L532.04 404.39 L532.09 404.87 L532.01 405.36 L531.83 405.82 L531.54 406.2 L531.16 406.5 L530.72 406.7 L530.22 406.8 L529.7 406.84 L529.16 406.84 L528.62 406.85 L528.11 406.91 L527.63 407.05 L527.22 407.29 L526.88 407.63 L526.63 408.05 L526.49 408.52 L526.46 409.01 L526.56 409.49 L526.77 409.92 L527.08 410.29 L527.48 410.59 L527.94 410.85 L528.43 411.09 L528.91 411.33 L529.34 411.6 L529.71 411.93 L529.99 412.33 L530.15 412.78 L530.19 413.27 L530.12 413.75 L529.93 414.21 L529.64 414.6 L529.26 414.89 L528.82 415.09 L528.32 415.19 L527.8 415.23 L527.26 415.23 L526.72 415.24 L526.21 415.3 L525.73 415.44 L525.32 415.68 L524.98 416.02 L524.73 416.44 L524.59 416.92 L524.56 417.41 L524.66 417.88 L524.87 418.31 L525.19 418.68 L525.59 418.98 L526.05 419.24 L526.54 419.48 L527.01 419.72 L527.45 419.99 L527.82 420.33 L528.09 420.72 L528.25 421.17 L528.29 421.66 L528.22 422.15 L528.03 422.6 L527.74 422.99 L527.36 423.28 L526.91 423.48 L526.42 423.58 L525.89 423.61 L525.36 423.62 L524.82 423.63 L524.31 423.69 L523.83 423.84 L523.42 424.08 L523.08 424.41 L522.83 424.84 L522.69 425.31 L522.67 425.8 L522.77 426.27 L522.98 426.7 L523.3 427.07 L523.7 427.37 L524.16 427.63 L524.64 427.87 L525.12 428.11 L525.56 428.38 L525.93 428.72 L526.2 429.11 L526.36 429.57 L526.4 430.05 L526.32 430.54 L526.13 430.99 L525.84 431.38 L525.46 431.67 L525.01 431.87 L524.52 431.97 L523.99 432 L523.45 432.01 L522.92 432.02 L522.41 432.08 L521.93 432.23 L521.52 432.47 L521.18 432.81 L520.93 433.23 L520.79 433.7 L520.77 434.19 L520.87 434.67 L521.08 435.09 L521.4 435.46 L521.81 435.76 L522.27 436.02 L522.75 436.26 L523.23 436.5 L523.67 436.78 L524.03 437.11 L524.3 437.51 L524.46 437.96 L524.5 438.45 L524.42 438.93 L524.23 439.39 L523.94 439.77 L523.56 440.06 L523.11 440.26 L522.62 440.36 L522.09 440.39 L521.55 440.39 L521.02 440.41 L520.5 440.47 L520.03 440.62 L519.62 440.86 L519.28 441.2 L519.03 441.62 L518.9 442.09 L518.88 442.59 L518.97 443.06 L519.19 443.49 L519.51 443.85 L519.91 444.16 L520.37 444.41 L520.86 444.65 L521.34 444.89 L521.77 445.17 L522.14 445.5 L522.41 445.9 L522.57 446.35 L522.6 446.84 L522.52 447.33 L522.33 447.78 L522.04 448.16 L521.66 448.45 L521.21 448.65 L520.72 448.75 L520.19 448.78 L519.65 448.78 L519.12 448.8 L518.6 448.86 L518.13 449.01 L517.72 449.25 L517.38 449.59 L517.13 450.01 L517 450.49 L516.98 450.98 L517.08 451.45 L517.3 451.88 L517.62 452.24 L518.02 452.55 L518.48 452.8 L518.97 453.04 L519.45 453.28 L519.88 453.56 L520.24 453.89 L520.51 454.29 L520.67 454.75 L520.71 455.23 L520.63 455.72 L520.43 456.17 L520.14 456.55 L519.76 456.84 L519.31 457.04 L518.81 457.14 L518.29 457.17 L517.75 457.17 L517.21 457.18 L516.7 457.25 L516.23 457.4 L515.82 457.64 L515.48 457.98 L515.24 458.41 L515.1 458.88 L515.08 459.37 L515.18 459.84 L515.4 460.27 L515.72 460.63 L516.13 460.94 L516.59 461.19 L517.08 461.43 L517.55 461.67 L517.99 461.95 L518.35 462.28 L518.62 462.68 L518.77 463.14 L518.81 463.62 L518.73 464.11 L518.53 464.56 L518.24 464.94 L517.86 465.24 L517.41 465.43 L516.91 465.52 L516.39 465.56 L515.85 465.56 L515.31 465.57 L514.8 465.64 L514.33 465.79 L513.92 466.03 L513.58 466.37 L513.34 466.8 L513.2 467.27 L513.19 467.76 L513.29 468.24 L513.51 468.66 L513.83 469.03 L514.24 469.33 L514.7 469.58 L515.18 469.82 L515.66 470.06 L516.09 470.34 L516.46 470.68 L516.72 471.08 L516.88 471.53 L516.91 472.02 L516.83 472.5 L516.63 472.95 L516.34 473.34 L515.96 473.63 L515.51 473.81 L515.01 473.91 L514.48 473.94 L513.94 473.95 L513.41 473.96 L512.9 474.03 L512.43 474.18 L512.01 474.42 L511.68 474.77 L511.44 475.19 L511.31 475.67 L511.29 476.16 L511.39 476.63 L511.61 477.05 L511.94 477.42 L512.34 477.72 L512.81 477.97 L513.29 478.21 L513.77 478.45 L514.2 478.73 L514.56 479.07 L514.83 479.47 L514.98 479.92 L515.02 480.41 L514.93 480.9 L514.73 481.35 L514.44 481.73 L514.05 482.02 L513.61 482.2 L513.11 482.3 L512.58 482.33 L512.04 482.34 L511.51 482.35 L511 482.42 L510.53 482.57 L510.11 482.81 L509.78 483.16 L509.54 483.58 L509.41 484.06 L509.39 484.55 L509.5 485.02 L509.72 485.45 L510.04 485.81 L510.45 486.11 L510.91 486.37 L511.4 486.6 L511.88 486.84 L512.31 487.12 L512.67 487.46 L512.93 487.86 L513.09 488.32 L513.12 488.8 L513.03 489.29 L512.84 489.74 L512.54 490.12 L512.15 490.41 L511.71 490.59 L511.21 490.69 L510.68 490.72 L510.14 490.72 L509.61 490.74 L509.1 490.81 L508.63 490.96 L508.21 491.2 L507.88 491.55 L507.64 491.98 L507.51 492.45 L507.5 492.94 L507.6 493.41 L507.83 493.84 L508.15 494.2 L508.56 494.5 L509.02 494.76 L509.51 494.99 L509.98 495.23 L510.42 495.51 L510.78 495.85 L511.04 496.25 L511.19 496.71 L511.22 497.2 L511.14 497.68 L510.94 498.13 L510.64 498.51 L510.25 498.8 L509.8 498.98 L509.31 499.08 L508.78 499.11 L508.24 499.11 L507.7 499.13 L507.19 499.19 L506.72 499.35 L506.31 499.6 L505.98 499.94 L505.74 500.37 L505.61 500.84 L505.6 501.34 L505.71 501.81 L505.93 502.23 L506.26 502.59 L506.67 502.89 L507.13 503.15 L507.62 503.38 L508.09 503.62 L508.52 503.91 L508.88 504.24 L509.14 504.65 L509.29 505.1 L503.62 515.87" stroke="#8a0a4a" fill="none" stroke-width="1.08" stroke-linejoin="round"/>
<path d="M501.2 523.5 L501.34 511.16 L504.01 514.64 L508.2 513.34 Z" stroke="none" fill="#8a0a4a" stroke-width="1.2" />
<text x="575" y="252.2" font-family='"Liberation Sans", Arial, sans-serif' font-size="15" fill="#8a0a4a" >P</text>
<line x1="618.9" y1="105.9" x2="630.8" y2="87.3" stroke="#333" stroke-width="1.25" stroke-linecap="round"/>
<line x1="623.57" y1="104.89" x2="632.13" y2="91.5" stroke="#333" stroke-width="1.25" stroke-linecap="round"/>
<line x1="630.8" y1="87.3" x2="653.8" y2="87.3" stroke="#333" stroke-width="1.25" stroke-linecap="round"/>
<line x1="653.8" y1="87.3" x2="665.4" y2="105.9" stroke="#333" stroke-width="1.25" stroke-linecap="round"/>
<line x1="652.42" y1="91.51" x2="660.78" y2="104.9" stroke="#333" stroke-width="1.25" stroke-linecap="round"/>
<line x1="665.4" y1="105.9" x2="653.8" y2="124.4" stroke="#333" stroke-width="1.25" stroke-linecap="round"/>
<line x1="653.8" y1="124.4" x2="630.8" y2="124.4" stroke="#333" stroke-width="1.25" stroke-linecap="round"/>
<line x1="650.57" y1="121" x2="634.01" y2="121" stroke="#333" stroke-width="1.25" stroke-linecap="round"/>
<line x1="630.8" y1="124.4" x2="618.9" y2="105.9" stroke="#333" stroke-width="1.25" stroke-linecap="round"/>
<line x1="595.5" y1="106.3" x2="618.9" y2="105.9" stroke="#333" stroke-width="1.25" stroke-linecap="round"/>
<text x="580.6" y="111.4" font-family='"Liberation Sans", Arial, sans-serif' font-size="14" fill="#1a1a1a" textLength="12.6" lengthAdjust="spacingAndGlyphs" >Si</text>
<text x="550" y="84.3" font-family='"Liberation Sans", Arial, sans-serif' font-size="14" fill="#1a1a1a" textLength="31.5" lengthAdjust="spacingAndGlyphs" >MeO</text>
<text x="540.8" y="118.9" font-family='"Liberation Sans", Arial, sans-serif' font-size="14" fill="#1a1a1a" textLength="31.3" lengthAdjust="spacingAndGlyphs" >MeO</text>
<text x="558.2" y="134" font-family='"Liberation Sans", Arial, sans-serif' font-size="14" fill="#1a1a1a" textLength="31.2" lengthAdjust="spacingAndGlyphs" >MeO</text>
<line x1="579" y1="87.5" x2="584.5" y2="100" stroke="#333" stroke-width="1.25" stroke-linecap="round"/>
<line x1="579.5" y1="110.5" x2="574.5" y2="112.3" stroke="#333" stroke-width="1.25" stroke-linecap="round"/>
<line x1="587" y1="114.5" x2="587" y2="122" stroke="#333" stroke-width="1.25" stroke-linecap="round"/>
<line x1="653.8" y1="87.3" x2="659.5" y2="78" stroke="#333" stroke-width="1.25" stroke-linecap="round"/>
<text x="654.3" y="75.4" font-family='"Liberation Sans", Arial, sans-serif' font-size="14" fill="#1a1a1a" textLength="12.6" lengthAdjust="spacingAndGlyphs" >Si</text>
<text x="635" y="53.8" font-family='"Liberation Sans", Arial, sans-serif' font-size="14" fill="#1a1a1a" textLength="31.8" lengthAdjust="spacingAndGlyphs" >MeO</text>
<text x="674.6" y="77.6" font-family='"Liberation Sans", Arial, sans-serif' font-size="14" fill="#1a1a1a" textLength="31.5" lengthAdjust="spacingAndGlyphs" >OMe</text>
<text x="671.5" y="92.6" font-family='"Liberation Sans", Arial, sans-serif' font-size="14" fill="#1a1a1a" textLength="31.8" lengthAdjust="spacingAndGlyphs" >OMe</text>
<line x1="658.5" y1="56.5" x2="660" y2="63.5" stroke="#333" stroke-width="1.25" stroke-linecap="round"/>
<line x1="668" y1="71.5" x2="673.3" y2="71.8" stroke="#333" stroke-width="1.25" stroke-linecap="round"/>
<line x1="667" y1="77.8" x2="671.5" y2="83.5" stroke="#333" stroke-width="1.25" stroke-linecap="round"/>
<line x1="653.8" y1="124.4" x2="662" y2="134.5" stroke="#333" stroke-width="1.25" stroke-linecap="round"/>
<text x="660.7" y="146" font-family='"Liberation Sans", Arial, sans-serif' font-size="14" fill="#1a1a1a" textLength="12.8" lengthAdjust="spacingAndGlyphs" >Si</text>
<text x="680.7" y="146" font-family='"Liberation Sans", Arial, sans-serif' font-size="14" fill="#1a1a1a" textLength="31.8" lengthAdjust="spacingAndGlyphs" >OMe</text>
<text x="628.6" y="159.9" font-family='"Liberation Sans", Arial, sans-serif' font-size="14" fill="#1a1a1a" textLength="31.3" lengthAdjust="spacingAndGlyphs" >MeO</text>
<text x="660.7" y="167.6" font-family='"Liberation Sans", Arial, sans-serif' font-size="14" fill="#1a1a1a" textLength="31.6" lengthAdjust="spacingAndGlyphs" >OMe</text>
<line x1="674.5" y1="141" x2="679.3" y2="141" stroke="#333" stroke-width="1.25" stroke-linecap="round"/>
<line x1="661.5" y1="148.5" x2="659.5" y2="150.5" stroke="#333" stroke-width="1.25" stroke-linecap="round"/>
<line x1="665.5" y1="149" x2="665.5" y2="156" stroke="#333" stroke-width="1.25" stroke-linecap="round"/>
</g>
<g filter="url(#shBox)"><polygon points="553.5,307 714.3,338.7 682.6,505.9 517.5,476.2" fill="#fff"/></g>
<line x1="588.2" y1="404.29" x2="605.13" y2="378.89" stroke="#a0a0a0" stroke-width="1.76" />
<line x1="605.13" y1="378.89" x2="638.99" y2="391.59" stroke="#a0a0a0" stroke-width="1.76" />
<line x1="638.99" y1="391.59" x2="657.2" y2="416.98" stroke="#a0a0a0" stroke-width="1.76" />
<line x1="657.2" y1="416.98" x2="638.15" y2="440.26" stroke="#a0a0a0" stroke-width="1.76" />
<line x1="638.15" y1="440.26" x2="606.4" y2="426.3" stroke="#a0a0a0" stroke-width="1.76" />
<line x1="606.4" y1="426.3" x2="588.2" y2="404.29" stroke="#a0a0a0" stroke-width="1.76" />
<line x1="565.34" y1="400.9" x2="588.2" y2="404.29" stroke="#9494a4" stroke-width="1.35" />
<line x1="659.31" y1="367.46" x2="638.99" y2="391.59" stroke="#9494a4" stroke-width="1.35" />
<line x1="644.5" y1="459.31" x2="638.15" y2="440.26" stroke="#9494a4" stroke-width="1.35" />
<line x1="605.13" y1="378.89" x2="606.4" y2="369.58" stroke="#b8b8b8" stroke-width="1.35" />
<circle cx="606.4" cy="369.58" r="1.8" fill="url(#gH)" stroke="#aaa" stroke-width="0.3"/>
<line x1="657.2" y1="416.98" x2="666.93" y2="415.71" stroke="#b8b8b8" stroke-width="1.35" />
<circle cx="666.93" cy="415.71" r="1.8" fill="url(#gH)" stroke="#aaa" stroke-width="0.3"/>
<line x1="606.4" y1="426.3" x2="597.94" y2="436.03" stroke="#b8b8b8" stroke-width="1.35" />
<circle cx="597.94" cy="436.03" r="1.8" fill="url(#gH)" stroke="#aaa" stroke-width="0.3"/>
<circle cx="638.99" cy="391.59" r="2.34" fill="url(#gC)"/>
<circle cx="606.4" cy="426.3" r="2.34" fill="url(#gC)"/>
<line x1="565.34" y1="400.9" x2="557.72" y2="370.42" stroke="#9494a4" stroke-width="1.35" />
<line x1="557.72" y1="370.42" x2="550.21" y2="367.69" stroke="#b0b0b0" stroke-width="1.22" />
<circle cx="550.21" cy="367.69" r="1.8" fill="url(#gH)" stroke="#aaa" stroke-width="0.3"/>
<line x1="557.72" y1="370.42" x2="557.72" y2="362.42" stroke="#b0b0b0" stroke-width="1.22" />
<circle cx="557.72" cy="362.42" r="1.8" fill="url(#gH)" stroke="#aaa" stroke-width="0.3"/>
<line x1="557.72" y1="370.42" x2="564.65" y2="366.42" stroke="#b0b0b0" stroke-width="1.22" />
<circle cx="564.65" cy="366.42" r="1.8" fill="url(#gH)" stroke="#aaa" stroke-width="0.3"/>
<circle cx="557.72" cy="370.42" r="2.47" fill="url(#gC)"/>
<line x1="565.34" y1="400.9" x2="553.49" y2="405.13" stroke="#9494a4" stroke-width="1.35" />
<line x1="565.34" y1="400.9" x2="553.49" y2="416.98" stroke="#9494a4" stroke-width="1.35" />
<line x1="552.65" y1="412.75" x2="530.21" y2="403.44" stroke="#b8b8b8" stroke-width="1.22" />
<circle cx="530.21" cy="403.44" r="1.68" fill="url(#gH)" stroke="#aaa" stroke-width="0.3"/>
<line x1="552.65" y1="412.75" x2="532.33" y2="419.1" stroke="#b8b8b8" stroke-width="1.22" />
<circle cx="532.33" cy="419.1" r="1.68" fill="url(#gH)" stroke="#aaa" stroke-width="0.3"/>
<line x1="552.65" y1="412.75" x2="547.14" y2="423.33" stroke="#b8b8b8" stroke-width="1.22" />
<circle cx="547.14" cy="423.33" r="1.68" fill="url(#gH)" stroke="#aaa" stroke-width="0.3"/>
<line x1="552.65" y1="412.75" x2="553.49" y2="438.15" stroke="#b8b8b8" stroke-width="1.22" />
<circle cx="553.49" cy="438.15" r="1.68" fill="url(#gH)" stroke="#aaa" stroke-width="0.3"/>
<line x1="552.65" y1="412.75" x2="542.91" y2="395.82" stroke="#b8b8b8" stroke-width="1.22" />
<circle cx="542.91" cy="395.82" r="1.68" fill="url(#gH)" stroke="#aaa" stroke-width="0.3"/>
<ellipse cx="554.34" cy="405.13" rx="5.4" ry="4.8" fill="url(#gR)" transform="rotate(0 554.34 405.13)"/>
<ellipse cx="553.49" cy="416.14" rx="5.2" ry="4.6" fill="url(#gB)" transform="rotate(0 553.49 416.14)"/>
<line x1="659.31" y1="367.46" x2="694.02" y2="378.89" stroke="#9494a4" stroke-width="1.35" />
<line x1="694.02" y1="378.89" x2="701.54" y2="381.63" stroke="#b0b0b0" stroke-width="1.22" />
<circle cx="701.54" cy="381.63" r="1.8" fill="url(#gH)" stroke="#aaa" stroke-width="0.3"/>
<line x1="694.02" y1="378.89" x2="692.63" y2="386.77" stroke="#b0b0b0" stroke-width="1.22" />
<circle cx="692.63" cy="386.77" r="1.8" fill="url(#gH)" stroke="#aaa" stroke-width="0.3"/>
<line x1="694.02" y1="378.89" x2="700.15" y2="373.75" stroke="#b0b0b0" stroke-width="1.22" />
<circle cx="700.15" cy="373.75" r="1.8" fill="url(#gH)" stroke="#aaa" stroke-width="0.3"/>
<circle cx="694.02" cy="378.89" r="2.47" fill="url(#gC)"/>
<line x1="659.31" y1="367.46" x2="655.08" y2="342.91" stroke="#9494a4" stroke-width="1.35" />
<line x1="655.08" y1="342.91" x2="647.56" y2="340.17" stroke="#b0b0b0" stroke-width="1.22" />
<circle cx="647.56" cy="340.17" r="1.8" fill="url(#gH)" stroke="#aaa" stroke-width="0.3"/>
<line x1="655.08" y1="342.91" x2="656.47" y2="335.03" stroke="#b0b0b0" stroke-width="1.22" />
<circle cx="656.47" cy="335.03" r="1.8" fill="url(#gH)" stroke="#aaa" stroke-width="0.3"/>
<line x1="655.08" y1="342.91" x2="662.6" y2="340.17" stroke="#b0b0b0" stroke-width="1.22" />
<circle cx="662.6" cy="340.17" r="1.8" fill="url(#gH)" stroke="#aaa" stroke-width="0.3"/>
<circle cx="655.08" cy="342.91" r="2.47" fill="url(#gC)"/>
<line x1="659.31" y1="367.46" x2="652.96" y2="355.61" stroke="#9494a4" stroke-width="1.35" />
<line x1="652.96" y1="355.61" x2="644.96" y2="355.61" stroke="#b0b0b0" stroke-width="1.22" />
<circle cx="644.96" cy="355.61" r="1.8" fill="url(#gH)" stroke="#aaa" stroke-width="0.3"/>
<line x1="652.96" y1="355.61" x2="650.23" y2="348.09" stroke="#b0b0b0" stroke-width="1.22" />
<circle cx="650.23" cy="348.09" r="1.8" fill="url(#gH)" stroke="#aaa" stroke-width="0.3"/>
<line x1="652.96" y1="355.61" x2="660.48" y2="358.34" stroke="#b0b0b0" stroke-width="1.22" />
<circle cx="660.48" cy="358.34" r="1.8" fill="url(#gH)" stroke="#aaa" stroke-width="0.3"/>
<circle cx="652.96" cy="355.61" r="2.47" fill="url(#gC)"/>
<line x1="644.5" y1="459.31" x2="621.22" y2="478.36" stroke="#9494a4" stroke-width="1.35" />
<line x1="621.22" y1="478.36" x2="618.48" y2="485.88" stroke="#b0b0b0" stroke-width="1.22" />
<circle cx="618.48" cy="485.88" r="1.8" fill="url(#gH)" stroke="#aaa" stroke-width="0.3"/>
<line x1="621.22" y1="478.36" x2="613.34" y2="476.97" stroke="#b0b0b0" stroke-width="1.22" />
<circle cx="613.34" cy="476.97" r="1.8" fill="url(#gH)" stroke="#aaa" stroke-width="0.3"/>
<line x1="621.22" y1="478.36" x2="625.22" y2="485.29" stroke="#b0b0b0" stroke-width="1.22" />
<circle cx="625.22" cy="485.29" r="1.8" fill="url(#gH)" stroke="#aaa" stroke-width="0.3"/>
<circle cx="621.22" cy="478.36" r="2.47" fill="url(#gC)"/>
<line x1="644.5" y1="459.31" x2="659.31" y2="455.93" stroke="#9494a4" stroke-width="1.35" />
<line x1="644.5" y1="459.31" x2="658.47" y2="466.93" stroke="#9494a4" stroke-width="1.35" />
<line x1="661.43" y1="461.43" x2="678.36" y2="442.38" stroke="#b8b8b8" stroke-width="1.22" />
<circle cx="678.36" cy="442.38" r="1.68" fill="url(#gH)" stroke="#aaa" stroke-width="0.3"/>
<line x1="661.43" y1="461.43" x2="676.24" y2="459.31" stroke="#b8b8b8" stroke-width="1.22" />
<circle cx="676.24" cy="459.31" r="1.68" fill="url(#gH)" stroke="#aaa" stroke-width="0.3"/>
<line x1="661.43" y1="461.43" x2="672.01" y2="472.01" stroke="#b8b8b8" stroke-width="1.22" />
<circle cx="672.01" cy="472.01" r="1.68" fill="url(#gH)" stroke="#aaa" stroke-width="0.3"/>
<line x1="661.43" y1="461.43" x2="650.85" y2="472.86" stroke="#b8b8b8" stroke-width="1.22" />
<circle cx="650.85" cy="472.86" r="1.68" fill="url(#gH)" stroke="#aaa" stroke-width="0.3"/>
<line x1="661.43" y1="461.43" x2="665.66" y2="448.73" stroke="#b8b8b8" stroke-width="1.22" />
<circle cx="665.66" cy="448.73" r="1.68" fill="url(#gH)" stroke="#aaa" stroke-width="0.3"/>
<ellipse cx="660.16" cy="455.93" rx="5.6" ry="4.8" fill="url(#gB)" transform="rotate(0 660.16 455.93)"/>
<ellipse cx="658.47" cy="466.93" rx="5.4" ry="4.4" fill="url(#gR)" transform="rotate(0 658.47 466.93)"/>
<circle cx="565.34" cy="400.9" r="2.8" fill="url(#gSi)"/>
<circle cx="659.31" cy="367.46" r="2.8" fill="url(#gSi)"/>
<circle cx="644.5" cy="459.31" r="2.8" fill="url(#gSi)"/>
<rect x="582.48" y="383.69" width="47" height="28.5" rx="13.39" ry="14.25" fill="url(#gR)" transform="rotate(-41 605.98 397.94)"/>
<rect x="583.33" y="378.11" width="47" height="29.5" rx="13.86" ry="14.75" fill="url(#gB)" transform="rotate(-41 606.83 392.86)"/>
<rect x="618.03" y="409.08" width="47" height="28.5" rx="13.39" ry="14.25" fill="url(#gB)" transform="rotate(-41 641.53 423.33)"/>
<rect x="618.88" y="403.5" width="47" height="29.5" rx="13.86" ry="14.75" fill="url(#gR)" transform="rotate(-41 642.38 418.25)"/>
</svg></body></html>
